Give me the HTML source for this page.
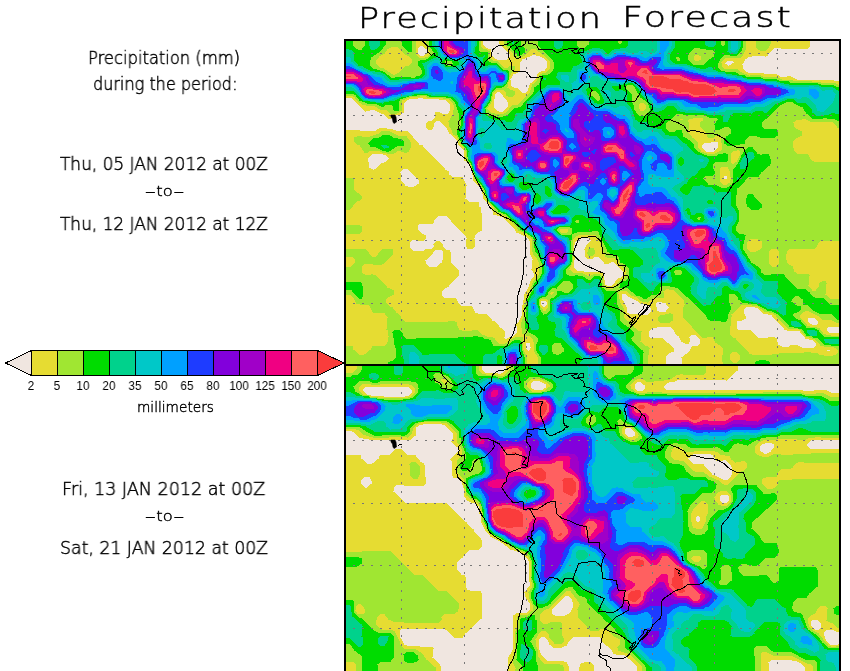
<!DOCTYPE html>
<html lang="en"><head><meta charset="utf-8"><title>Precipitation Forecast</title>
<style>
html,body{margin:0;padding:0;background:#fff}
body{width:850px;height:671px;position:relative;overflow:hidden;font-family:"DejaVu Sans","Liberation Sans",sans-serif;font-weight:200;color:#000}
.t{position:absolute;white-space:pre;line-height:1;transform-origin:0 0;will-change:transform}
.big{-webkit-text-stroke:0.45px #000;letter-spacing:1.6px}
.med{-webkit-text-stroke:0.5px #000}
.sm{-webkit-text-stroke:0.4px #000}
.d{display:inline-block;transform:scaleX(1.9);margin:0 2.2px}
.tick{font-size:12.4px;font-family:"Liberation Sans",sans-serif;font-weight:400;text-align:center;transform-origin:50% 50%;transform:scaleX(.94)}
svg{position:absolute;left:0;top:0}
</style></head><body>
<svg width="850" height="671" viewBox="0 0 850 671">
<defs><clipPath id="ct"><rect x="346" y="41" width="493" height="323"/></clipPath><clipPath id="cb"><rect x="346" y="366" width="493" height="306"/></clipPath></defs>
<g clip-path="url(#ct)" shape-rendering="crispEdges"><rect x="346" y="41" width="493" height="323" fill="#f0e6e0"/>
<path fill="#e6dc32" d="M345.5,40.5L345.5,97.5L349.5,97.5L351.5,98.5L365.5,111.5L373.5,109.5L380.5,113.5L382.5,113.5L387.5,118.5L391.5,118.5L395.5,115.5L400.5,114.5L403.5,112.5L403.5,103.5L408.5,99.5L417.5,98.5L418.5,97.5L421.5,97.5L422.5,98.5L437.5,98.5L438.5,99.5L445.5,100.5L449.5,103.5L450.5,108.5L448.5,112.5L446.5,114.5L441.5,113.5L438.5,111.5L434.5,112.5L434.5,117.5L432.5,120.5L427.5,121.5L425.5,123.5L425.5,127.5L427.5,129.5L431.5,129.5L433.5,127.5L434.5,122.5L436.5,120.5L438.5,120.5L445.5,126.5L449.5,133.5L455.5,138.5L457.5,141.5L458.5,145.5L463.5,150.5L464.5,160.5L469.5,165.5L471.5,169.5L473.5,180.5L480.5,188.5L482.5,193.5L482.5,197.5L491.5,207.5L493.5,214.5L503.5,217.5L506.5,221.5L513.5,227.5L516.5,232.5L525.5,236.5L528.5,239.5L529.5,241.5L529.5,253.5L532.5,259.5L531.5,269.5L533.5,272.5L533.5,276.5L530.5,280.5L528.5,287.5L523.5,295.5L523.5,299.5L522.5,300.5L522.5,304.5L521.5,305.5L521.5,315.5L519.5,320.5L515.5,325.5L516.5,326.5L517.5,331.5L512.5,336.5L510.5,336.5L506.5,338.5L504.5,338.5L503.5,337.5L504.5,336.5L504.5,331.5L500.5,327.5L499.5,327.5L498.5,325.5L493.5,320.5L492.5,320.5L486.5,313.5L477.5,313.5L475.5,312.5L471.5,305.5L460.5,305.5L458.5,303.5L455.5,297.5L444.5,298.5L441.5,295.5L441.5,291.5L444.5,288.5L448.5,286.5L449.5,284.5L453.5,280.5L454.5,280.5L458.5,275.5L458.5,270.5L457.5,268.5L450.5,262.5L450.5,252.5L449.5,250.5L445.5,249.5L442.5,246.5L442.5,244.5L439.5,240.5L435.5,241.5L433.5,244.5L433.5,246.5L431.5,248.5L424.5,249.5L423.5,250.5L413.5,250.5L409.5,247.5L409.5,242.5L412.5,239.5L415.5,239.5L416.5,240.5L423.5,240.5L425.5,238.5L425.5,235.5L421.5,233.5L417.5,229.5L417.5,225.5L420.5,223.5L431.5,224.5L433.5,222.5L433.5,220.5L437.5,216.5L439.5,215.5L444.5,215.5L446.5,216.5L450.5,220.5L450.5,221.5L465.5,235.5L465.5,237.5L466.5,238.5L465.5,240.5L465.5,245.5L467.5,248.5L472.5,248.5L474.5,246.5L474.5,239.5L473.5,238.5L474.5,237.5L474.5,235.5L477.5,232.5L481.5,230.5L481.5,213.5L480.5,212.5L480.5,207.5L479.5,206.5L478.5,201.5L468.5,201.5L465.5,198.5L466.5,185.5L462.5,177.5L460.5,176.5L452.5,177.5L449.5,174.5L448.5,171.5L445.5,169.5L422.5,145.5L419.5,144.5L407.5,130.5L397.5,131.5L394.5,129.5L392.5,129.5L391.5,128.5L386.5,128.5L385.5,127.5L378.5,128.5L374.5,131.5L345.5,129.5L345.5,364.5L665.5,364.5L665.5,356.5L668.5,353.5L673.5,351.5L673.5,347.5L661.5,337.5L650.5,338.5L648.5,336.5L648.5,331.5L651.5,328.5L656.5,327.5L657.5,326.5L668.5,326.5L670.5,327.5L673.5,330.5L675.5,334.5L678.5,336.5L681.5,341.5L684.5,343.5L688.5,343.5L689.5,341.5L689.5,337.5L691.5,334.5L694.5,334.5L699.5,339.5L699.5,343.5L697.5,345.5L691.5,346.5L689.5,351.5L681.5,357.5L681.5,364.5L839.5,364.5L839.5,332.5L828.5,332.5L826.5,330.5L826.5,328.5L829.5,326.5L839.5,326.5L839.5,80.5L833.5,80.5L832.5,79.5L796.5,79.5L789.5,75.5L787.5,75.5L786.5,76.5L780.5,76.5L775.5,73.5L765.5,74.5L761.5,72.5L747.5,72.5L742.5,68.5L742.5,64.5L745.5,59.5L749.5,56.5L751.5,56.5L752.5,55.5L765.5,56.5L767.5,55.5L774.5,47.5L779.5,47.5L780.5,48.5L807.5,48.5L809.5,46.5L809.5,40.5L498.5,40.5L499.5,44.5L506.5,51.5L507.5,51.5L510.5,55.5L507.5,59.5L496.5,59.5L494.5,58.5L491.5,54.5L490.5,49.5L485.5,47.5L482.5,44.5L482.5,40.5ZM826.5,350.5L827.5,349.5L829.5,350.5L828.5,351.5ZM526.5,342.5L528.5,342.5L529.5,343.5L529.5,346.5L530.5,347.5L528.5,351.5L525.5,347.5L525.5,343.5ZM807.5,318.5L808.5,317.5L813.5,317.5L817.5,320.5L817.5,323.5L816.5,324.5L811.5,324.5L808.5,322.5ZM736.5,321.5L737.5,320.5L741.5,320.5L745.5,318.5L745.5,315.5L743.5,312.5L743.5,309.5L746.5,306.5L752.5,306.5L757.5,308.5L763.5,313.5L771.5,315.5L784.5,329.5L786.5,330.5L797.5,330.5L799.5,331.5L805.5,338.5L812.5,340.5L815.5,343.5L815.5,345.5L813.5,347.5L802.5,347.5L795.5,344.5L789.5,345.5L788.5,346.5L781.5,346.5L778.5,344.5L776.5,338.5L773.5,336.5L768.5,336.5L767.5,337.5L760.5,338.5L759.5,337.5L757.5,337.5L750.5,329.5L738.5,330.5L736.5,328.5ZM655.5,303.5L658.5,301.5L665.5,303.5L668.5,307.5L665.5,311.5L660.5,312.5L657.5,310.5ZM541.5,300.5L544.5,300.5L546.5,302.5L546.5,304.5L544.5,307.5L540.5,304.5L540.5,301.5ZM621.5,294.5L622.5,293.5L624.5,293.5L629.5,297.5L636.5,300.5L639.5,303.5L647.5,305.5L650.5,308.5L650.5,311.5L647.5,314.5L640.5,314.5L639.5,313.5L629.5,314.5L627.5,312.5L626.5,307.5L623.5,301.5L621.5,299.5ZM440.5,249.5L442.5,251.5L442.5,259.5L441.5,260.5L441.5,262.5L436.5,266.5L428.5,266.5L425.5,263.5L425.5,260.5L431.5,255.5L435.5,249.5ZM578.5,238.5L587.5,237.5L591.5,240.5L586.5,244.5L584.5,249.5L584.5,256.5L586.5,258.5L592.5,258.5L593.5,257.5L598.5,256.5L604.5,263.5L608.5,263.5L612.5,261.5L622.5,270.5L623.5,274.5L620.5,277.5L617.5,278.5L612.5,285.5L608.5,286.5L605.5,284.5L603.5,274.5L600.5,271.5L584.5,272.5L583.5,271.5L576.5,270.5L573.5,267.5L573.5,260.5L574.5,259.5L574.5,257.5L573.5,256.5L573.5,245.5L574.5,244.5L574.5,242.5ZM723.5,176.5L725.5,175.5L726.5,176.5L726.5,178.5L724.5,179.5L723.5,178.5ZM402.5,169.5L407.5,168.5L410.5,172.5L418.5,179.5L418.5,183.5L414.5,186.5L407.5,186.5L405.5,185.5L400.5,179.5L400.5,172.5ZM367.5,161.5L368.5,157.5L373.5,153.5L380.5,153.5L385.5,155.5L388.5,158.5L386.5,161.5L380.5,163.5L378.5,166.5L374.5,169.5L372.5,169.5L369.5,167.5L368.5,162.5ZM717.5,142.5L718.5,147.5L713.5,151.5L705.5,151.5L701.5,147.5L701.5,145.5L704.5,142.5L710.5,142.5L711.5,141.5L716.5,141.5ZM497.5,91.5L499.5,91.5L507.5,101.5L507.5,106.5L503.5,111.5L498.5,111.5L493.5,107.5L493.5,99.5L494.5,98.5L494.5,94.5ZM725.5,63.5L727.5,60.5L731.5,60.5L733.5,62.5L729.5,65.5L727.5,65.5ZM537.5,55.5L543.5,58.5L546.5,61.5L547.5,66.5L544.5,70.5L540.5,71.5L537.5,73.5L536.5,77.5L531.5,82.5L530.5,82.5L527.5,90.5L525.5,92.5L522.5,93.5L517.5,88.5L513.5,87.5L510.5,85.5L510.5,79.5L513.5,74.5L520.5,71.5L519.5,62.5L522.5,59.5L534.5,54.5L535.5,55.5ZM421.5,45.5L426.5,49.5L426.5,53.5L422.5,56.5L419.5,55.5L417.5,53.5L417.5,49.5L418.5,47.5Z"/>
<path fill="#a0e632" d="M672.5,314.5L669.5,312.5L668.5,313.5L665.5,313.5L664.5,314.5L659.5,315.5L657.5,317.5L657.5,320.5L659.5,322.5L669.5,322.5L672.5,320.5ZM345.5,248.5L345.5,256.5L351.5,256.5L354.5,259.5L354.5,262.5L350.5,266.5L345.5,266.5L345.5,294.5L349.5,294.5L353.5,298.5L356.5,303.5L358.5,303.5L359.5,304.5L367.5,304.5L369.5,306.5L372.5,312.5L382.5,312.5L384.5,313.5L387.5,317.5L386.5,329.5L387.5,330.5L387.5,335.5L388.5,336.5L387.5,342.5L384.5,345.5L372.5,345.5L370.5,349.5L364.5,354.5L359.5,354.5L353.5,349.5L352.5,346.5L350.5,345.5L345.5,345.5L345.5,364.5L526.5,364.5L526.5,356.5L523.5,349.5L522.5,337.5L521.5,336.5L516.5,336.5L510.5,339.5L505.5,343.5L498.5,343.5L494.5,339.5L494.5,338.5L490.5,336.5L486.5,336.5L482.5,334.5L476.5,329.5L472.5,329.5L471.5,330.5L461.5,330.5L459.5,329.5L457.5,326.5L456.5,322.5L453.5,320.5L448.5,320.5L447.5,321.5L404.5,321.5L401.5,318.5L400.5,315.5L396.5,312.5L392.5,307.5L389.5,306.5L385.5,302.5L385.5,299.5L387.5,297.5L393.5,294.5L393.5,290.5L387.5,287.5L375.5,274.5L372.5,274.5L371.5,273.5L370.5,274.5L364.5,274.5L361.5,272.5L361.5,267.5L362.5,265.5L365.5,263.5L371.5,263.5L372.5,264.5L376.5,264.5L377.5,265.5L382.5,264.5L393.5,254.5L392.5,249.5L390.5,248.5L383.5,248.5L380.5,250.5L376.5,256.5L371.5,256.5L366.5,249.5ZM589.5,247.5L587.5,249.5L587.5,251.5L586.5,252.5L588.5,255.5L592.5,255.5L594.5,253.5L594.5,250.5L593.5,248.5ZM345.5,224.5L345.5,233.5L359.5,233.5L361.5,231.5L361.5,226.5L358.5,224.5ZM345.5,177.5L345.5,209.5L349.5,209.5L352.5,207.5L353.5,204.5L356.5,201.5L359.5,200.5L361.5,198.5L361.5,195.5L353.5,189.5L353.5,179.5L351.5,177.5ZM353.5,138.5L354.5,142.5L356.5,144.5L359.5,145.5L364.5,152.5L367.5,152.5L370.5,150.5L377.5,150.5L381.5,152.5L391.5,154.5L392.5,153.5L394.5,153.5L398.5,150.5L403.5,152.5L406.5,152.5L408.5,151.5L410.5,147.5L410.5,141.5L406.5,136.5L404.5,135.5L397.5,135.5L387.5,130.5L380.5,131.5L378.5,133.5L370.5,136.5L361.5,136.5L360.5,135.5L357.5,135.5L356.5,136.5L354.5,136.5ZM755.5,40.5L755.5,46.5L756.5,48.5L759.5,50.5L765.5,50.5L768.5,47.5L770.5,43.5L770.5,40.5ZM345.5,40.5L345.5,95.5L350.5,95.5L354.5,97.5L357.5,101.5L362.5,104.5L364.5,104.5L365.5,105.5L373.5,105.5L379.5,109.5L386.5,110.5L389.5,113.5L397.5,113.5L401.5,110.5L401.5,101.5L402.5,100.5L409.5,97.5L419.5,96.5L420.5,95.5L425.5,96.5L426.5,97.5L441.5,97.5L442.5,98.5L448.5,99.5L452.5,103.5L453.5,105.5L453.5,109.5L452.5,110.5L452.5,114.5L448.5,121.5L449.5,126.5L451.5,129.5L451.5,131.5L453.5,134.5L456.5,136.5L458.5,139.5L459.5,143.5L463.5,147.5L465.5,151.5L465.5,158.5L470.5,164.5L474.5,178.5L481.5,187.5L483.5,191.5L483.5,194.5L486.5,200.5L493.5,207.5L494.5,210.5L496.5,212.5L504.5,215.5L515.5,225.5L518.5,230.5L526.5,234.5L531.5,239.5L531.5,249.5L533.5,254.5L537.5,259.5L537.5,261.5L538.5,262.5L538.5,274.5L532.5,282.5L530.5,289.5L526.5,296.5L526.5,299.5L523.5,307.5L523.5,316.5L520.5,324.5L520.5,327.5L521.5,328.5L522.5,333.5L525.5,335.5L529.5,336.5L532.5,339.5L532.5,341.5L533.5,342.5L533.5,350.5L537.5,356.5L537.5,364.5L647.5,364.5L647.5,356.5L648.5,355.5L649.5,348.5L646.5,345.5L644.5,345.5L640.5,341.5L641.5,331.5L638.5,330.5L634.5,327.5L629.5,321.5L626.5,320.5L623.5,317.5L623.5,307.5L619.5,301.5L619.5,299.5L618.5,298.5L618.5,293.5L620.5,290.5L625.5,290.5L631.5,295.5L636.5,297.5L641.5,301.5L647.5,302.5L654.5,297.5L663.5,297.5L663.5,291.5L667.5,288.5L668.5,289.5L673.5,290.5L683.5,300.5L684.5,304.5L682.5,308.5L682.5,316.5L683.5,318.5L690.5,324.5L692.5,328.5L702.5,337.5L706.5,337.5L707.5,336.5L712.5,337.5L715.5,342.5L722.5,347.5L722.5,354.5L721.5,355.5L721.5,361.5L722.5,362.5L722.5,364.5L839.5,364.5L839.5,335.5L830.5,335.5L829.5,334.5L825.5,334.5L823.5,333.5L819.5,328.5L814.5,326.5L809.5,326.5L807.5,325.5L799.5,316.5L802.5,312.5L806.5,310.5L818.5,316.5L821.5,319.5L829.5,319.5L835.5,322.5L839.5,322.5L839.5,298.5L830.5,299.5L825.5,294.5L826.5,283.5L825.5,281.5L823.5,280.5L819.5,282.5L818.5,286.5L815.5,290.5L812.5,290.5L808.5,285.5L809.5,275.5L807.5,273.5L796.5,273.5L794.5,271.5L792.5,266.5L788.5,264.5L786.5,262.5L786.5,260.5L785.5,259.5L785.5,254.5L786.5,253.5L786.5,251.5L789.5,248.5L814.5,248.5L816.5,247.5L818.5,242.5L821.5,240.5L839.5,240.5L839.5,161.5L813.5,161.5L810.5,159.5L807.5,153.5L797.5,153.5L793.5,150.5L793.5,148.5L792.5,147.5L792.5,142.5L795.5,138.5L801.5,135.5L801.5,131.5L795.5,128.5L793.5,126.5L793.5,122.5L797.5,119.5L801.5,119.5L803.5,118.5L809.5,121.5L830.5,121.5L832.5,122.5L836.5,126.5L836.5,127.5L839.5,128.5L839.5,84.5L837.5,84.5L833.5,82.5L820.5,82.5L819.5,81.5L811.5,81.5L810.5,80.5L798.5,81.5L797.5,80.5L792.5,80.5L791.5,79.5L781.5,79.5L775.5,76.5L768.5,76.5L767.5,77.5L766.5,76.5L762.5,76.5L758.5,74.5L749.5,75.5L741.5,72.5L736.5,68.5L723.5,68.5L721.5,66.5L721.5,62.5L725.5,57.5L739.5,58.5L742.5,55.5L745.5,49.5L745.5,40.5L503.5,40.5L504.5,45.5L512.5,52.5L513.5,55.5L516.5,58.5L518.5,58.5L525.5,55.5L531.5,48.5L535.5,49.5L542.5,54.5L549.5,61.5L549.5,68.5L545.5,72.5L543.5,72.5L539.5,74.5L536.5,81.5L532.5,84.5L529.5,93.5L527.5,94.5L518.5,104.5L511.5,105.5L509.5,107.5L508.5,110.5L504.5,113.5L494.5,113.5L493.5,112.5L490.5,112.5L487.5,108.5L491.5,102.5L493.5,92.5L496.5,89.5L502.5,89.5L505.5,92.5L506.5,95.5L509.5,97.5L512.5,96.5L514.5,94.5L514.5,91.5L511.5,89.5L509.5,89.5L507.5,87.5L509.5,77.5L511.5,72.5L514.5,69.5L514.5,66.5L513.5,65.5L509.5,65.5L507.5,67.5L503.5,67.5L497.5,61.5L492.5,60.5L490.5,58.5L489.5,51.5L486.5,49.5L482.5,48.5L480.5,46.5L480.5,40.5L425.5,40.5L425.5,44.5L429.5,50.5L429.5,54.5L427.5,56.5L422.5,58.5L418.5,57.5L415.5,54.5L415.5,40.5ZM732.5,351.5L735.5,351.5L739.5,355.5L739.5,359.5L736.5,362.5L733.5,362.5L729.5,359.5L729.5,354.5ZM731.5,314.5L735.5,311.5L740.5,305.5L750.5,304.5L751.5,305.5L757.5,306.5L764.5,311.5L772.5,313.5L775.5,315.5L778.5,319.5L788.5,328.5L798.5,329.5L800.5,330.5L805.5,336.5L815.5,339.5L820.5,345.5L822.5,345.5L823.5,346.5L831.5,346.5L835.5,348.5L837.5,350.5L837.5,352.5L835.5,354.5L833.5,354.5L832.5,355.5L823.5,355.5L822.5,354.5L818.5,354.5L817.5,353.5L810.5,352.5L809.5,351.5L804.5,351.5L803.5,352.5L779.5,352.5L778.5,353.5L772.5,353.5L771.5,354.5L751.5,354.5L749.5,353.5L735.5,338.5L732.5,337.5L729.5,334.5L729.5,326.5L730.5,325.5L730.5,317.5L731.5,316.5ZM541.5,298.5L545.5,298.5L547.5,300.5L548.5,306.5L545.5,310.5L543.5,310.5L539.5,305.5L539.5,300.5ZM549.5,293.5L551.5,291.5L553.5,292.5L551.5,295.5ZM772.5,248.5L775.5,248.5L778.5,251.5L778.5,263.5L775.5,266.5L771.5,266.5L768.5,262.5L768.5,252.5L769.5,250.5ZM746.5,243.5L749.5,239.5L751.5,238.5L755.5,238.5L761.5,241.5L762.5,246.5L759.5,249.5L755.5,251.5L749.5,251.5L746.5,248.5ZM575.5,236.5L580.5,234.5L593.5,234.5L595.5,235.5L601.5,244.5L601.5,246.5L605.5,256.5L606.5,257.5L613.5,257.5L618.5,262.5L618.5,263.5L625.5,269.5L626.5,271.5L625.5,276.5L622.5,279.5L619.5,280.5L614.5,287.5L612.5,288.5L606.5,288.5L603.5,285.5L603.5,283.5L602.5,282.5L602.5,277.5L599.5,273.5L594.5,273.5L588.5,276.5L582.5,273.5L573.5,272.5L569.5,269.5L572.5,262.5L572.5,240.5ZM559.5,229.5L560.5,228.5L566.5,228.5L567.5,229.5L567.5,231.5L566.5,232.5L560.5,232.5L559.5,231.5ZM721.5,166.5L725.5,166.5L727.5,167.5L729.5,170.5L729.5,176.5L730.5,177.5L730.5,179.5L729.5,180.5L729.5,182.5L726.5,184.5L722.5,184.5L719.5,180.5L719.5,168.5ZM737.5,149.5L739.5,151.5L739.5,155.5L736.5,161.5L732.5,164.5L730.5,162.5L730.5,153.5L733.5,150.5L736.5,150.5ZM679.5,119.5L680.5,118.5L682.5,119.5L681.5,120.5ZM687.5,120.5L689.5,118.5L692.5,118.5L693.5,117.5L701.5,117.5L702.5,118.5L702.5,120.5L699.5,122.5L699.5,126.5L706.5,132.5L706.5,135.5L707.5,137.5L709.5,138.5L713.5,137.5L716.5,135.5L718.5,135.5L720.5,137.5L722.5,148.5L720.5,150.5L714.5,153.5L706.5,153.5L701.5,151.5L697.5,146.5L697.5,142.5L696.5,140.5L692.5,137.5L687.5,131.5L688.5,129.5L688.5,122.5ZM640.5,102.5L642.5,102.5L645.5,105.5L645.5,108.5L643.5,110.5L640.5,110.5L638.5,107.5L638.5,104.5ZM693.5,56.5L695.5,54.5L697.5,54.5L700.5,56.5L700.5,59.5L696.5,61.5L693.5,59.5ZM392.5,46.5L397.5,47.5L404.5,54.5L408.5,56.5L411.5,59.5L411.5,62.5L408.5,65.5L404.5,66.5L399.5,72.5L394.5,74.5L392.5,74.5L383.5,68.5L379.5,67.5L375.5,63.5L375.5,60.5L379.5,56.5L384.5,53.5L387.5,49.5Z"/>
<path fill="#00dc00" d="M754.5,362.5L754.5,364.5L769.5,364.5L769.5,362.5L767.5,360.5L765.5,360.5L764.5,359.5L759.5,359.5L758.5,360.5L756.5,360.5ZM387.5,362.5L387.5,364.5L524.5,364.5L524.5,357.5L523.5,356.5L523.5,353.5L521.5,348.5L521.5,344.5L520.5,343.5L520.5,341.5L518.5,339.5L515.5,339.5L511.5,341.5L508.5,344.5L506.5,344.5L505.5,345.5L498.5,345.5L497.5,346.5L493.5,345.5L490.5,340.5L486.5,338.5L483.5,338.5L482.5,337.5L477.5,336.5L476.5,335.5L473.5,335.5L472.5,336.5L458.5,336.5L457.5,337.5L416.5,337.5L415.5,338.5L407.5,339.5L402.5,335.5L402.5,333.5L399.5,329.5L394.5,329.5L392.5,332.5L392.5,337.5L393.5,338.5L393.5,342.5L395.5,347.5L395.5,357.5L392.5,360.5ZM345.5,281.5L345.5,289.5L349.5,289.5L351.5,290.5L358.5,298.5L361.5,298.5L362.5,296.5L362.5,286.5L361.5,285.5L361.5,283.5L359.5,281.5ZM748.5,193.5L746.5,195.5L746.5,197.5L745.5,198.5L745.5,201.5L747.5,206.5L751.5,209.5L758.5,209.5L761.5,207.5L761.5,203.5L754.5,197.5L752.5,193.5ZM368.5,143.5L370.5,146.5L373.5,146.5L381.5,150.5L384.5,150.5L385.5,151.5L389.5,151.5L396.5,146.5L403.5,145.5L403.5,141.5L401.5,139.5L393.5,137.5L388.5,134.5L383.5,134.5L379.5,137.5L372.5,138.5ZM506.5,40.5L507.5,45.5L509.5,46.5L517.5,55.5L520.5,55.5L524.5,52.5L524.5,48.5L521.5,45.5L520.5,40.5ZM401.5,40.5L401.5,45.5L407.5,51.5L410.5,52.5L411.5,51.5L411.5,40.5ZM345.5,40.5L345.5,93.5L352.5,93.5L355.5,95.5L359.5,100.5L367.5,103.5L374.5,103.5L381.5,106.5L383.5,106.5L386.5,104.5L390.5,104.5L392.5,106.5L393.5,110.5L395.5,111.5L399.5,110.5L398.5,101.5L400.5,99.5L408.5,96.5L416.5,95.5L417.5,94.5L424.5,94.5L428.5,96.5L444.5,96.5L445.5,97.5L450.5,98.5L454.5,101.5L458.5,112.5L459.5,119.5L460.5,120.5L460.5,125.5L459.5,127.5L456.5,129.5L456.5,133.5L461.5,143.5L466.5,149.5L466.5,156.5L467.5,157.5L467.5,159.5L471.5,164.5L471.5,166.5L476.5,179.5L482.5,186.5L484.5,190.5L486.5,198.5L498.5,211.5L502.5,213.5L504.5,213.5L511.5,220.5L512.5,220.5L520.5,229.5L532.5,237.5L533.5,239.5L533.5,247.5L534.5,248.5L534.5,250.5L538.5,255.5L541.5,263.5L541.5,273.5L539.5,277.5L534.5,282.5L532.5,286.5L532.5,290.5L527.5,299.5L526.5,305.5L525.5,306.5L525.5,317.5L524.5,318.5L524.5,327.5L527.5,331.5L534.5,335.5L537.5,338.5L537.5,341.5L535.5,345.5L535.5,349.5L540.5,357.5L540.5,364.5L642.5,364.5L643.5,352.5L642.5,350.5L640.5,349.5L631.5,340.5L631.5,338.5L633.5,335.5L633.5,332.5L630.5,328.5L622.5,323.5L619.5,319.5L619.5,309.5L616.5,302.5L616.5,292.5L614.5,290.5L606.5,291.5L602.5,287.5L600.5,277.5L598.5,275.5L595.5,275.5L590.5,279.5L587.5,279.5L581.5,275.5L577.5,275.5L576.5,274.5L574.5,275.5L568.5,275.5L565.5,273.5L565.5,269.5L570.5,264.5L570.5,262.5L571.5,261.5L571.5,251.5L570.5,250.5L570.5,240.5L571.5,239.5L571.5,234.5L579.5,231.5L591.5,231.5L592.5,230.5L596.5,230.5L598.5,232.5L607.5,251.5L611.5,254.5L616.5,255.5L618.5,257.5L620.5,262.5L624.5,264.5L628.5,268.5L628.5,277.5L625.5,280.5L620.5,282.5L619.5,287.5L627.5,288.5L636.5,295.5L638.5,295.5L643.5,298.5L646.5,298.5L652.5,294.5L656.5,294.5L658.5,293.5L659.5,291.5L659.5,287.5L661.5,285.5L668.5,285.5L669.5,286.5L672.5,286.5L677.5,288.5L685.5,296.5L686.5,296.5L693.5,303.5L694.5,303.5L697.5,307.5L704.5,313.5L707.5,319.5L709.5,320.5L719.5,320.5L720.5,321.5L725.5,321.5L727.5,319.5L728.5,313.5L730.5,309.5L730.5,305.5L728.5,300.5L728.5,294.5L729.5,293.5L733.5,293.5L737.5,296.5L738.5,299.5L741.5,302.5L746.5,302.5L747.5,303.5L756.5,304.5L767.5,310.5L769.5,310.5L776.5,313.5L783.5,320.5L784.5,320.5L789.5,326.5L802.5,329.5L806.5,335.5L811.5,336.5L812.5,337.5L816.5,337.5L824.5,344.5L829.5,344.5L830.5,345.5L839.5,346.5L839.5,336.5L823.5,336.5L818.5,331.5L818.5,330.5L814.5,328.5L806.5,327.5L800.5,320.5L795.5,318.5L792.5,314.5L794.5,312.5L796.5,312.5L800.5,310.5L801.5,305.5L796.5,305.5L791.5,301.5L792.5,298.5L794.5,296.5L797.5,295.5L802.5,299.5L803.5,304.5L807.5,305.5L812.5,310.5L819.5,313.5L830.5,313.5L837.5,319.5L839.5,319.5L839.5,304.5L829.5,304.5L822.5,297.5L814.5,297.5L812.5,296.5L809.5,292.5L804.5,288.5L800.5,288.5L799.5,289.5L798.5,288.5L796.5,288.5L793.5,284.5L785.5,277.5L783.5,273.5L773.5,273.5L768.5,275.5L763.5,274.5L761.5,272.5L760.5,269.5L756.5,265.5L751.5,262.5L743.5,249.5L742.5,244.5L743.5,243.5L745.5,235.5L742.5,233.5L739.5,233.5L735.5,230.5L735.5,226.5L737.5,224.5L739.5,219.5L738.5,209.5L735.5,204.5L735.5,195.5L736.5,194.5L736.5,190.5L737.5,188.5L744.5,182.5L745.5,179.5L748.5,176.5L758.5,176.5L761.5,172.5L769.5,165.5L770.5,163.5L770.5,158.5L768.5,153.5L762.5,153.5L761.5,154.5L759.5,154.5L757.5,153.5L752.5,147.5L748.5,146.5L745.5,149.5L741.5,155.5L738.5,162.5L732.5,170.5L732.5,182.5L731.5,184.5L727.5,187.5L722.5,188.5L716.5,185.5L708.5,184.5L703.5,178.5L705.5,175.5L713.5,175.5L715.5,172.5L712.5,167.5L712.5,164.5L715.5,161.5L725.5,162.5L727.5,160.5L727.5,154.5L723.5,152.5L722.5,153.5L719.5,153.5L716.5,155.5L706.5,155.5L705.5,154.5L703.5,154.5L697.5,151.5L694.5,147.5L693.5,144.5L689.5,140.5L683.5,136.5L681.5,129.5L677.5,129.5L674.5,131.5L670.5,132.5L665.5,128.5L665.5,123.5L667.5,121.5L670.5,120.5L676.5,113.5L681.5,113.5L682.5,114.5L702.5,114.5L711.5,118.5L715.5,117.5L717.5,119.5L714.5,124.5L714.5,129.5L719.5,129.5L725.5,126.5L727.5,126.5L730.5,129.5L730.5,133.5L726.5,136.5L723.5,140.5L724.5,143.5L726.5,145.5L728.5,145.5L729.5,146.5L744.5,143.5L745.5,139.5L749.5,135.5L754.5,135.5L759.5,137.5L774.5,137.5L777.5,135.5L777.5,130.5L775.5,128.5L764.5,129.5L761.5,126.5L761.5,122.5L764.5,119.5L767.5,118.5L779.5,105.5L787.5,101.5L791.5,101.5L793.5,103.5L802.5,107.5L806.5,113.5L812.5,118.5L822.5,118.5L823.5,117.5L825.5,117.5L826.5,118.5L832.5,118.5L836.5,120.5L839.5,120.5L839.5,87.5L835.5,86.5L832.5,84.5L820.5,84.5L815.5,82.5L789.5,82.5L788.5,81.5L778.5,80.5L774.5,78.5L763.5,78.5L758.5,76.5L752.5,76.5L750.5,77.5L749.5,76.5L745.5,76.5L744.5,75.5L739.5,74.5L734.5,71.5L724.5,71.5L723.5,70.5L721.5,70.5L717.5,67.5L717.5,64.5L720.5,58.5L724.5,54.5L727.5,54.5L732.5,56.5L737.5,55.5L741.5,50.5L741.5,48.5L742.5,47.5L742.5,40.5L724.5,40.5L724.5,44.5L723.5,45.5L721.5,45.5L720.5,44.5L720.5,40.5L621.5,40.5L621.5,42.5L620.5,43.5L618.5,43.5L617.5,42.5L618.5,40.5L588.5,40.5L588.5,44.5L583.5,48.5L580.5,48.5L576.5,45.5L576.5,40.5L537.5,40.5L537.5,45.5L552.5,59.5L552.5,61.5L553.5,62.5L553.5,68.5L552.5,70.5L549.5,73.5L547.5,74.5L543.5,74.5L540.5,76.5L539.5,78.5L539.5,82.5L538.5,84.5L534.5,87.5L533.5,92.5L524.5,101.5L521.5,106.5L513.5,108.5L507.5,115.5L503.5,115.5L502.5,116.5L493.5,116.5L492.5,115.5L487.5,114.5L485.5,111.5L485.5,108.5L490.5,101.5L492.5,91.5L496.5,87.5L502.5,87.5L506.5,84.5L508.5,79.5L508.5,71.5L507.5,70.5L502.5,69.5L496.5,63.5L494.5,62.5L490.5,62.5L487.5,60.5L487.5,56.5L488.5,55.5L487.5,52.5L486.5,51.5L479.5,51.5L478.5,50.5L478.5,40.5L428.5,40.5L428.5,44.5L434.5,53.5L426.5,59.5L422.5,59.5L417.5,61.5L417.5,64.5L421.5,69.5L422.5,72.5L420.5,75.5L415.5,76.5L414.5,77.5L410.5,77.5L409.5,76.5L395.5,76.5L394.5,77.5L391.5,77.5L383.5,71.5L373.5,68.5L369.5,65.5L369.5,61.5L371.5,57.5L381.5,50.5L385.5,44.5L385.5,40.5L364.5,40.5L364.5,45.5L361.5,49.5L357.5,49.5L355.5,48.5L352.5,45.5L352.5,40.5ZM554.5,342.5L558.5,342.5L560.5,343.5L564.5,349.5L563.5,351.5L559.5,354.5L555.5,354.5L553.5,353.5L551.5,350.5L551.5,346.5ZM568.5,280.5L572.5,284.5L572.5,288.5L568.5,292.5L563.5,292.5L560.5,290.5L557.5,290.5L556.5,294.5L553.5,297.5L550.5,298.5L549.5,300.5L549.5,310.5L546.5,313.5L543.5,314.5L539.5,308.5L539.5,306.5L538.5,305.5L538.5,299.5L541.5,297.5L545.5,296.5L547.5,294.5L547.5,292.5L551.5,288.5L553.5,287.5L555.5,287.5L556.5,288.5L562.5,281.5L564.5,280.5ZM673.5,271.5L675.5,269.5L680.5,269.5L682.5,272.5L680.5,274.5L675.5,274.5ZM556.5,229.5L558.5,227.5L567.5,226.5L571.5,228.5L572.5,233.5L571.5,234.5L560.5,234.5L556.5,230.5ZM574.5,221.5L576.5,219.5L578.5,220.5L578.5,222.5L577.5,223.5ZM696.5,218.5L698.5,216.5L700.5,217.5L699.5,219.5L697.5,219.5ZM592.5,90.5L595.5,91.5L598.5,94.5L599.5,96.5L599.5,99.5L598.5,100.5L596.5,100.5L591.5,95.5L590.5,92.5ZM627.5,84.5L631.5,84.5L634.5,87.5L640.5,97.5L647.5,102.5L649.5,107.5L649.5,110.5L645.5,115.5L639.5,116.5L636.5,113.5L634.5,109.5L633.5,104.5L631.5,101.5L631.5,93.5L625.5,88.5L625.5,86.5ZM444.5,61.5L445.5,60.5L449.5,60.5L451.5,61.5L452.5,63.5L450.5,65.5L447.5,65.5L444.5,63.5ZM675.5,57.5L676.5,56.5L678.5,56.5L680.5,59.5L679.5,60.5L677.5,60.5ZM687.5,59.5L687.5,56.5L689.5,52.5L693.5,48.5L698.5,47.5L699.5,48.5L704.5,48.5L705.5,49.5L711.5,49.5L714.5,52.5L713.5,56.5L707.5,60.5L702.5,65.5L693.5,64.5Z"/>
<path fill="#00d28c" d="M540.5,344.5L538.5,346.5L538.5,349.5L542.5,354.5L545.5,354.5L547.5,351.5L547.5,346.5L545.5,344.5ZM401.5,347.5L401.5,353.5L403.5,358.5L403.5,364.5L465.5,364.5L465.5,363.5L461.5,361.5L454.5,353.5L429.5,353.5L428.5,354.5L422.5,354.5L413.5,344.5L404.5,344.5L402.5,345.5ZM518.5,342.5L514.5,342.5L506.5,347.5L501.5,347.5L493.5,353.5L485.5,353.5L482.5,356.5L482.5,364.5L496.5,364.5L496.5,356.5L498.5,354.5L501.5,356.5L501.5,359.5L502.5,360.5L501.5,364.5L522.5,364.5L522.5,356.5L521.5,355.5L520.5,346.5ZM823.5,339.5L825.5,342.5L827.5,342.5L828.5,343.5L839.5,344.5L839.5,338.5L825.5,338.5ZM806.5,330.5L806.5,332.5L810.5,335.5L816.5,335.5L817.5,334.5L816.5,331.5L812.5,329.5L808.5,329.5ZM790.5,321.5L790.5,324.5L793.5,326.5L800.5,326.5L801.5,325.5L798.5,321.5L796.5,321.5L795.5,320.5L791.5,320.5ZM551.5,301.5L551.5,311.5L547.5,316.5L547.5,319.5L550.5,321.5L554.5,322.5L556.5,325.5L554.5,330.5L554.5,335.5L557.5,337.5L561.5,338.5L573.5,350.5L580.5,355.5L582.5,359.5L580.5,361.5L579.5,364.5L638.5,364.5L639.5,362.5L639.5,355.5L637.5,351.5L633.5,346.5L629.5,344.5L625.5,340.5L625.5,335.5L626.5,334.5L625.5,331.5L617.5,325.5L616.5,323.5L616.5,318.5L614.5,313.5L608.5,309.5L603.5,303.5L603.5,293.5L599.5,286.5L599.5,280.5L598.5,278.5L595.5,278.5L589.5,283.5L585.5,282.5L581.5,278.5L576.5,278.5L577.5,286.5L572.5,293.5L567.5,294.5L566.5,295.5L561.5,294.5ZM736.5,176.5L736.5,179.5L737.5,180.5L738.5,178.5ZM751.5,151.5L748.5,151.5L742.5,158.5L739.5,163.5L739.5,169.5L744.5,168.5L746.5,166.5L747.5,163.5L753.5,158.5L754.5,156.5L753.5,155.5L753.5,153.5ZM380.5,144.5L380.5,145.5L384.5,148.5L388.5,147.5L388.5,145.5L386.5,145.5L385.5,144.5ZM545.5,77.5L543.5,77.5L542.5,78.5L544.5,80.5L545.5,79.5ZM728.5,40.5L727.5,51.5L729.5,53.5L731.5,53.5L732.5,54.5L736.5,53.5L738.5,51.5L740.5,46.5L740.5,40.5ZM704.5,40.5L704.5,43.5L705.5,45.5L707.5,46.5L713.5,46.5L715.5,44.5L715.5,40.5ZM553.5,40.5L553.5,46.5L555.5,48.5L559.5,48.5L561.5,47.5L562.5,45.5L562.5,40.5ZM511.5,40.5L511.5,43.5L513.5,44.5L513.5,40.5ZM345.5,49.5L345.5,90.5L351.5,90.5L353.5,91.5L363.5,100.5L382.5,103.5L383.5,102.5L394.5,100.5L400.5,97.5L406.5,96.5L407.5,95.5L411.5,95.5L416.5,93.5L425.5,93.5L430.5,95.5L446.5,95.5L447.5,96.5L452.5,97.5L457.5,102.5L458.5,105.5L462.5,110.5L462.5,114.5L461.5,115.5L461.5,117.5L462.5,118.5L462.5,125.5L459.5,132.5L460.5,138.5L461.5,139.5L461.5,141.5L467.5,148.5L467.5,150.5L468.5,151.5L467.5,152.5L468.5,158.5L471.5,162.5L475.5,175.5L482.5,184.5L485.5,190.5L487.5,198.5L489.5,201.5L491.5,202.5L500.5,211.5L502.5,211.5L506.5,213.5L511.5,218.5L515.5,220.5L524.5,230.5L534.5,237.5L535.5,239.5L535.5,246.5L539.5,252.5L541.5,257.5L541.5,260.5L543.5,265.5L543.5,273.5L539.5,280.5L535.5,284.5L533.5,289.5L533.5,293.5L530.5,297.5L527.5,304.5L527.5,324.5L531.5,329.5L536.5,330.5L538.5,328.5L538.5,324.5L536.5,320.5L536.5,317.5L538.5,314.5L538.5,307.5L536.5,302.5L537.5,298.5L540.5,296.5L544.5,295.5L547.5,289.5L549.5,287.5L554.5,285.5L562.5,277.5L562.5,270.5L569.5,263.5L569.5,261.5L570.5,260.5L569.5,240.5L568.5,239.5L568.5,237.5L558.5,234.5L554.5,230.5L554.5,229.5L558.5,226.5L569.5,225.5L571.5,223.5L572.5,217.5L575.5,214.5L581.5,214.5L586.5,217.5L590.5,217.5L595.5,219.5L598.5,222.5L600.5,226.5L602.5,234.5L605.5,240.5L612.5,249.5L617.5,250.5L618.5,249.5L628.5,248.5L629.5,249.5L631.5,249.5L642.5,259.5L642.5,264.5L639.5,266.5L635.5,266.5L632.5,268.5L632.5,275.5L633.5,277.5L636.5,278.5L649.5,290.5L653.5,290.5L655.5,286.5L658.5,283.5L670.5,282.5L671.5,281.5L671.5,277.5L670.5,276.5L670.5,272.5L669.5,271.5L670.5,269.5L674.5,266.5L680.5,266.5L681.5,267.5L683.5,267.5L693.5,277.5L693.5,281.5L690.5,286.5L690.5,289.5L689.5,290.5L690.5,291.5L690.5,293.5L702.5,305.5L704.5,306.5L705.5,305.5L710.5,304.5L716.5,296.5L720.5,295.5L721.5,294.5L721.5,289.5L724.5,285.5L726.5,285.5L730.5,289.5L737.5,291.5L740.5,294.5L742.5,299.5L744.5,300.5L760.5,304.5L767.5,308.5L775.5,310.5L783.5,315.5L785.5,314.5L785.5,305.5L786.5,304.5L786.5,301.5L782.5,298.5L776.5,291.5L776.5,289.5L777.5,288.5L777.5,280.5L769.5,280.5L768.5,281.5L767.5,280.5L764.5,280.5L757.5,274.5L756.5,270.5L747.5,261.5L746.5,258.5L742.5,253.5L739.5,246.5L739.5,241.5L738.5,240.5L738.5,238.5L736.5,237.5L731.5,231.5L731.5,226.5L734.5,223.5L736.5,219.5L736.5,213.5L734.5,209.5L730.5,205.5L730.5,196.5L731.5,195.5L730.5,192.5L729.5,191.5L717.5,192.5L711.5,187.5L704.5,186.5L700.5,184.5L699.5,185.5L692.5,186.5L690.5,191.5L687.5,194.5L684.5,194.5L679.5,190.5L679.5,188.5L683.5,184.5L686.5,183.5L688.5,179.5L691.5,176.5L695.5,175.5L700.5,168.5L704.5,167.5L707.5,164.5L709.5,159.5L705.5,156.5L703.5,156.5L699.5,154.5L696.5,154.5L693.5,152.5L686.5,144.5L682.5,142.5L675.5,135.5L668.5,135.5L667.5,134.5L665.5,134.5L661.5,129.5L651.5,127.5L646.5,121.5L638.5,122.5L635.5,119.5L631.5,108.5L626.5,102.5L627.5,94.5L624.5,91.5L620.5,89.5L618.5,90.5L614.5,90.5L611.5,86.5L612.5,85.5L619.5,86.5L624.5,83.5L627.5,83.5L628.5,82.5L632.5,83.5L638.5,89.5L641.5,95.5L650.5,103.5L650.5,105.5L653.5,111.5L655.5,112.5L662.5,110.5L668.5,105.5L673.5,105.5L677.5,110.5L679.5,111.5L683.5,111.5L684.5,112.5L701.5,112.5L706.5,114.5L719.5,114.5L722.5,116.5L723.5,121.5L727.5,121.5L730.5,115.5L734.5,112.5L751.5,113.5L756.5,110.5L761.5,110.5L763.5,112.5L766.5,112.5L774.5,104.5L789.5,98.5L793.5,99.5L797.5,102.5L805.5,103.5L811.5,109.5L812.5,112.5L815.5,115.5L823.5,115.5L824.5,114.5L828.5,114.5L833.5,112.5L834.5,113.5L839.5,113.5L839.5,90.5L837.5,90.5L831.5,86.5L820.5,86.5L816.5,84.5L788.5,84.5L787.5,83.5L783.5,83.5L782.5,82.5L779.5,82.5L774.5,80.5L765.5,80.5L760.5,78.5L746.5,78.5L745.5,77.5L742.5,77.5L741.5,76.5L731.5,74.5L730.5,73.5L725.5,73.5L724.5,72.5L717.5,71.5L713.5,69.5L711.5,66.5L709.5,66.5L705.5,68.5L699.5,68.5L698.5,67.5L695.5,67.5L684.5,63.5L674.5,63.5L669.5,59.5L669.5,55.5L674.5,47.5L674.5,40.5L627.5,40.5L627.5,45.5L625.5,47.5L613.5,49.5L608.5,53.5L606.5,53.5L602.5,49.5L597.5,47.5L594.5,47.5L587.5,50.5L580.5,51.5L578.5,53.5L581.5,59.5L581.5,62.5L577.5,65.5L573.5,65.5L570.5,71.5L559.5,71.5L556.5,73.5L556.5,75.5L555.5,76.5L560.5,82.5L559.5,84.5L547.5,84.5L544.5,87.5L540.5,89.5L527.5,101.5L525.5,105.5L525.5,108.5L522.5,112.5L516.5,112.5L515.5,113.5L514.5,118.5L511.5,121.5L506.5,122.5L503.5,119.5L494.5,119.5L493.5,118.5L490.5,118.5L484.5,114.5L484.5,107.5L489.5,100.5L490.5,94.5L492.5,89.5L496.5,85.5L502.5,85.5L505.5,83.5L507.5,79.5L507.5,73.5L505.5,71.5L501.5,70.5L495.5,64.5L488.5,64.5L487.5,65.5L484.5,65.5L482.5,63.5L482.5,58.5L484.5,56.5L484.5,54.5L482.5,56.5L479.5,57.5L477.5,56.5L474.5,52.5L475.5,46.5L476.5,45.5L476.5,40.5L431.5,40.5L431.5,44.5L437.5,51.5L438.5,54.5L435.5,57.5L422.5,63.5L424.5,68.5L424.5,74.5L421.5,77.5L419.5,77.5L418.5,78.5L399.5,78.5L398.5,79.5L389.5,79.5L384.5,74.5L380.5,72.5L369.5,70.5L362.5,66.5L358.5,65.5L353.5,59.5L353.5,52.5L350.5,49.5L348.5,49.5L347.5,48.5ZM742.5,287.5L742.5,285.5L744.5,283.5L746.5,283.5L748.5,285.5L746.5,288.5L743.5,288.5ZM689.5,215.5L690.5,214.5L694.5,214.5L695.5,213.5L700.5,212.5L703.5,215.5L704.5,219.5L702.5,221.5L693.5,221.5L690.5,218.5ZM687.5,207.5L689.5,209.5L689.5,211.5L690.5,212.5L690.5,214.5L689.5,215.5L686.5,213.5L686.5,211.5L685.5,210.5ZM551.5,212.5L551.5,211.5L559.5,204.5L562.5,204.5L566.5,206.5L569.5,209.5L566.5,212.5L561.5,212.5L560.5,213.5L552.5,213.5ZM706.5,201.5L708.5,199.5L711.5,199.5L713.5,202.5L712.5,203.5L707.5,203.5ZM536.5,192.5L540.5,195.5L540.5,200.5L537.5,203.5L535.5,203.5L533.5,201.5L533.5,196.5ZM545.5,185.5L547.5,185.5L550.5,189.5L550.5,191.5L552.5,194.5L550.5,196.5L547.5,196.5L544.5,193.5L544.5,186.5ZM518.5,183.5L520.5,181.5L528.5,182.5L531.5,184.5L531.5,187.5L526.5,189.5L522.5,189.5L518.5,186.5ZM510.5,172.5L513.5,174.5L515.5,178.5L513.5,181.5L508.5,181.5L506.5,179.5L507.5,175.5ZM680.5,156.5L683.5,159.5L683.5,163.5L681.5,166.5L680.5,166.5L677.5,162.5L677.5,159.5ZM588.5,86.5L594.5,86.5L596.5,87.5L599.5,90.5L604.5,101.5L602.5,103.5L596.5,103.5L594.5,102.5L586.5,93.5L586.5,91.5L585.5,90.5ZM441.5,61.5L444.5,58.5L447.5,58.5L448.5,59.5L451.5,59.5L452.5,60.5L457.5,61.5L458.5,62.5L458.5,64.5L454.5,66.5L447.5,67.5L445.5,66.5ZM368.5,40.5L368.5,45.5L369.5,46.5L369.5,48.5L372.5,50.5L377.5,48.5L379.5,45.5L379.5,40.5Z"/>
<path fill="#00c8c8" d="M410.5,351.5L408.5,355.5L408.5,364.5L418.5,364.5L418.5,360.5L419.5,359.5L418.5,358.5L418.5,356.5L413.5,351.5ZM517.5,345.5L514.5,345.5L509.5,348.5L504.5,349.5L502.5,351.5L503.5,352.5L504.5,364.5L520.5,364.5L520.5,354.5L519.5,353.5L519.5,349.5ZM553.5,303.5L553.5,314.5L552.5,315.5L554.5,317.5L559.5,318.5L561.5,320.5L561.5,327.5L565.5,332.5L568.5,340.5L569.5,340.5L587.5,359.5L596.5,358.5L598.5,361.5L597.5,364.5L636.5,364.5L636.5,358.5L632.5,349.5L630.5,347.5L627.5,346.5L622.5,341.5L620.5,336.5L615.5,333.5L608.5,326.5L607.5,323.5L611.5,319.5L611.5,316.5L608.5,313.5L602.5,310.5L601.5,308.5L601.5,295.5L595.5,285.5L589.5,288.5L582.5,288.5L574.5,295.5L572.5,296.5L565.5,296.5L564.5,297.5L561.5,297.5ZM580.5,304.5L584.5,301.5L587.5,301.5L590.5,303.5L591.5,307.5L588.5,309.5L582.5,309.5L580.5,307.5ZM698.5,159.5L699.5,161.5L702.5,161.5L703.5,160.5L702.5,158.5L699.5,158.5ZM604.5,89.5L603.5,90.5L603.5,94.5L606.5,97.5L609.5,97.5L610.5,96.5L610.5,92.5L607.5,89.5ZM560.5,75.5L560.5,78.5L565.5,81.5L568.5,81.5L568.5,76.5L566.5,74.5L561.5,74.5ZM731.5,40.5L730.5,49.5L731.5,51.5L735.5,51.5L737.5,48.5L738.5,40.5ZM345.5,56.5L345.5,86.5L349.5,86.5L353.5,88.5L358.5,93.5L358.5,94.5L364.5,99.5L366.5,99.5L367.5,100.5L373.5,100.5L374.5,101.5L382.5,101.5L383.5,100.5L387.5,100.5L388.5,99.5L391.5,99.5L402.5,95.5L410.5,94.5L411.5,93.5L419.5,92.5L420.5,91.5L423.5,91.5L424.5,92.5L431.5,93.5L432.5,94.5L434.5,94.5L435.5,93.5L446.5,93.5L452.5,96.5L454.5,96.5L458.5,100.5L459.5,103.5L464.5,108.5L464.5,113.5L463.5,114.5L463.5,126.5L462.5,127.5L462.5,131.5L461.5,132.5L461.5,137.5L463.5,142.5L469.5,148.5L469.5,157.5L472.5,162.5L472.5,165.5L473.5,166.5L474.5,171.5L485.5,187.5L488.5,198.5L490.5,201.5L491.5,201.5L499.5,209.5L507.5,212.5L513.5,218.5L517.5,220.5L525.5,229.5L536.5,237.5L538.5,246.5L542.5,254.5L542.5,259.5L545.5,267.5L545.5,272.5L542.5,279.5L536.5,285.5L535.5,287.5L535.5,293.5L534.5,294.5L534.5,296.5L529.5,302.5L528.5,311.5L531.5,315.5L535.5,314.5L537.5,311.5L537.5,307.5L535.5,303.5L535.5,298.5L537.5,296.5L543.5,294.5L545.5,292.5L547.5,287.5L549.5,285.5L552.5,284.5L558.5,278.5L560.5,269.5L563.5,266.5L567.5,264.5L569.5,260.5L568.5,244.5L567.5,243.5L566.5,238.5L561.5,237.5L557.5,235.5L552.5,230.5L552.5,229.5L555.5,226.5L557.5,226.5L558.5,225.5L563.5,225.5L564.5,224.5L569.5,223.5L570.5,221.5L570.5,217.5L569.5,215.5L567.5,214.5L551.5,214.5L549.5,212.5L549.5,211.5L555.5,205.5L555.5,200.5L554.5,199.5L546.5,198.5L539.5,204.5L534.5,205.5L532.5,203.5L532.5,193.5L529.5,190.5L519.5,190.5L514.5,183.5L505.5,182.5L504.5,181.5L504.5,178.5L507.5,172.5L510.5,169.5L514.5,172.5L515.5,175.5L518.5,178.5L523.5,177.5L526.5,173.5L528.5,173.5L531.5,176.5L533.5,176.5L534.5,177.5L544.5,177.5L546.5,178.5L550.5,182.5L551.5,184.5L551.5,188.5L554.5,194.5L557.5,197.5L559.5,197.5L564.5,200.5L568.5,200.5L573.5,198.5L577.5,195.5L579.5,195.5L580.5,196.5L580.5,199.5L579.5,200.5L578.5,207.5L580.5,209.5L584.5,210.5L588.5,214.5L592.5,215.5L595.5,217.5L597.5,217.5L601.5,221.5L605.5,232.5L609.5,235.5L618.5,245.5L620.5,245.5L621.5,246.5L628.5,246.5L629.5,245.5L630.5,246.5L635.5,246.5L638.5,248.5L642.5,248.5L643.5,247.5L653.5,247.5L655.5,248.5L657.5,252.5L657.5,255.5L659.5,258.5L659.5,262.5L655.5,264.5L649.5,272.5L641.5,272.5L640.5,273.5L640.5,276.5L644.5,281.5L646.5,282.5L650.5,282.5L652.5,280.5L654.5,280.5L655.5,281.5L665.5,281.5L667.5,280.5L668.5,278.5L667.5,267.5L669.5,265.5L671.5,265.5L672.5,264.5L678.5,264.5L679.5,265.5L686.5,266.5L697.5,276.5L698.5,278.5L698.5,283.5L696.5,287.5L696.5,293.5L702.5,298.5L705.5,298.5L706.5,296.5L705.5,291.5L706.5,290.5L706.5,288.5L708.5,286.5L712.5,286.5L716.5,288.5L721.5,282.5L725.5,281.5L731.5,287.5L736.5,288.5L738.5,287.5L740.5,282.5L742.5,280.5L747.5,280.5L748.5,281.5L750.5,281.5L753.5,284.5L753.5,287.5L750.5,290.5L745.5,292.5L744.5,296.5L746.5,298.5L757.5,302.5L763.5,303.5L771.5,307.5L778.5,307.5L780.5,304.5L779.5,303.5L779.5,301.5L775.5,297.5L773.5,296.5L769.5,296.5L767.5,297.5L766.5,296.5L764.5,296.5L760.5,292.5L762.5,284.5L756.5,278.5L754.5,272.5L748.5,266.5L743.5,257.5L739.5,252.5L737.5,247.5L733.5,242.5L727.5,230.5L727.5,227.5L729.5,223.5L732.5,220.5L732.5,215.5L729.5,215.5L726.5,217.5L721.5,217.5L719.5,215.5L718.5,210.5L715.5,207.5L708.5,206.5L707.5,207.5L705.5,207.5L703.5,209.5L703.5,212.5L708.5,220.5L706.5,222.5L694.5,223.5L693.5,222.5L691.5,222.5L685.5,217.5L682.5,209.5L682.5,199.5L681.5,197.5L678.5,195.5L672.5,188.5L674.5,185.5L679.5,183.5L683.5,180.5L683.5,176.5L676.5,168.5L676.5,166.5L675.5,165.5L675.5,155.5L678.5,152.5L682.5,150.5L682.5,147.5L673.5,139.5L671.5,138.5L664.5,138.5L656.5,131.5L653.5,131.5L648.5,129.5L643.5,129.5L641.5,131.5L637.5,131.5L633.5,126.5L632.5,119.5L629.5,111.5L624.5,106.5L620.5,105.5L616.5,107.5L612.5,107.5L609.5,105.5L601.5,105.5L600.5,106.5L595.5,105.5L592.5,103.5L581.5,90.5L581.5,87.5L589.5,81.5L590.5,77.5L592.5,75.5L597.5,76.5L602.5,80.5L609.5,81.5L610.5,82.5L615.5,82.5L616.5,83.5L622.5,83.5L623.5,82.5L630.5,81.5L631.5,82.5L633.5,82.5L639.5,88.5L642.5,94.5L644.5,96.5L647.5,97.5L651.5,101.5L653.5,106.5L655.5,107.5L660.5,107.5L667.5,103.5L674.5,102.5L676.5,103.5L680.5,108.5L685.5,110.5L687.5,110.5L688.5,109.5L694.5,109.5L695.5,110.5L705.5,111.5L706.5,112.5L718.5,112.5L719.5,111.5L724.5,111.5L727.5,109.5L743.5,109.5L744.5,110.5L750.5,110.5L756.5,106.5L764.5,106.5L769.5,104.5L773.5,101.5L779.5,100.5L785.5,97.5L795.5,97.5L796.5,98.5L800.5,98.5L802.5,96.5L805.5,96.5L808.5,98.5L815.5,105.5L817.5,110.5L821.5,112.5L822.5,111.5L824.5,111.5L833.5,101.5L835.5,94.5L832.5,90.5L830.5,89.5L825.5,89.5L824.5,90.5L822.5,90.5L818.5,87.5L813.5,86.5L812.5,85.5L809.5,85.5L808.5,86.5L788.5,86.5L787.5,85.5L784.5,85.5L783.5,84.5L780.5,84.5L775.5,82.5L764.5,81.5L763.5,80.5L759.5,80.5L758.5,79.5L744.5,79.5L743.5,78.5L735.5,77.5L734.5,76.5L726.5,75.5L725.5,74.5L717.5,73.5L716.5,72.5L702.5,71.5L701.5,70.5L698.5,70.5L687.5,66.5L669.5,64.5L666.5,61.5L666.5,55.5L668.5,50.5L670.5,48.5L670.5,46.5L671.5,45.5L671.5,40.5L656.5,40.5L656.5,50.5L654.5,52.5L648.5,52.5L645.5,50.5L640.5,50.5L637.5,52.5L631.5,53.5L630.5,52.5L627.5,52.5L624.5,50.5L618.5,50.5L613.5,52.5L609.5,55.5L605.5,55.5L599.5,50.5L593.5,50.5L590.5,52.5L585.5,53.5L583.5,55.5L584.5,66.5L581.5,68.5L578.5,68.5L576.5,70.5L576.5,78.5L575.5,80.5L571.5,83.5L571.5,90.5L572.5,91.5L571.5,94.5L570.5,95.5L568.5,95.5L561.5,87.5L559.5,87.5L558.5,86.5L550.5,86.5L549.5,87.5L547.5,87.5L529.5,103.5L528.5,105.5L527.5,114.5L523.5,118.5L521.5,118.5L518.5,120.5L514.5,131.5L511.5,129.5L501.5,129.5L495.5,122.5L489.5,121.5L488.5,120.5L482.5,120.5L481.5,119.5L481.5,115.5L482.5,114.5L483.5,107.5L489.5,97.5L489.5,94.5L493.5,85.5L494.5,84.5L501.5,84.5L503.5,83.5L506.5,79.5L506.5,74.5L504.5,72.5L499.5,70.5L494.5,65.5L491.5,65.5L484.5,69.5L482.5,69.5L479.5,65.5L479.5,61.5L472.5,53.5L472.5,49.5L474.5,45.5L474.5,40.5L434.5,40.5L434.5,43.5L438.5,49.5L441.5,56.5L451.5,58.5L452.5,59.5L459.5,59.5L462.5,61.5L462.5,64.5L457.5,68.5L447.5,69.5L440.5,63.5L438.5,59.5L436.5,59.5L431.5,61.5L426.5,65.5L426.5,75.5L423.5,78.5L413.5,79.5L412.5,80.5L402.5,80.5L401.5,81.5L390.5,82.5L386.5,80.5L383.5,76.5L379.5,74.5L376.5,74.5L375.5,73.5L372.5,73.5L371.5,72.5L366.5,71.5L356.5,66.5L351.5,61.5L350.5,58.5L348.5,56.5ZM505.5,157.5L506.5,158.5L506.5,162.5L503.5,165.5L500.5,164.5L499.5,163.5L499.5,160.5L502.5,157.5ZM483.5,144.5L486.5,142.5L488.5,142.5L490.5,143.5L492.5,146.5L490.5,148.5L487.5,149.5L483.5,147.5ZM480.5,127.5L482.5,127.5L484.5,129.5L484.5,134.5L481.5,137.5L480.5,137.5L477.5,133.5L478.5,129.5Z"/>
<path fill="#00a0ff" d="M516.5,348.5L513.5,348.5L510.5,350.5L506.5,351.5L505.5,353.5L505.5,364.5L518.5,364.5L518.5,352.5ZM532.5,301.5L530.5,304.5L530.5,310.5L533.5,312.5L535.5,311.5L535.5,305.5L534.5,304.5L534.5,302.5ZM556.5,303.5L555.5,305.5L555.5,312.5L556.5,314.5L558.5,315.5L562.5,315.5L566.5,318.5L565.5,327.5L569.5,337.5L585.5,355.5L589.5,357.5L591.5,357.5L592.5,356.5L597.5,356.5L600.5,359.5L601.5,364.5L633.5,364.5L633.5,360.5L631.5,357.5L631.5,355.5L629.5,351.5L622.5,345.5L620.5,341.5L615.5,336.5L614.5,336.5L602.5,325.5L602.5,322.5L600.5,318.5L594.5,311.5L580.5,311.5L576.5,307.5L576.5,300.5L573.5,298.5L564.5,298.5ZM751.5,295.5L752.5,297.5L756.5,299.5L760.5,299.5L754.5,294.5L752.5,294.5ZM593.5,294.5L592.5,295.5L592.5,301.5L594.5,304.5L597.5,305.5L599.5,303.5L599.5,297.5L597.5,294.5ZM658.5,267.5L656.5,268.5L655.5,270.5L655.5,276.5L657.5,279.5L659.5,280.5L663.5,280.5L666.5,278.5L666.5,272.5L663.5,267.5ZM706.5,209.5L705.5,212.5L708.5,217.5L713.5,218.5L716.5,215.5L716.5,212.5L714.5,209.5L712.5,208.5L708.5,208.5ZM809.5,88.5L808.5,89.5L809.5,94.5L813.5,98.5L816.5,98.5L818.5,96.5L818.5,91.5L814.5,88.5ZM506.5,138.5L506.5,141.5L505.5,142.5L505.5,149.5L509.5,155.5L509.5,162.5L508.5,163.5L508.5,166.5L512.5,167.5L518.5,175.5L520.5,175.5L525.5,170.5L529.5,170.5L535.5,174.5L547.5,175.5L553.5,182.5L553.5,189.5L555.5,193.5L563.5,197.5L568.5,197.5L572.5,195.5L579.5,189.5L582.5,189.5L584.5,191.5L584.5,200.5L587.5,202.5L589.5,202.5L593.5,200.5L596.5,200.5L597.5,201.5L597.5,205.5L592.5,212.5L595.5,214.5L600.5,215.5L603.5,218.5L605.5,224.5L613.5,231.5L617.5,239.5L620.5,242.5L622.5,243.5L628.5,243.5L629.5,242.5L645.5,241.5L658.5,236.5L659.5,237.5L661.5,237.5L665.5,242.5L664.5,246.5L660.5,251.5L661.5,256.5L665.5,260.5L669.5,262.5L673.5,262.5L674.5,263.5L683.5,263.5L684.5,264.5L687.5,264.5L690.5,266.5L692.5,269.5L696.5,271.5L700.5,275.5L702.5,279.5L705.5,281.5L707.5,281.5L708.5,282.5L717.5,282.5L722.5,279.5L726.5,279.5L733.5,286.5L735.5,286.5L742.5,277.5L745.5,277.5L749.5,279.5L751.5,279.5L752.5,278.5L752.5,273.5L746.5,267.5L737.5,251.5L729.5,243.5L729.5,241.5L726.5,234.5L722.5,230.5L720.5,226.5L716.5,226.5L715.5,225.5L712.5,225.5L707.5,223.5L693.5,224.5L688.5,222.5L683.5,218.5L681.5,213.5L680.5,207.5L676.5,199.5L674.5,197.5L671.5,196.5L664.5,187.5L662.5,187.5L661.5,186.5L650.5,186.5L647.5,182.5L647.5,175.5L649.5,173.5L654.5,174.5L655.5,175.5L659.5,175.5L660.5,176.5L674.5,176.5L673.5,156.5L671.5,152.5L667.5,150.5L665.5,150.5L661.5,147.5L656.5,138.5L653.5,135.5L650.5,135.5L646.5,138.5L642.5,138.5L635.5,135.5L631.5,130.5L629.5,120.5L626.5,116.5L616.5,113.5L608.5,108.5L605.5,108.5L604.5,107.5L602.5,108.5L597.5,108.5L596.5,107.5L594.5,107.5L591.5,105.5L582.5,95.5L580.5,94.5L576.5,95.5L571.5,101.5L568.5,102.5L566.5,100.5L565.5,95.5L561.5,89.5L556.5,87.5L552.5,87.5L547.5,89.5L540.5,96.5L540.5,97.5L531.5,105.5L529.5,115.5L520.5,123.5L520.5,132.5L521.5,133.5L521.5,137.5L518.5,140.5L514.5,140.5L509.5,137.5L507.5,137.5ZM614.5,188.5L616.5,191.5L616.5,193.5L612.5,198.5L608.5,193.5L610.5,189.5ZM650.5,154.5L652.5,157.5L649.5,160.5L647.5,160.5L646.5,159.5L646.5,157.5ZM606.5,131.5L608.5,130.5L610.5,133.5L609.5,134.5L607.5,134.5L606.5,133.5ZM564.5,128.5L565.5,127.5L568.5,131.5L566.5,132.5L564.5,130.5ZM585.5,71.5L581.5,70.5L578.5,72.5L578.5,82.5L579.5,83.5L586.5,81.5L587.5,79.5L587.5,73.5ZM585.5,58.5L585.5,61.5L587.5,66.5L593.5,73.5L597.5,74.5L603.5,78.5L608.5,79.5L609.5,80.5L614.5,80.5L615.5,81.5L625.5,81.5L626.5,80.5L630.5,80.5L631.5,81.5L633.5,81.5L639.5,86.5L644.5,94.5L650.5,97.5L652.5,99.5L653.5,102.5L655.5,104.5L657.5,104.5L658.5,105.5L659.5,104.5L664.5,103.5L667.5,101.5L676.5,100.5L681.5,102.5L684.5,106.5L686.5,106.5L687.5,107.5L689.5,106.5L693.5,106.5L699.5,109.5L703.5,109.5L704.5,110.5L717.5,110.5L722.5,108.5L724.5,106.5L748.5,107.5L756.5,103.5L762.5,103.5L771.5,99.5L779.5,98.5L780.5,97.5L782.5,97.5L786.5,95.5L789.5,95.5L790.5,94.5L793.5,94.5L794.5,93.5L794.5,90.5L793.5,89.5L787.5,88.5L786.5,87.5L784.5,87.5L780.5,85.5L777.5,85.5L776.5,84.5L773.5,84.5L772.5,83.5L767.5,83.5L766.5,82.5L762.5,82.5L761.5,81.5L748.5,81.5L747.5,80.5L743.5,80.5L742.5,79.5L737.5,79.5L736.5,78.5L727.5,77.5L726.5,76.5L723.5,76.5L718.5,74.5L706.5,74.5L705.5,73.5L698.5,72.5L691.5,69.5L687.5,69.5L682.5,67.5L664.5,66.5L662.5,64.5L662.5,60.5L663.5,59.5L664.5,52.5L668.5,45.5L668.5,40.5L659.5,40.5L659.5,50.5L658.5,52.5L653.5,55.5L650.5,55.5L646.5,57.5L643.5,57.5L639.5,55.5L627.5,54.5L623.5,52.5L618.5,52.5L613.5,54.5L611.5,56.5L605.5,57.5L599.5,52.5L594.5,52.5L587.5,55.5ZM345.5,62.5L345.5,84.5L352.5,85.5L359.5,92.5L360.5,95.5L364.5,98.5L379.5,100.5L380.5,99.5L385.5,99.5L393.5,96.5L396.5,96.5L397.5,95.5L400.5,95.5L401.5,94.5L404.5,94.5L409.5,92.5L418.5,91.5L419.5,90.5L426.5,90.5L430.5,92.5L447.5,91.5L450.5,93.5L452.5,93.5L456.5,95.5L460.5,99.5L461.5,102.5L467.5,107.5L467.5,110.5L464.5,115.5L464.5,127.5L463.5,128.5L463.5,133.5L462.5,135.5L463.5,136.5L464.5,141.5L471.5,148.5L471.5,154.5L470.5,156.5L473.5,163.5L474.5,169.5L476.5,173.5L485.5,185.5L487.5,189.5L488.5,197.5L490.5,200.5L495.5,203.5L501.5,209.5L503.5,209.5L509.5,212.5L529.5,231.5L535.5,234.5L537.5,236.5L539.5,240.5L539.5,242.5L542.5,246.5L542.5,248.5L543.5,249.5L543.5,258.5L544.5,259.5L544.5,262.5L545.5,263.5L547.5,271.5L543.5,281.5L538.5,285.5L536.5,292.5L537.5,294.5L541.5,294.5L543.5,293.5L545.5,289.5L545.5,287.5L549.5,283.5L552.5,282.5L555.5,279.5L557.5,274.5L557.5,270.5L562.5,265.5L565.5,264.5L568.5,260.5L567.5,247.5L566.5,246.5L566.5,242.5L565.5,240.5L558.5,237.5L550.5,230.5L550.5,228.5L555.5,225.5L564.5,224.5L568.5,222.5L568.5,217.5L564.5,215.5L550.5,215.5L548.5,213.5L548.5,210.5L553.5,205.5L553.5,202.5L551.5,200.5L546.5,200.5L542.5,204.5L535.5,207.5L532.5,207.5L530.5,205.5L531.5,195.5L529.5,192.5L527.5,191.5L522.5,191.5L521.5,192.5L519.5,192.5L515.5,188.5L514.5,185.5L509.5,183.5L506.5,183.5L505.5,184.5L504.5,183.5L502.5,183.5L501.5,182.5L501.5,180.5L505.5,175.5L506.5,168.5L505.5,167.5L500.5,166.5L497.5,163.5L496.5,161.5L497.5,160.5L497.5,154.5L493.5,151.5L488.5,151.5L487.5,150.5L482.5,150.5L479.5,148.5L479.5,141.5L476.5,136.5L476.5,129.5L478.5,125.5L477.5,118.5L481.5,112.5L483.5,104.5L487.5,99.5L492.5,83.5L494.5,81.5L496.5,81.5L497.5,82.5L503.5,82.5L505.5,79.5L505.5,74.5L502.5,72.5L498.5,71.5L494.5,67.5L490.5,67.5L485.5,71.5L480.5,71.5L477.5,67.5L477.5,63.5L476.5,61.5L472.5,57.5L470.5,53.5L471.5,40.5L437.5,40.5L437.5,45.5L441.5,53.5L444.5,56.5L450.5,57.5L451.5,58.5L462.5,58.5L464.5,60.5L464.5,64.5L459.5,70.5L457.5,71.5L451.5,71.5L450.5,72.5L448.5,72.5L444.5,70.5L437.5,62.5L434.5,62.5L432.5,63.5L428.5,68.5L428.5,77.5L426.5,79.5L422.5,79.5L421.5,80.5L407.5,81.5L406.5,82.5L402.5,82.5L397.5,84.5L388.5,84.5L384.5,82.5L381.5,78.5L377.5,76.5L374.5,76.5L371.5,74.5L369.5,74.5L364.5,71.5L362.5,71.5L356.5,68.5L350.5,63.5ZM534.5,221.5L535.5,220.5L537.5,220.5L538.5,222.5L537.5,223.5ZM451.5,80.5L452.5,81.5L452.5,83.5L451.5,84.5L449.5,82.5Z"/>
<path fill="#1e3cff" d="M515.5,351.5L511.5,351.5L507.5,353.5L507.5,355.5L506.5,356.5L506.5,364.5L516.5,364.5L516.5,362.5L517.5,361.5L517.5,356.5ZM533.5,305.5L532.5,306.5L532.5,308.5L533.5,309.5ZM557.5,305.5L557.5,307.5L556.5,308.5L557.5,311.5L559.5,313.5L566.5,314.5L569.5,317.5L567.5,327.5L568.5,328.5L568.5,331.5L570.5,336.5L577.5,342.5L578.5,345.5L586.5,354.5L588.5,355.5L599.5,355.5L602.5,358.5L603.5,364.5L631.5,364.5L631.5,362.5L629.5,360.5L626.5,353.5L621.5,347.5L619.5,343.5L611.5,335.5L605.5,331.5L602.5,331.5L599.5,328.5L598.5,321.5L595.5,315.5L591.5,312.5L584.5,312.5L583.5,313.5L577.5,312.5L574.5,308.5L572.5,301.5L570.5,300.5L563.5,300.5ZM543.5,285.5L539.5,287.5L538.5,289.5L538.5,291.5L539.5,292.5L542.5,292.5L543.5,290.5ZM659.5,270.5L657.5,273.5L657.5,275.5L659.5,278.5L663.5,278.5L665.5,275.5L664.5,274.5L664.5,272.5L662.5,270.5ZM707.5,211.5L707.5,213.5L711.5,216.5L713.5,215.5L714.5,213.5L712.5,210.5L708.5,210.5ZM474.5,154.5L473.5,155.5L473.5,163.5L474.5,164.5L475.5,170.5L482.5,178.5L485.5,184.5L488.5,188.5L489.5,197.5L491.5,200.5L497.5,203.5L502.5,208.5L508.5,210.5L514.5,216.5L518.5,218.5L531.5,231.5L536.5,233.5L539.5,236.5L539.5,238.5L541.5,242.5L545.5,246.5L544.5,258.5L545.5,259.5L546.5,265.5L548.5,267.5L548.5,269.5L549.5,270.5L546.5,278.5L546.5,281.5L550.5,281.5L554.5,276.5L554.5,271.5L555.5,269.5L559.5,265.5L564.5,263.5L567.5,259.5L565.5,245.5L561.5,240.5L560.5,240.5L551.5,232.5L544.5,229.5L538.5,225.5L534.5,224.5L531.5,221.5L531.5,218.5L532.5,217.5L536.5,217.5L540.5,219.5L542.5,221.5L544.5,226.5L546.5,226.5L547.5,227.5L548.5,226.5L551.5,226.5L552.5,225.5L555.5,225.5L560.5,223.5L564.5,223.5L567.5,221.5L567.5,219.5L563.5,216.5L550.5,216.5L547.5,214.5L546.5,211.5L551.5,205.5L551.5,202.5L546.5,202.5L542.5,206.5L540.5,206.5L533.5,209.5L529.5,209.5L528.5,208.5L528.5,204.5L530.5,200.5L530.5,195.5L527.5,192.5L517.5,193.5L515.5,191.5L514.5,187.5L512.5,185.5L501.5,185.5L500.5,184.5L499.5,181.5L504.5,174.5L504.5,169.5L499.5,167.5L495.5,163.5L494.5,155.5L490.5,152.5L479.5,152.5ZM533.5,106.5L530.5,117.5L522.5,124.5L523.5,139.5L518.5,143.5L510.5,143.5L508.5,145.5L508.5,149.5L511.5,154.5L511.5,162.5L513.5,164.5L516.5,165.5L518.5,167.5L518.5,169.5L519.5,170.5L524.5,168.5L530.5,168.5L534.5,171.5L539.5,173.5L549.5,173.5L555.5,180.5L555.5,182.5L554.5,183.5L554.5,189.5L555.5,191.5L561.5,195.5L568.5,195.5L573.5,192.5L578.5,187.5L583.5,185.5L587.5,188.5L587.5,198.5L589.5,199.5L592.5,198.5L597.5,192.5L599.5,192.5L602.5,195.5L602.5,197.5L599.5,204.5L599.5,209.5L606.5,214.5L607.5,218.5L609.5,220.5L613.5,221.5L616.5,224.5L616.5,230.5L618.5,235.5L621.5,239.5L625.5,240.5L626.5,239.5L630.5,239.5L631.5,238.5L643.5,238.5L644.5,237.5L650.5,236.5L658.5,232.5L662.5,233.5L666.5,236.5L668.5,241.5L668.5,245.5L664.5,253.5L669.5,258.5L674.5,261.5L679.5,261.5L680.5,262.5L691.5,262.5L694.5,266.5L700.5,271.5L703.5,276.5L708.5,279.5L715.5,280.5L721.5,277.5L727.5,277.5L732.5,283.5L735.5,283.5L741.5,274.5L743.5,274.5L744.5,273.5L745.5,274.5L748.5,274.5L745.5,271.5L736.5,253.5L733.5,250.5L730.5,249.5L726.5,245.5L726.5,242.5L724.5,238.5L718.5,236.5L716.5,234.5L715.5,230.5L712.5,227.5L705.5,224.5L697.5,224.5L696.5,225.5L692.5,225.5L684.5,222.5L681.5,219.5L680.5,212.5L677.5,206.5L673.5,202.5L673.5,201.5L667.5,198.5L661.5,191.5L657.5,191.5L652.5,193.5L646.5,193.5L642.5,196.5L639.5,196.5L638.5,195.5L638.5,193.5L637.5,192.5L638.5,187.5L643.5,180.5L643.5,172.5L641.5,167.5L641.5,160.5L645.5,152.5L647.5,150.5L650.5,150.5L651.5,151.5L653.5,151.5L656.5,155.5L656.5,159.5L650.5,164.5L650.5,168.5L653.5,170.5L655.5,170.5L656.5,169.5L657.5,163.5L658.5,162.5L662.5,162.5L666.5,165.5L667.5,169.5L669.5,170.5L671.5,168.5L671.5,157.5L668.5,153.5L660.5,150.5L656.5,146.5L656.5,145.5L653.5,143.5L651.5,143.5L650.5,144.5L645.5,144.5L641.5,141.5L636.5,139.5L630.5,133.5L628.5,124.5L624.5,119.5L618.5,118.5L606.5,110.5L600.5,110.5L599.5,111.5L592.5,109.5L588.5,105.5L588.5,104.5L581.5,98.5L579.5,98.5L575.5,102.5L569.5,113.5L569.5,116.5L568.5,117.5L568.5,126.5L573.5,132.5L573.5,137.5L572.5,138.5L567.5,137.5L561.5,132.5L559.5,128.5L559.5,124.5L557.5,121.5L552.5,118.5L552.5,116.5L563.5,103.5L563.5,94.5L559.5,89.5L550.5,89.5L546.5,92.5L540.5,101.5ZM611.5,186.5L614.5,186.5L617.5,188.5L617.5,194.5L616.5,195.5L616.5,197.5L613.5,200.5L611.5,200.5L606.5,195.5L606.5,191.5L607.5,189.5ZM602.5,177.5L605.5,180.5L605.5,182.5L603.5,184.5L601.5,184.5L599.5,182.5L599.5,180.5ZM623.5,170.5L625.5,170.5L629.5,173.5L629.5,175.5L624.5,180.5L622.5,180.5L621.5,179.5L621.5,174.5ZM554.5,158.5L558.5,161.5L558.5,164.5L556.5,167.5L554.5,167.5L552.5,165.5L552.5,160.5ZM568.5,146.5L571.5,142.5L575.5,145.5L575.5,147.5L572.5,149.5ZM604.5,126.5L609.5,126.5L613.5,130.5L613.5,134.5L610.5,137.5L605.5,138.5L602.5,134.5L602.5,129.5ZM581.5,73.5L579.5,77.5L581.5,80.5L583.5,80.5L585.5,78.5L585.5,75.5L583.5,73.5ZM434.5,65.5L432.5,66.5L430.5,70.5L431.5,75.5L433.5,78.5L437.5,80.5L440.5,80.5L442.5,78.5L442.5,71.5L437.5,65.5ZM345.5,65.5L345.5,83.5L351.5,83.5L355.5,85.5L358.5,88.5L361.5,94.5L364.5,97.5L366.5,97.5L367.5,98.5L384.5,98.5L391.5,95.5L398.5,94.5L406.5,91.5L412.5,91.5L413.5,90.5L427.5,88.5L427.5,83.5L425.5,81.5L415.5,81.5L414.5,82.5L409.5,82.5L408.5,83.5L402.5,84.5L399.5,86.5L387.5,86.5L375.5,81.5L369.5,75.5L365.5,73.5L363.5,73.5L350.5,66.5ZM587.5,58.5L587.5,62.5L592.5,70.5L596.5,73.5L600.5,74.5L605.5,77.5L612.5,78.5L617.5,80.5L631.5,79.5L637.5,82.5L640.5,85.5L643.5,91.5L645.5,93.5L651.5,95.5L657.5,102.5L661.5,102.5L668.5,99.5L681.5,99.5L689.5,103.5L696.5,104.5L701.5,107.5L707.5,107.5L708.5,106.5L717.5,107.5L724.5,103.5L745.5,104.5L751.5,101.5L761.5,101.5L768.5,97.5L776.5,97.5L788.5,92.5L787.5,90.5L783.5,88.5L781.5,88.5L777.5,86.5L773.5,86.5L772.5,85.5L765.5,84.5L764.5,83.5L760.5,83.5L759.5,82.5L746.5,82.5L745.5,81.5L741.5,81.5L740.5,80.5L729.5,79.5L728.5,78.5L725.5,78.5L720.5,76.5L706.5,76.5L695.5,72.5L692.5,72.5L691.5,71.5L688.5,71.5L687.5,70.5L684.5,70.5L679.5,68.5L664.5,68.5L663.5,69.5L661.5,69.5L657.5,67.5L660.5,60.5L660.5,57.5L659.5,56.5L654.5,56.5L649.5,58.5L647.5,60.5L641.5,60.5L635.5,56.5L630.5,56.5L629.5,55.5L625.5,55.5L624.5,54.5L618.5,54.5L610.5,58.5L606.5,59.5L602.5,57.5L599.5,54.5L593.5,54.5ZM438.5,40.5L439.5,46.5L443.5,54.5L450.5,57.5L459.5,57.5L460.5,56.5L466.5,56.5L467.5,57.5L467.5,61.5L464.5,68.5L457.5,76.5L455.5,91.5L460.5,93.5L462.5,96.5L463.5,100.5L469.5,105.5L469.5,110.5L465.5,116.5L464.5,138.5L469.5,144.5L474.5,145.5L476.5,143.5L476.5,140.5L475.5,139.5L476.5,116.5L479.5,113.5L481.5,109.5L482.5,104.5L488.5,94.5L488.5,91.5L490.5,87.5L490.5,77.5L489.5,75.5L491.5,72.5L493.5,72.5L495.5,74.5L495.5,76.5L498.5,81.5L502.5,81.5L504.5,79.5L504.5,75.5L502.5,73.5L496.5,72.5L494.5,70.5L491.5,70.5L488.5,73.5L479.5,74.5L476.5,71.5L475.5,63.5L473.5,60.5L472.5,60.5L468.5,56.5L467.5,40.5Z"/>
<path fill="#8200dc" d="M511.5,353.5L508.5,355.5L508.5,364.5L515.5,364.5L515.5,356.5L514.5,354.5ZM560.5,304.5L558.5,309.5L561.5,312.5L570.5,313.5L572.5,315.5L572.5,318.5L569.5,326.5L570.5,333.5L572.5,336.5L577.5,339.5L582.5,348.5L587.5,353.5L589.5,354.5L595.5,354.5L596.5,353.5L600.5,354.5L606.5,362.5L610.5,362.5L614.5,360.5L624.5,360.5L624.5,356.5L618.5,344.5L613.5,339.5L606.5,334.5L603.5,334.5L599.5,337.5L596.5,337.5L593.5,335.5L592.5,331.5L595.5,327.5L595.5,319.5L591.5,314.5L575.5,314.5L572.5,311.5L571.5,304.5L567.5,301.5L565.5,301.5ZM660.5,273.5L660.5,276.5L662.5,276.5L662.5,274.5ZM682.5,225.5L681.5,227.5L681.5,237.5L684.5,242.5L684.5,247.5L681.5,249.5L675.5,249.5L673.5,250.5L673.5,256.5L674.5,258.5L679.5,260.5L682.5,260.5L687.5,258.5L691.5,254.5L694.5,254.5L697.5,258.5L697.5,263.5L702.5,270.5L703.5,273.5L706.5,276.5L714.5,278.5L722.5,275.5L727.5,275.5L729.5,276.5L732.5,280.5L734.5,280.5L736.5,278.5L737.5,271.5L738.5,270.5L738.5,263.5L736.5,260.5L736.5,258.5L733.5,254.5L728.5,253.5L725.5,250.5L723.5,242.5L721.5,240.5L717.5,239.5L713.5,235.5L711.5,229.5L705.5,225.5L696.5,225.5L695.5,226.5L691.5,226.5L690.5,225.5L686.5,225.5L685.5,224.5ZM532.5,212.5L532.5,214.5L541.5,218.5L547.5,225.5L552.5,225.5L556.5,223.5L559.5,223.5L560.5,222.5L565.5,221.5L565.5,219.5L562.5,217.5L550.5,217.5L548.5,216.5L545.5,212.5L545.5,208.5L547.5,205.5L544.5,207.5L537.5,208.5ZM660.5,153.5L659.5,154.5L659.5,158.5L668.5,163.5L669.5,162.5L669.5,157.5L666.5,154.5ZM475.5,157.5L474.5,159.5L474.5,165.5L475.5,166.5L475.5,168.5L484.5,178.5L486.5,183.5L489.5,187.5L489.5,194.5L491.5,199.5L494.5,201.5L498.5,202.5L500.5,205.5L504.5,208.5L506.5,208.5L510.5,210.5L516.5,216.5L519.5,217.5L525.5,223.5L526.5,223.5L532.5,230.5L536.5,232.5L538.5,232.5L540.5,234.5L540.5,236.5L542.5,240.5L549.5,246.5L546.5,252.5L546.5,262.5L549.5,267.5L552.5,268.5L559.5,263.5L563.5,262.5L566.5,259.5L566.5,256.5L565.5,255.5L565.5,252.5L564.5,251.5L563.5,246.5L551.5,233.5L541.5,231.5L537.5,227.5L533.5,225.5L531.5,225.5L529.5,223.5L529.5,221.5L528.5,220.5L529.5,215.5L525.5,210.5L525.5,206.5L529.5,200.5L529.5,195.5L527.5,193.5L522.5,193.5L517.5,196.5L515.5,196.5L513.5,194.5L513.5,188.5L511.5,186.5L504.5,186.5L503.5,187.5L500.5,187.5L498.5,185.5L498.5,180.5L502.5,176.5L503.5,174.5L503.5,170.5L497.5,167.5L493.5,163.5L493.5,158.5L490.5,154.5L488.5,153.5L482.5,153.5ZM500.5,194.5L502.5,192.5L504.5,192.5L508.5,196.5L508.5,197.5L504.5,200.5L501.5,200.5L500.5,199.5ZM551.5,90.5L547.5,94.5L543.5,102.5L535.5,109.5L532.5,117.5L525.5,123.5L524.5,125.5L524.5,130.5L525.5,131.5L525.5,141.5L523.5,143.5L519.5,145.5L513.5,146.5L511.5,148.5L513.5,160.5L515.5,162.5L519.5,163.5L523.5,166.5L529.5,166.5L530.5,165.5L537.5,171.5L547.5,171.5L550.5,169.5L549.5,158.5L551.5,156.5L557.5,156.5L559.5,158.5L559.5,168.5L553.5,172.5L557.5,178.5L555.5,188.5L559.5,193.5L561.5,193.5L562.5,194.5L569.5,193.5L579.5,184.5L584.5,181.5L590.5,184.5L593.5,183.5L596.5,177.5L601.5,172.5L603.5,172.5L605.5,174.5L607.5,178.5L607.5,181.5L609.5,184.5L611.5,185.5L616.5,185.5L619.5,183.5L619.5,169.5L618.5,168.5L618.5,166.5L619.5,165.5L622.5,165.5L625.5,168.5L630.5,170.5L633.5,174.5L620.5,186.5L617.5,198.5L613.5,202.5L611.5,202.5L607.5,199.5L604.5,199.5L602.5,201.5L602.5,203.5L601.5,204.5L602.5,208.5L608.5,213.5L610.5,217.5L614.5,219.5L616.5,219.5L620.5,222.5L619.5,230.5L622.5,235.5L627.5,235.5L629.5,234.5L632.5,231.5L634.5,227.5L636.5,228.5L636.5,230.5L638.5,234.5L640.5,235.5L647.5,235.5L658.5,229.5L669.5,230.5L675.5,226.5L679.5,220.5L679.5,214.5L676.5,208.5L672.5,204.5L667.5,202.5L665.5,202.5L664.5,203.5L655.5,203.5L654.5,202.5L650.5,202.5L645.5,204.5L636.5,204.5L634.5,202.5L634.5,197.5L635.5,196.5L636.5,186.5L640.5,179.5L640.5,172.5L639.5,171.5L639.5,167.5L638.5,166.5L638.5,160.5L643.5,151.5L643.5,147.5L641.5,144.5L634.5,141.5L629.5,136.5L626.5,124.5L622.5,121.5L616.5,120.5L612.5,118.5L611.5,116.5L607.5,113.5L603.5,113.5L602.5,114.5L602.5,119.5L605.5,122.5L607.5,122.5L611.5,124.5L614.5,127.5L615.5,129.5L615.5,136.5L613.5,138.5L608.5,140.5L601.5,140.5L600.5,139.5L600.5,133.5L598.5,129.5L595.5,129.5L592.5,131.5L589.5,131.5L586.5,129.5L583.5,125.5L583.5,122.5L585.5,120.5L590.5,120.5L593.5,117.5L593.5,115.5L592.5,113.5L587.5,109.5L585.5,105.5L581.5,102.5L579.5,103.5L577.5,106.5L577.5,108.5L575.5,112.5L572.5,115.5L570.5,119.5L570.5,126.5L576.5,133.5L576.5,139.5L579.5,146.5L579.5,149.5L577.5,151.5L570.5,151.5L569.5,150.5L567.5,150.5L565.5,147.5L565.5,145.5L566.5,144.5L566.5,139.5L558.5,132.5L556.5,129.5L555.5,124.5L552.5,122.5L546.5,121.5L544.5,119.5L544.5,117.5L547.5,114.5L552.5,112.5L557.5,107.5L557.5,106.5L561.5,102.5L561.5,100.5L562.5,99.5L561.5,93.5L558.5,90.5ZM613.5,156.5L615.5,159.5L615.5,162.5L602.5,171.5L599.5,167.5L599.5,161.5L604.5,157.5L606.5,157.5L607.5,156.5ZM629.5,152.5L631.5,151.5L634.5,155.5L631.5,157.5L629.5,155.5ZM581.5,154.5L581.5,152.5L582.5,151.5L586.5,151.5L590.5,153.5L587.5,156.5L583.5,156.5ZM534.5,149.5L540.5,155.5L540.5,156.5L534.5,161.5L531.5,162.5L527.5,159.5L526.5,156.5L530.5,150.5ZM595.5,148.5L596.5,149.5L595.5,152.5L594.5,153.5L592.5,153.5L591.5,151.5ZM542.5,131.5L544.5,128.5L548.5,130.5L546.5,133.5L544.5,133.5ZM498.5,74.5L497.5,76.5L498.5,77.5L498.5,79.5L502.5,80.5L503.5,79.5L503.5,75.5ZM435.5,69.5L434.5,70.5L434.5,72.5L437.5,74.5L438.5,72.5L437.5,70.5ZM345.5,68.5L345.5,82.5L352.5,82.5L356.5,84.5L360.5,88.5L362.5,94.5L367.5,97.5L374.5,97.5L375.5,98.5L376.5,97.5L383.5,97.5L403.5,89.5L415.5,89.5L416.5,88.5L421.5,88.5L424.5,86.5L424.5,83.5L422.5,82.5L416.5,82.5L415.5,83.5L408.5,84.5L400.5,89.5L391.5,89.5L387.5,87.5L384.5,87.5L383.5,86.5L373.5,84.5L369.5,80.5L367.5,76.5L351.5,68.5ZM469.5,62.5L466.5,66.5L462.5,75.5L459.5,78.5L459.5,80.5L458.5,81.5L458.5,87.5L466.5,94.5L466.5,97.5L471.5,105.5L471.5,109.5L466.5,117.5L465.5,138.5L469.5,142.5L472.5,142.5L474.5,140.5L474.5,128.5L475.5,127.5L474.5,117.5L480.5,109.5L481.5,104.5L487.5,94.5L487.5,91.5L489.5,87.5L489.5,80.5L487.5,76.5L485.5,75.5L483.5,76.5L477.5,76.5L475.5,73.5L473.5,64.5L471.5,62.5ZM589.5,58.5L589.5,63.5L595.5,71.5L599.5,73.5L601.5,73.5L604.5,75.5L614.5,77.5L615.5,78.5L618.5,78.5L619.5,79.5L625.5,79.5L626.5,78.5L631.5,78.5L632.5,79.5L634.5,79.5L642.5,86.5L646.5,92.5L654.5,93.5L656.5,95.5L657.5,98.5L659.5,99.5L664.5,99.5L668.5,97.5L678.5,97.5L679.5,98.5L685.5,98.5L691.5,101.5L715.5,101.5L716.5,102.5L718.5,102.5L719.5,101.5L736.5,101.5L737.5,102.5L741.5,102.5L749.5,98.5L752.5,98.5L753.5,99.5L760.5,99.5L767.5,94.5L776.5,95.5L780.5,93.5L780.5,90.5L776.5,88.5L768.5,87.5L762.5,84.5L748.5,84.5L743.5,82.5L726.5,80.5L721.5,78.5L707.5,78.5L699.5,75.5L688.5,73.5L681.5,70.5L655.5,70.5L653.5,68.5L653.5,66.5L657.5,61.5L655.5,58.5L651.5,59.5L647.5,62.5L640.5,62.5L637.5,59.5L633.5,57.5L628.5,57.5L627.5,56.5L617.5,56.5L609.5,60.5L604.5,60.5L601.5,57.5L597.5,55.5L594.5,55.5ZM440.5,40.5L440.5,45.5L441.5,46.5L441.5,48.5L445.5,54.5L449.5,56.5L458.5,56.5L463.5,53.5L464.5,50.5L461.5,47.5L455.5,45.5L452.5,42.5L452.5,40.5Z"/>
<path fill="#a000c8" d="M512.5,356.5L509.5,358.5L510.5,364.5L512.5,364.5L512.5,362.5L513.5,361.5ZM580.5,338.5L581.5,344.5L585.5,350.5L590.5,353.5L594.5,353.5L595.5,352.5L601.5,353.5L607.5,359.5L610.5,359.5L614.5,357.5L618.5,357.5L620.5,355.5L619.5,353.5L619.5,349.5L617.5,345.5L608.5,337.5L606.5,337.5L605.5,336.5L599.5,340.5L595.5,340.5L589.5,336.5L581.5,337.5ZM590.5,315.5L577.5,316.5L574.5,319.5L573.5,323.5L571.5,326.5L571.5,331.5L574.5,335.5L578.5,335.5L578.5,333.5L581.5,329.5L583.5,328.5L587.5,328.5L591.5,326.5L593.5,322.5L593.5,320.5L592.5,319.5L592.5,317.5ZM567.5,303.5L565.5,303.5L561.5,306.5L561.5,309.5L562.5,310.5L564.5,310.5L565.5,311.5L569.5,310.5L569.5,305.5ZM559.5,248.5L554.5,248.5L548.5,252.5L547.5,254.5L547.5,262.5L550.5,265.5L554.5,265.5L559.5,261.5L561.5,261.5L564.5,259.5L564.5,255.5ZM542.5,235.5L543.5,239.5L546.5,242.5L548.5,242.5L549.5,243.5L553.5,243.5L554.5,242.5L554.5,238.5L552.5,235.5L548.5,233.5L544.5,233.5ZM685.5,227.5L683.5,230.5L683.5,233.5L687.5,241.5L687.5,243.5L691.5,249.5L693.5,250.5L697.5,250.5L700.5,252.5L701.5,254.5L700.5,261.5L705.5,273.5L711.5,276.5L716.5,276.5L723.5,273.5L730.5,273.5L731.5,272.5L731.5,266.5L729.5,262.5L726.5,260.5L724.5,256.5L722.5,245.5L720.5,242.5L716.5,240.5L714.5,240.5L711.5,238.5L709.5,229.5L705.5,226.5ZM535.5,211.5L535.5,213.5L538.5,216.5L542.5,217.5L548.5,224.5L556.5,223.5L563.5,220.5L560.5,218.5L549.5,218.5L545.5,215.5L544.5,210.5L542.5,208.5L538.5,209.5ZM632.5,211.5L633.5,217.5L634.5,219.5L639.5,223.5L639.5,228.5L640.5,229.5L640.5,231.5L642.5,233.5L648.5,233.5L655.5,228.5L660.5,226.5L662.5,227.5L670.5,227.5L674.5,224.5L677.5,218.5L677.5,214.5L676.5,212.5L669.5,206.5L655.5,207.5L654.5,208.5L652.5,208.5L651.5,207.5L645.5,207.5L644.5,206.5L637.5,206.5L636.5,207.5L634.5,207.5ZM502.5,203.5L505.5,207.5L509.5,208.5L516.5,215.5L520.5,216.5L525.5,219.5L525.5,215.5L523.5,211.5L523.5,205.5L528.5,200.5L528.5,196.5L526.5,194.5L522.5,194.5L517.5,199.5L510.5,199.5ZM504.5,189.5L505.5,191.5L508.5,193.5L511.5,193.5L512.5,191.5L512.5,189.5L510.5,187.5L506.5,187.5ZM635.5,178.5L630.5,179.5L621.5,188.5L617.5,201.5L614.5,204.5L611.5,204.5L606.5,201.5L604.5,202.5L603.5,204.5L604.5,207.5L609.5,211.5L612.5,216.5L617.5,217.5L618.5,218.5L623.5,217.5L626.5,210.5L630.5,206.5L632.5,196.5L634.5,192.5L635.5,183.5L636.5,182.5L636.5,179.5ZM612.5,167.5L608.5,170.5L607.5,174.5L608.5,175.5L609.5,181.5L611.5,183.5L616.5,183.5L618.5,179.5L618.5,173.5L617.5,172.5L617.5,170.5L614.5,167.5ZM535.5,163.5L536.5,168.5L539.5,170.5L545.5,170.5L547.5,169.5L548.5,167.5L548.5,162.5L546.5,159.5L540.5,159.5ZM483.5,154.5L475.5,160.5L475.5,166.5L478.5,171.5L483.5,173.5L485.5,175.5L485.5,178.5L491.5,187.5L490.5,195.5L494.5,200.5L497.5,200.5L498.5,199.5L498.5,193.5L499.5,191.5L496.5,187.5L496.5,181.5L502.5,174.5L502.5,171.5L500.5,169.5L498.5,169.5L494.5,167.5L491.5,164.5L491.5,158.5L489.5,155.5L487.5,154.5ZM635.5,144.5L633.5,145.5L633.5,148.5L636.5,153.5L638.5,154.5L640.5,152.5L641.5,149.5L638.5,145.5L636.5,145.5ZM601.5,144.5L600.5,146.5L600.5,153.5L602.5,155.5L613.5,154.5L616.5,157.5L618.5,161.5L623.5,163.5L628.5,168.5L630.5,168.5L631.5,169.5L635.5,169.5L636.5,168.5L636.5,162.5L634.5,160.5L630.5,159.5L627.5,156.5L627.5,153.5L626.5,152.5L625.5,147.5L621.5,145.5L617.5,141.5L617.5,140.5L611.5,140.5ZM616.5,123.5L616.5,129.5L617.5,130.5L617.5,134.5L619.5,137.5L625.5,137.5L626.5,136.5L626.5,128.5L625.5,126.5L622.5,123.5ZM574.5,118.5L572.5,120.5L572.5,126.5L578.5,131.5L579.5,133.5L579.5,140.5L581.5,144.5L583.5,146.5L586.5,147.5L592.5,143.5L594.5,139.5L594.5,136.5L591.5,136.5L587.5,134.5L580.5,127.5L578.5,119.5L577.5,118.5ZM526.5,125.5L526.5,130.5L527.5,131.5L527.5,136.5L528.5,137.5L527.5,142.5L524.5,145.5L520.5,147.5L517.5,147.5L514.5,149.5L513.5,151.5L514.5,158.5L518.5,161.5L522.5,161.5L523.5,162.5L524.5,161.5L524.5,154.5L527.5,149.5L531.5,146.5L536.5,147.5L539.5,151.5L545.5,154.5L558.5,154.5L560.5,156.5L561.5,167.5L563.5,169.5L566.5,169.5L568.5,171.5L568.5,174.5L566.5,176.5L562.5,177.5L559.5,180.5L557.5,184.5L557.5,190.5L558.5,191.5L564.5,193.5L565.5,192.5L568.5,192.5L571.5,190.5L579.5,182.5L579.5,174.5L578.5,173.5L578.5,171.5L579.5,170.5L584.5,170.5L590.5,177.5L594.5,174.5L596.5,169.5L595.5,167.5L595.5,162.5L592.5,159.5L580.5,159.5L576.5,153.5L574.5,153.5L573.5,152.5L567.5,152.5L563.5,149.5L564.5,140.5L559.5,135.5L557.5,134.5L551.5,134.5L545.5,138.5L541.5,139.5L539.5,137.5L539.5,120.5L537.5,117.5L535.5,117.5ZM574.5,161.5L577.5,161.5L578.5,162.5L578.5,168.5L577.5,169.5L572.5,169.5L571.5,168.5L571.5,164.5ZM559.5,92.5L557.5,91.5L553.5,91.5L549.5,94.5L548.5,99.5L544.5,106.5L544.5,109.5L546.5,111.5L551.5,110.5L559.5,101.5L560.5,99.5L560.5,94.5ZM412.5,86.5L413.5,87.5L417.5,87.5L418.5,86.5L420.5,86.5L421.5,84.5L415.5,84.5ZM499.5,77.5L500.5,78.5L502.5,78.5L502.5,76.5L500.5,76.5ZM345.5,69.5L345.5,81.5L353.5,81.5L358.5,83.5L361.5,86.5L362.5,91.5L365.5,95.5L367.5,96.5L376.5,97.5L377.5,96.5L382.5,96.5L383.5,95.5L385.5,95.5L389.5,92.5L388.5,90.5L384.5,88.5L377.5,87.5L376.5,86.5L373.5,86.5L368.5,84.5L366.5,81.5L365.5,77.5L359.5,73.5L352.5,70.5ZM469.5,66.5L467.5,68.5L463.5,77.5L460.5,81.5L460.5,85.5L461.5,87.5L464.5,88.5L469.5,93.5L469.5,95.5L472.5,102.5L473.5,110.5L467.5,118.5L467.5,125.5L466.5,126.5L466.5,137.5L469.5,140.5L471.5,140.5L472.5,139.5L473.5,127.5L474.5,126.5L474.5,123.5L473.5,122.5L473.5,114.5L478.5,110.5L480.5,106.5L481.5,101.5L485.5,96.5L485.5,94.5L488.5,87.5L488.5,82.5L486.5,78.5L484.5,77.5L483.5,78.5L476.5,78.5L473.5,74.5L472.5,67.5L471.5,66.5ZM590.5,60.5L591.5,64.5L597.5,71.5L599.5,71.5L606.5,74.5L609.5,74.5L610.5,75.5L614.5,75.5L617.5,77.5L621.5,77.5L622.5,78.5L623.5,77.5L632.5,77.5L633.5,78.5L635.5,78.5L641.5,82.5L646.5,90.5L648.5,90.5L649.5,91.5L655.5,91.5L659.5,95.5L659.5,96.5L661.5,97.5L664.5,97.5L668.5,95.5L672.5,95.5L673.5,96.5L683.5,96.5L691.5,99.5L742.5,99.5L747.5,95.5L751.5,95.5L754.5,97.5L760.5,97.5L764.5,92.5L764.5,88.5L762.5,86.5L759.5,86.5L758.5,85.5L748.5,86.5L747.5,85.5L745.5,85.5L741.5,83.5L737.5,83.5L736.5,82.5L727.5,82.5L726.5,81.5L721.5,81.5L720.5,80.5L708.5,80.5L707.5,79.5L704.5,79.5L700.5,77.5L689.5,75.5L678.5,71.5L673.5,71.5L672.5,72.5L655.5,72.5L652.5,70.5L651.5,65.5L650.5,64.5L640.5,64.5L632.5,58.5L620.5,58.5L619.5,59.5L614.5,59.5L608.5,62.5L605.5,62.5L598.5,57.5L593.5,57.5ZM441.5,40.5L443.5,50.5L446.5,54.5L454.5,56.5L455.5,55.5L458.5,55.5L461.5,52.5L459.5,48.5L455.5,47.5L451.5,44.5L450.5,40.5Z"/>
<path fill="#f00082" d="M583.5,340.5L583.5,344.5L585.5,348.5L590.5,352.5L600.5,351.5L607.5,356.5L612.5,356.5L613.5,355.5L615.5,355.5L617.5,353.5L617.5,348.5L616.5,346.5L612.5,342.5L607.5,339.5L604.5,339.5L600.5,342.5L595.5,342.5L590.5,339.5L584.5,339.5ZM590.5,318.5L589.5,317.5L582.5,317.5L581.5,318.5L579.5,318.5L576.5,321.5L576.5,323.5L573.5,328.5L574.5,332.5L575.5,332.5L580.5,327.5L587.5,325.5L590.5,322.5ZM566.5,306.5L565.5,306.5L564.5,308.5L566.5,308.5ZM557.5,254.5L553.5,252.5L552.5,253.5L550.5,253.5L548.5,256.5L548.5,261.5L550.5,263.5L554.5,263.5L559.5,257.5ZM544.5,236.5L546.5,240.5L548.5,241.5L551.5,241.5L552.5,240.5L552.5,237.5L550.5,235.5L545.5,235.5ZM686.5,230.5L686.5,234.5L691.5,245.5L694.5,247.5L701.5,247.5L704.5,250.5L704.5,268.5L705.5,270.5L709.5,274.5L717.5,274.5L727.5,270.5L727.5,266.5L722.5,258.5L720.5,245.5L718.5,243.5L716.5,243.5L715.5,242.5L709.5,242.5L707.5,240.5L707.5,237.5L708.5,236.5L708.5,231.5L707.5,229.5L704.5,227.5L696.5,227.5L695.5,228.5L689.5,228.5ZM547.5,219.5L547.5,221.5L549.5,223.5L552.5,223.5L558.5,220.5L557.5,219.5ZM537.5,211.5L537.5,213.5L539.5,215.5L543.5,215.5L543.5,211.5L542.5,210.5ZM634.5,212.5L635.5,216.5L641.5,222.5L641.5,229.5L642.5,231.5L644.5,232.5L649.5,231.5L654.5,226.5L658.5,224.5L669.5,225.5L674.5,221.5L674.5,219.5L675.5,218.5L674.5,213.5L667.5,209.5L659.5,209.5L655.5,211.5L651.5,211.5L648.5,209.5L645.5,209.5L644.5,208.5L637.5,208.5ZM527.5,196.5L526.5,195.5L521.5,196.5L518.5,202.5L513.5,202.5L512.5,201.5L510.5,201.5L509.5,202.5L507.5,202.5L505.5,204.5L507.5,206.5L510.5,207.5L517.5,214.5L521.5,214.5L522.5,213.5L522.5,211.5L521.5,210.5L521.5,204.5L526.5,201.5ZM493.5,190.5L491.5,193.5L491.5,195.5L492.5,197.5L495.5,199.5L497.5,197.5L497.5,192.5L495.5,190.5ZM632.5,181.5L629.5,182.5L622.5,189.5L619.5,196.5L618.5,202.5L614.5,206.5L610.5,207.5L610.5,209.5L614.5,215.5L616.5,215.5L617.5,216.5L621.5,215.5L629.5,202.5L630.5,196.5L633.5,190.5L633.5,182.5ZM575.5,172.5L571.5,172.5L566.5,178.5L563.5,179.5L559.5,183.5L558.5,185.5L558.5,189.5L560.5,191.5L567.5,191.5L576.5,183.5L577.5,181.5L577.5,174.5ZM612.5,170.5L610.5,172.5L609.5,176.5L610.5,177.5L610.5,180.5L612.5,182.5L614.5,182.5L616.5,180.5L616.5,172.5L614.5,170.5ZM499.5,170.5L492.5,168.5L488.5,171.5L487.5,178.5L490.5,183.5L493.5,183.5L501.5,174.5L501.5,172.5ZM580.5,163.5L581.5,167.5L588.5,170.5L591.5,170.5L592.5,169.5L592.5,164.5L588.5,161.5L582.5,161.5ZM543.5,160.5L539.5,161.5L537.5,163.5L537.5,166.5L538.5,168.5L540.5,169.5L545.5,168.5L547.5,165.5L546.5,162.5ZM486.5,155.5L480.5,157.5L476.5,161.5L476.5,167.5L481.5,171.5L485.5,169.5L489.5,161.5L489.5,157.5ZM523.5,149.5L518.5,149.5L516.5,150.5L515.5,152.5L515.5,156.5L516.5,158.5L520.5,159.5L522.5,157.5ZM602.5,146.5L602.5,151.5L604.5,153.5L613.5,152.5L616.5,154.5L620.5,160.5L623.5,161.5L628.5,166.5L632.5,167.5L634.5,165.5L631.5,161.5L629.5,161.5L626.5,158.5L624.5,150.5L615.5,142.5L609.5,142.5L604.5,144.5ZM583.5,136.5L583.5,139.5L585.5,141.5L586.5,139.5ZM619.5,125.5L618.5,126.5L618.5,131.5L621.5,135.5L623.5,135.5L625.5,132.5L623.5,126.5ZM530.5,123.5L528.5,126.5L528.5,129.5L530.5,134.5L530.5,142.5L531.5,143.5L537.5,143.5L539.5,145.5L540.5,149.5L543.5,151.5L546.5,151.5L547.5,152.5L561.5,152.5L562.5,153.5L562.5,165.5L563.5,167.5L568.5,167.5L570.5,163.5L575.5,158.5L575.5,156.5L573.5,154.5L570.5,154.5L569.5,153.5L562.5,153.5L561.5,152.5L561.5,148.5L562.5,147.5L562.5,141.5L561.5,139.5L557.5,136.5L552.5,136.5L551.5,137.5L549.5,137.5L545.5,141.5L539.5,144.5L537.5,142.5L537.5,137.5L536.5,136.5L536.5,123.5L534.5,121.5ZM471.5,117.5L469.5,117.5L468.5,119.5L468.5,126.5L467.5,127.5L467.5,135.5L468.5,137.5L470.5,137.5L471.5,136.5L471.5,133.5L472.5,132.5L472.5,119.5ZM558.5,93.5L554.5,92.5L551.5,95.5L551.5,101.5L552.5,102.5L549.5,106.5L550.5,106.5L552.5,102.5L554.5,102.5L558.5,99.5L559.5,97.5ZM751.5,90.5L751.5,91.5L755.5,95.5L759.5,95.5L761.5,93.5L761.5,89.5L758.5,87.5L755.5,87.5ZM363.5,89.5L365.5,94.5L367.5,95.5L371.5,95.5L372.5,96.5L374.5,96.5L375.5,95.5L381.5,95.5L385.5,92.5L385.5,91.5L382.5,89.5L374.5,88.5L369.5,86.5L365.5,86.5ZM345.5,71.5L345.5,80.5L355.5,80.5L356.5,81.5L361.5,81.5L362.5,80.5L362.5,78.5L359.5,75.5L351.5,71.5ZM469.5,70.5L467.5,72.5L467.5,74.5L463.5,81.5L463.5,85.5L467.5,86.5L470.5,89.5L474.5,100.5L474.5,107.5L475.5,109.5L476.5,109.5L479.5,105.5L480.5,100.5L485.5,93.5L486.5,86.5L487.5,85.5L485.5,80.5L475.5,80.5L472.5,77.5L471.5,71.5ZM592.5,60.5L593.5,65.5L595.5,68.5L598.5,70.5L600.5,70.5L601.5,71.5L606.5,71.5L607.5,72.5L612.5,72.5L613.5,73.5L617.5,73.5L622.5,76.5L626.5,76.5L627.5,75.5L634.5,76.5L640.5,79.5L644.5,83.5L645.5,86.5L648.5,89.5L655.5,89.5L661.5,94.5L671.5,93.5L676.5,95.5L686.5,95.5L690.5,97.5L717.5,97.5L718.5,96.5L720.5,97.5L739.5,97.5L741.5,96.5L746.5,90.5L743.5,86.5L738.5,84.5L709.5,82.5L701.5,79.5L692.5,78.5L679.5,73.5L654.5,73.5L650.5,70.5L648.5,66.5L646.5,65.5L637.5,66.5L635.5,64.5L634.5,61.5L630.5,59.5L627.5,59.5L624.5,61.5L624.5,64.5L626.5,67.5L626.5,69.5L623.5,72.5L619.5,72.5L617.5,70.5L617.5,62.5L612.5,62.5L609.5,64.5L605.5,64.5L598.5,59.5L593.5,59.5ZM443.5,40.5L444.5,50.5L448.5,54.5L455.5,55.5L458.5,53.5L458.5,50.5L452.5,47.5L449.5,44.5L448.5,40.5Z"/>
<path fill="#ff6060" d="M586.5,342.5L586.5,346.5L589.5,350.5L591.5,350.5L592.5,351.5L593.5,350.5L603.5,350.5L609.5,354.5L615.5,352.5L615.5,347.5L612.5,344.5L608.5,342.5L604.5,342.5L601.5,344.5L596.5,344.5L588.5,341.5ZM586.5,320.5L581.5,321.5L581.5,323.5L585.5,322.5ZM550.5,256.5L549.5,258.5L550.5,261.5L553.5,261.5L554.5,260.5L554.5,257.5L553.5,256.5ZM716.5,245.5L713.5,245.5L708.5,249.5L708.5,260.5L706.5,263.5L706.5,269.5L707.5,271.5L710.5,273.5L715.5,273.5L716.5,272.5L721.5,271.5L724.5,269.5L724.5,265.5L720.5,258.5L718.5,246.5ZM547.5,236.5L547.5,238.5L549.5,239.5L550.5,237.5L549.5,236.5ZM704.5,228.5L696.5,228.5L691.5,230.5L689.5,232.5L689.5,234.5L694.5,243.5L698.5,243.5L700.5,242.5L700.5,241.5L705.5,236.5L706.5,231.5ZM550.5,220.5L550.5,221.5L553.5,221.5L553.5,220.5ZM636.5,212.5L637.5,216.5L643.5,220.5L643.5,229.5L644.5,230.5L648.5,230.5L652.5,226.5L652.5,225.5L656.5,222.5L669.5,223.5L671.5,222.5L672.5,220.5L672.5,216.5L665.5,211.5L660.5,211.5L654.5,215.5L651.5,215.5L648.5,212.5L644.5,210.5L637.5,210.5ZM511.5,204.5L514.5,209.5L517.5,212.5L519.5,212.5L519.5,208.5L518.5,206.5ZM526.5,197.5L524.5,196.5L522.5,198.5L522.5,200.5L525.5,200.5ZM493.5,193.5L493.5,196.5L495.5,197.5L495.5,193.5ZM631.5,184.5L629.5,184.5L622.5,192.5L620.5,197.5L619.5,204.5L618.5,206.5L614.5,209.5L614.5,212.5L615.5,213.5L619.5,213.5L625.5,205.5L627.5,201.5L627.5,199.5L629.5,196.5L629.5,194.5L631.5,191.5ZM575.5,175.5L574.5,174.5L572.5,174.5L567.5,179.5L564.5,180.5L560.5,184.5L560.5,186.5L559.5,187.5L560.5,189.5L562.5,190.5L566.5,190.5L568.5,189.5L575.5,181.5L576.5,179.5ZM613.5,173.5L611.5,175.5L611.5,178.5L614.5,180.5L615.5,175.5ZM498.5,171.5L493.5,170.5L490.5,173.5L490.5,179.5L491.5,180.5L493.5,180.5L499.5,174.5L499.5,172.5ZM583.5,164.5L584.5,166.5L588.5,166.5L588.5,164.5L586.5,163.5L584.5,163.5ZM540.5,162.5L539.5,163.5L539.5,166.5L540.5,167.5L544.5,167.5L545.5,166.5L545.5,164.5L543.5,162.5ZM486.5,157.5L484.5,157.5L477.5,161.5L477.5,163.5L476.5,164.5L477.5,165.5L477.5,167.5L479.5,169.5L481.5,169.5L484.5,166.5L487.5,160.5L487.5,158.5ZM571.5,155.5L565.5,155.5L563.5,157.5L563.5,164.5L565.5,166.5L566.5,166.5L572.5,158.5L572.5,156.5ZM518.5,152.5L517.5,153.5L517.5,155.5L519.5,156.5L520.5,155.5L520.5,153.5ZM604.5,147.5L604.5,150.5L605.5,151.5L615.5,151.5L618.5,154.5L620.5,158.5L622.5,159.5L624.5,158.5L623.5,151.5L621.5,149.5L618.5,148.5L614.5,144.5L608.5,144.5ZM543.5,146.5L543.5,148.5L544.5,149.5L547.5,149.5L548.5,150.5L558.5,150.5L560.5,147.5L560.5,141.5L556.5,138.5L551.5,138.5L548.5,140.5ZM470.5,122.5L469.5,124.5L469.5,130.5L468.5,131.5L469.5,133.5L470.5,133.5L470.5,129.5L471.5,128.5L471.5,124.5ZM365.5,90.5L365.5,92.5L368.5,94.5L379.5,94.5L381.5,93.5L381.5,91.5L376.5,89.5L372.5,89.5L371.5,88.5L367.5,88.5ZM484.5,82.5L479.5,82.5L478.5,83.5L474.5,83.5L473.5,84.5L473.5,89.5L477.5,99.5L480.5,97.5L484.5,92.5L484.5,90.5L485.5,89.5L485.5,84.5ZM345.5,73.5L345.5,78.5L357.5,78.5L357.5,77.5L352.5,73.5ZM636.5,73.5L637.5,75.5L642.5,77.5L645.5,80.5L646.5,84.5L649.5,87.5L654.5,87.5L659.5,89.5L661.5,91.5L671.5,91.5L675.5,93.5L686.5,93.5L693.5,96.5L698.5,96.5L699.5,95.5L711.5,96.5L712.5,95.5L716.5,95.5L717.5,94.5L734.5,95.5L735.5,94.5L738.5,94.5L741.5,90.5L739.5,87.5L734.5,85.5L728.5,85.5L727.5,86.5L722.5,86.5L721.5,87.5L719.5,87.5L706.5,82.5L697.5,81.5L696.5,80.5L691.5,80.5L679.5,75.5L652.5,74.5L646.5,67.5L642.5,67.5L639.5,69.5ZM628.5,61.5L627.5,63.5L630.5,66.5L632.5,63.5L630.5,61.5ZM595.5,61.5L595.5,65.5L597.5,68.5L599.5,69.5L604.5,68.5L603.5,65.5L598.5,61.5ZM446.5,45.5L446.5,51.5L448.5,53.5L454.5,54.5L457.5,52.5L455.5,49.5L453.5,49.5Z"/>
<path fill="#fa3c3c" d="M607.5,347.5L608.5,350.5L610.5,351.5L613.5,350.5L613.5,348.5L611.5,346.5L608.5,346.5ZM588.5,346.5L590.5,349.5L595.5,349.5L597.5,348.5L596.5,346.5L591.5,344.5ZM715.5,250.5L713.5,250.5L712.5,251.5L712.5,260.5L708.5,265.5L708.5,269.5L710.5,271.5L716.5,271.5L717.5,270.5L719.5,270.5L721.5,268.5L721.5,264.5L716.5,254.5ZM704.5,231.5L702.5,229.5L698.5,229.5L694.5,232.5L694.5,235.5L695.5,236.5L700.5,236.5L704.5,233.5ZM649.5,222.5L647.5,222.5L645.5,225.5L645.5,227.5L646.5,228.5L649.5,226.5ZM659.5,216.5L659.5,218.5L663.5,220.5L665.5,220.5L666.5,221.5L669.5,220.5L669.5,218.5L664.5,214.5L661.5,214.5ZM638.5,213.5L639.5,215.5L641.5,216.5L644.5,216.5L645.5,215.5L645.5,214.5L641.5,211.5ZM629.5,188.5L628.5,188.5L622.5,196.5L622.5,202.5L625.5,200.5L625.5,198.5L627.5,195.5ZM573.5,177.5L564.5,182.5L562.5,184.5L562.5,186.5L561.5,187.5L562.5,188.5L566.5,188.5L568.5,187.5L568.5,186.5L572.5,182.5ZM497.5,173.5L496.5,172.5L493.5,173.5L493.5,176.5L496.5,175.5ZM483.5,160.5L478.5,162.5L478.5,166.5L479.5,167.5L481.5,167.5L483.5,164.5ZM569.5,157.5L566.5,157.5L564.5,159.5L564.5,163.5L565.5,164.5L568.5,162.5ZM620.5,153.5L620.5,154.5L622.5,155.5L622.5,154.5ZM606.5,149.5L611.5,149.5L612.5,147.5L611.5,146.5L608.5,146.5ZM549.5,142.5L548.5,147.5L550.5,148.5L557.5,148.5L558.5,147.5L558.5,142.5L556.5,140.5L552.5,140.5ZM368.5,91.5L368.5,92.5L370.5,93.5L374.5,93.5L375.5,92.5L371.5,90.5L369.5,90.5ZM727.5,91.5L731.5,92.5L735.5,90.5L733.5,88.5L730.5,88.5L728.5,89.5ZM482.5,85.5L477.5,86.5L477.5,90.5L479.5,92.5L480.5,92.5L483.5,88.5L483.5,86.5ZM648.5,76.5L648.5,82.5L650.5,85.5L652.5,85.5L653.5,86.5L659.5,86.5L660.5,87.5L664.5,87.5L665.5,88.5L671.5,88.5L675.5,91.5L677.5,91.5L678.5,92.5L680.5,92.5L681.5,91.5L686.5,91.5L692.5,94.5L712.5,94.5L716.5,91.5L713.5,87.5L703.5,83.5L692.5,83.5L691.5,82.5L688.5,82.5L687.5,81.5L682.5,80.5L679.5,78.5L669.5,78.5L661.5,75.5ZM345.5,75.5L345.5,76.5L350.5,76.5L350.5,75.5ZM644.5,69.5L642.5,72.5L646.5,74.5L647.5,73.5L646.5,72.5L646.5,70.5ZM448.5,49.5L448.5,51.5L451.5,53.5L453.5,53.5L454.5,52.5L453.5,50.5Z"/>
</g>
<g clip-path="url(#cb)" shape-rendering="crispEdges"><rect x="346" y="366" width="493" height="306" fill="#f0e6e0"/>
<path fill="#e6dc32" d="M579.5,664.5L579.5,666.5L578.5,667.5L578.5,672.5L593.5,672.5L593.5,665.5L590.5,662.5L584.5,661.5L583.5,662.5L581.5,662.5ZM400.5,448.5L395.5,448.5L389.5,454.5L380.5,454.5L378.5,456.5L378.5,458.5L372.5,463.5L366.5,463.5L361.5,458.5L360.5,455.5L358.5,454.5L345.5,454.5L345.5,672.5L440.5,672.5L441.5,668.5L439.5,663.5L432.5,657.5L433.5,648.5L431.5,646.5L421.5,647.5L418.5,645.5L406.5,645.5L404.5,644.5L400.5,637.5L399.5,630.5L402.5,628.5L443.5,628.5L444.5,629.5L446.5,629.5L453.5,637.5L460.5,638.5L462.5,637.5L465.5,633.5L481.5,618.5L481.5,593.5L480.5,591.5L478.5,590.5L469.5,590.5L467.5,589.5L465.5,586.5L465.5,577.5L464.5,575.5L461.5,574.5L456.5,568.5L456.5,563.5L457.5,561.5L461.5,557.5L462.5,557.5L469.5,549.5L478.5,549.5L481.5,546.5L481.5,539.5L473.5,530.5L473.5,529.5L470.5,527.5L466.5,523.5L466.5,522.5L449.5,506.5L446.5,502.5L405.5,502.5L393.5,491.5L394.5,486.5L397.5,484.5L402.5,484.5L403.5,485.5L423.5,485.5L425.5,483.5L425.5,477.5L424.5,476.5L424.5,465.5L423.5,463.5L420.5,461.5L415.5,455.5L413.5,454.5L406.5,454.5ZM364.5,476.5L369.5,477.5L371.5,480.5L371.5,483.5L366.5,487.5L364.5,487.5L360.5,483.5L360.5,480.5ZM345.5,365.5L345.5,430.5L352.5,431.5L359.5,437.5L361.5,437.5L362.5,438.5L367.5,438.5L368.5,439.5L410.5,439.5L415.5,435.5L415.5,429.5L416.5,427.5L420.5,424.5L422.5,424.5L423.5,423.5L439.5,423.5L444.5,425.5L452.5,433.5L453.5,436.5L451.5,441.5L452.5,443.5L457.5,447.5L457.5,449.5L458.5,450.5L450.5,459.5L451.5,461.5L451.5,474.5L453.5,477.5L457.5,478.5L461.5,482.5L463.5,487.5L464.5,496.5L466.5,500.5L470.5,502.5L473.5,502.5L478.5,506.5L479.5,513.5L480.5,514.5L480.5,521.5L485.5,530.5L490.5,536.5L501.5,542.5L510.5,549.5L520.5,552.5L526.5,557.5L528.5,561.5L528.5,581.5L529.5,582.5L529.5,585.5L524.5,592.5L524.5,595.5L529.5,603.5L529.5,609.5L526.5,612.5L517.5,612.5L513.5,615.5L512.5,650.5L507.5,658.5L507.5,672.5L568.5,672.5L568.5,665.5L566.5,662.5L561.5,660.5L547.5,660.5L541.5,655.5L538.5,647.5L538.5,640.5L541.5,636.5L544.5,636.5L548.5,641.5L549.5,644.5L553.5,647.5L561.5,647.5L566.5,645.5L568.5,641.5L572.5,637.5L598.5,636.5L601.5,638.5L602.5,642.5L610.5,648.5L613.5,653.5L615.5,654.5L624.5,655.5L632.5,661.5L637.5,667.5L636.5,672.5L768.5,672.5L768.5,662.5L772.5,659.5L790.5,659.5L791.5,660.5L796.5,661.5L800.5,663.5L804.5,667.5L804.5,672.5L839.5,672.5L839.5,643.5L837.5,644.5L830.5,644.5L826.5,641.5L823.5,633.5L826.5,629.5L831.5,629.5L835.5,631.5L839.5,631.5L839.5,448.5L810.5,448.5L806.5,445.5L807.5,443.5L812.5,439.5L839.5,439.5L839.5,392.5L830.5,392.5L824.5,389.5L814.5,389.5L813.5,390.5L809.5,390.5L808.5,391.5L802.5,390.5L801.5,389.5L666.5,390.5L663.5,387.5L666.5,383.5L671.5,381.5L674.5,381.5L678.5,379.5L726.5,380.5L737.5,370.5L737.5,365.5L506.5,365.5L505.5,370.5L501.5,373.5L497.5,373.5L496.5,372.5L485.5,372.5L481.5,369.5L481.5,365.5ZM810.5,621.5L812.5,619.5L817.5,619.5L820.5,623.5L820.5,627.5L818.5,629.5L814.5,629.5L810.5,625.5ZM567.5,595.5L571.5,599.5L571.5,601.5L572.5,602.5L572.5,607.5L570.5,612.5L564.5,615.5L554.5,615.5L551.5,613.5L552.5,609.5L565.5,595.5ZM697.5,515.5L699.5,517.5L699.5,520.5L697.5,522.5L695.5,520.5L695.5,517.5ZM719.5,496.5L721.5,494.5L726.5,494.5L728.5,496.5L728.5,500.5L726.5,502.5L723.5,503.5L719.5,500.5ZM688.5,458.5L694.5,453.5L710.5,454.5L712.5,455.5L716.5,460.5L722.5,460.5L723.5,459.5L725.5,459.5L731.5,466.5L732.5,472.5L730.5,476.5L727.5,479.5L722.5,479.5L712.5,474.5L703.5,464.5L701.5,463.5L694.5,464.5L692.5,463.5L688.5,459.5ZM770.5,442.5L773.5,444.5L773.5,447.5L770.5,451.5L766.5,453.5L764.5,453.5L759.5,450.5L759.5,446.5L762.5,443.5L764.5,443.5L765.5,442.5ZM624.5,429.5L626.5,427.5L629.5,427.5L634.5,432.5L634.5,435.5L631.5,437.5L627.5,436.5L624.5,432.5ZM362.5,389.5L365.5,386.5L407.5,386.5L411.5,390.5L411.5,392.5L408.5,395.5L405.5,395.5L404.5,396.5L383.5,396.5L382.5,395.5L370.5,395.5L369.5,394.5L366.5,394.5L362.5,390.5ZM634.5,384.5L636.5,382.5L639.5,381.5L644.5,385.5L644.5,388.5L642.5,390.5L636.5,390.5L634.5,388.5ZM530.5,383.5L532.5,381.5L537.5,380.5L544.5,383.5L545.5,384.5L545.5,387.5L542.5,389.5L533.5,389.5L530.5,387.5Z"/>
<path fill="#a0e632" d="M345.5,551.5L345.5,661.5L352.5,661.5L355.5,664.5L355.5,672.5L435.5,672.5L435.5,667.5L426.5,659.5L422.5,653.5L414.5,648.5L403.5,648.5L400.5,645.5L399.5,641.5L394.5,631.5L391.5,629.5L381.5,629.5L379.5,628.5L375.5,624.5L375.5,620.5L376.5,619.5L376.5,617.5L380.5,613.5L382.5,613.5L384.5,614.5L388.5,619.5L392.5,621.5L402.5,621.5L403.5,622.5L438.5,622.5L441.5,619.5L441.5,617.5L443.5,614.5L445.5,613.5L454.5,613.5L457.5,611.5L457.5,609.5L458.5,608.5L458.5,603.5L457.5,601.5L453.5,598.5L446.5,590.5L437.5,590.5L422.5,574.5L413.5,574.5L409.5,570.5L409.5,569.5L393.5,554.5L390.5,550.5L362.5,550.5L361.5,551.5ZM359.5,603.5L360.5,603.5L364.5,608.5L364.5,612.5L362.5,614.5L357.5,613.5L355.5,610.5L356.5,605.5ZM411.5,461.5L409.5,464.5L409.5,474.5L412.5,478.5L417.5,478.5L419.5,474.5L419.5,466.5L418.5,464.5L414.5,461.5ZM345.5,373.5L345.5,428.5L354.5,428.5L355.5,429.5L357.5,429.5L363.5,434.5L368.5,436.5L371.5,436.5L372.5,437.5L388.5,437.5L389.5,436.5L407.5,437.5L411.5,434.5L413.5,427.5L416.5,424.5L420.5,422.5L439.5,421.5L440.5,422.5L444.5,422.5L446.5,423.5L456.5,433.5L457.5,442.5L461.5,448.5L461.5,455.5L456.5,460.5L456.5,472.5L463.5,478.5L464.5,488.5L465.5,489.5L466.5,495.5L469.5,498.5L474.5,500.5L478.5,503.5L481.5,511.5L482.5,521.5L487.5,530.5L490.5,534.5L498.5,538.5L511.5,547.5L515.5,549.5L517.5,549.5L520.5,551.5L522.5,551.5L525.5,553.5L529.5,558.5L529.5,560.5L530.5,561.5L530.5,581.5L531.5,582.5L531.5,587.5L528.5,592.5L528.5,597.5L532.5,605.5L532.5,610.5L527.5,614.5L518.5,615.5L516.5,617.5L516.5,628.5L514.5,632.5L514.5,653.5L512.5,657.5L512.5,662.5L515.5,668.5L514.5,672.5L563.5,672.5L563.5,667.5L562.5,665.5L557.5,663.5L545.5,664.5L540.5,660.5L538.5,656.5L537.5,649.5L535.5,645.5L535.5,639.5L539.5,632.5L542.5,630.5L544.5,630.5L548.5,634.5L549.5,637.5L554.5,643.5L558.5,644.5L559.5,643.5L561.5,643.5L563.5,641.5L563.5,638.5L561.5,634.5L561.5,623.5L559.5,621.5L551.5,621.5L547.5,623.5L543.5,623.5L539.5,620.5L539.5,614.5L543.5,610.5L548.5,608.5L565.5,591.5L567.5,590.5L570.5,591.5L577.5,600.5L579.5,604.5L577.5,609.5L577.5,616.5L578.5,618.5L586.5,625.5L587.5,628.5L589.5,630.5L598.5,630.5L601.5,628.5L606.5,628.5L613.5,636.5L619.5,639.5L619.5,644.5L617.5,647.5L618.5,650.5L629.5,654.5L641.5,666.5L641.5,672.5L761.5,672.5L760.5,653.5L762.5,651.5L764.5,651.5L772.5,655.5L791.5,655.5L806.5,663.5L809.5,663.5L812.5,666.5L812.5,672.5L839.5,672.5L839.5,645.5L836.5,645.5L835.5,646.5L830.5,646.5L828.5,645.5L818.5,633.5L812.5,630.5L808.5,626.5L808.5,624.5L807.5,623.5L807.5,618.5L810.5,615.5L815.5,613.5L817.5,608.5L820.5,605.5L824.5,605.5L827.5,608.5L826.5,620.5L829.5,622.5L831.5,622.5L836.5,627.5L839.5,628.5L839.5,478.5L792.5,478.5L791.5,479.5L779.5,479.5L778.5,480.5L777.5,485.5L773.5,488.5L766.5,488.5L761.5,483.5L761.5,479.5L763.5,477.5L765.5,477.5L766.5,476.5L776.5,476.5L777.5,472.5L781.5,468.5L790.5,468.5L792.5,467.5L795.5,463.5L799.5,461.5L802.5,461.5L803.5,462.5L839.5,462.5L839.5,452.5L811.5,452.5L810.5,453.5L793.5,453.5L792.5,454.5L780.5,454.5L779.5,453.5L774.5,453.5L768.5,456.5L761.5,456.5L756.5,454.5L754.5,452.5L754.5,446.5L758.5,442.5L764.5,439.5L776.5,439.5L777.5,438.5L795.5,438.5L796.5,439.5L805.5,439.5L809.5,437.5L814.5,437.5L815.5,436.5L819.5,436.5L820.5,437.5L839.5,437.5L839.5,396.5L831.5,397.5L821.5,392.5L816.5,392.5L815.5,393.5L803.5,393.5L798.5,391.5L763.5,391.5L762.5,392.5L661.5,392.5L660.5,391.5L647.5,391.5L646.5,392.5L636.5,392.5L631.5,388.5L630.5,385.5L634.5,380.5L638.5,378.5L641.5,378.5L646.5,381.5L653.5,381.5L654.5,380.5L662.5,381.5L663.5,380.5L670.5,379.5L677.5,374.5L679.5,374.5L680.5,373.5L682.5,374.5L703.5,374.5L705.5,372.5L705.5,365.5L509.5,365.5L509.5,369.5L503.5,375.5L497.5,375.5L496.5,374.5L485.5,374.5L484.5,373.5L481.5,373.5L478.5,370.5L478.5,365.5L356.5,365.5L356.5,368.5L352.5,372.5ZM690.5,558.5L693.5,555.5L698.5,555.5L700.5,557.5L700.5,559.5L698.5,561.5L693.5,561.5ZM704.5,500.5L707.5,504.5L707.5,513.5L705.5,517.5L705.5,521.5L703.5,526.5L701.5,528.5L697.5,529.5L693.5,527.5L691.5,524.5L691.5,522.5L690.5,521.5L690.5,514.5L693.5,508.5L701.5,500.5ZM717.5,492.5L721.5,490.5L726.5,491.5L730.5,495.5L730.5,501.5L726.5,505.5L720.5,505.5L718.5,504.5L714.5,499.5L714.5,497.5ZM670.5,452.5L671.5,451.5L671.5,449.5L675.5,446.5L678.5,446.5L682.5,448.5L683.5,450.5L686.5,452.5L693.5,451.5L694.5,450.5L704.5,450.5L705.5,451.5L713.5,450.5L714.5,451.5L716.5,451.5L720.5,454.5L729.5,456.5L731.5,459.5L735.5,462.5L736.5,461.5L740.5,461.5L741.5,460.5L744.5,461.5L746.5,463.5L746.5,467.5L743.5,470.5L740.5,471.5L729.5,483.5L727.5,484.5L723.5,484.5L718.5,480.5L709.5,476.5L702.5,471.5L694.5,471.5L692.5,470.5L683.5,461.5L673.5,459.5L670.5,455.5ZM621.5,428.5L624.5,425.5L629.5,425.5L636.5,431.5L638.5,435.5L637.5,437.5L634.5,439.5L629.5,439.5L625.5,437.5L622.5,434.5L621.5,432.5ZM358.5,387.5L363.5,383.5L369.5,383.5L370.5,384.5L379.5,384.5L380.5,383.5L406.5,383.5L411.5,385.5L414.5,388.5L414.5,392.5L410.5,396.5L408.5,396.5L407.5,397.5L398.5,397.5L397.5,398.5L377.5,397.5L376.5,396.5L369.5,396.5L368.5,395.5L362.5,394.5L359.5,391.5ZM526.5,384.5L527.5,382.5L532.5,378.5L537.5,378.5L545.5,381.5L549.5,385.5L549.5,386.5L544.5,390.5L541.5,390.5L540.5,391.5L532.5,391.5L526.5,386.5ZM440.5,379.5L441.5,378.5L444.5,378.5L447.5,382.5L444.5,384.5L440.5,380.5Z"/>
<path fill="#00dc00" d="M403.5,654.5L403.5,660.5L406.5,662.5L413.5,662.5L414.5,661.5L416.5,661.5L418.5,659.5L417.5,655.5L412.5,651.5L407.5,651.5ZM534.5,614.5L532.5,614.5L525.5,617.5L521.5,617.5L519.5,619.5L519.5,628.5L516.5,633.5L516.5,643.5L517.5,644.5L516.5,659.5L522.5,666.5L522.5,672.5L537.5,672.5L537.5,664.5L535.5,659.5L535.5,651.5L530.5,641.5L536.5,632.5L536.5,620.5L535.5,619.5ZM839.5,605.5L837.5,605.5L833.5,608.5L833.5,613.5L835.5,614.5L839.5,614.5ZM345.5,599.5L345.5,643.5L350.5,644.5L354.5,650.5L362.5,656.5L361.5,672.5L377.5,672.5L377.5,664.5L381.5,661.5L390.5,661.5L393.5,657.5L393.5,647.5L394.5,646.5L393.5,636.5L390.5,632.5L377.5,632.5L373.5,630.5L366.5,622.5L365.5,622.5L361.5,618.5L358.5,617.5L353.5,612.5L353.5,601.5L351.5,599.5ZM345.5,557.5L345.5,566.5L357.5,566.5L361.5,563.5L361.5,558.5L360.5,557.5L358.5,557.5L357.5,556.5ZM345.5,376.5L345.5,426.5L358.5,426.5L367.5,432.5L374.5,435.5L381.5,435.5L382.5,434.5L399.5,434.5L400.5,435.5L405.5,435.5L409.5,432.5L410.5,427.5L415.5,422.5L417.5,422.5L418.5,421.5L423.5,421.5L424.5,420.5L445.5,420.5L450.5,423.5L458.5,431.5L459.5,437.5L460.5,438.5L460.5,440.5L464.5,450.5L464.5,453.5L465.5,454.5L465.5,458.5L459.5,465.5L460.5,469.5L461.5,470.5L466.5,470.5L468.5,469.5L471.5,466.5L472.5,460.5L474.5,458.5L477.5,458.5L479.5,460.5L481.5,465.5L481.5,470.5L478.5,473.5L471.5,475.5L466.5,478.5L465.5,480.5L466.5,491.5L471.5,497.5L476.5,499.5L479.5,502.5L481.5,506.5L484.5,522.5L489.5,531.5L492.5,534.5L499.5,537.5L512.5,546.5L525.5,551.5L529.5,555.5L532.5,562.5L531.5,577.5L533.5,582.5L533.5,587.5L530.5,593.5L530.5,596.5L533.5,603.5L536.5,607.5L538.5,608.5L539.5,607.5L542.5,607.5L547.5,605.5L550.5,603.5L565.5,587.5L567.5,587.5L568.5,586.5L572.5,587.5L578.5,595.5L584.5,597.5L586.5,599.5L587.5,603.5L598.5,613.5L599.5,613.5L605.5,621.5L606.5,621.5L614.5,629.5L614.5,630.5L622.5,636.5L624.5,640.5L624.5,646.5L625.5,648.5L631.5,652.5L644.5,665.5L645.5,667.5L645.5,672.5L754.5,672.5L754.5,656.5L753.5,655.5L753.5,649.5L754.5,647.5L757.5,645.5L765.5,645.5L770.5,650.5L774.5,652.5L790.5,651.5L804.5,659.5L813.5,659.5L816.5,662.5L816.5,672.5L839.5,672.5L839.5,647.5L827.5,647.5L822.5,642.5L818.5,636.5L808.5,629.5L805.5,624.5L805.5,622.5L802.5,615.5L800.5,613.5L793.5,611.5L791.5,607.5L792.5,606.5L793.5,601.5L797.5,597.5L806.5,597.5L809.5,593.5L817.5,586.5L817.5,569.5L815.5,566.5L781.5,566.5L779.5,567.5L778.5,569.5L779.5,578.5L778.5,580.5L775.5,582.5L772.5,582.5L766.5,574.5L759.5,574.5L758.5,575.5L742.5,575.5L738.5,571.5L738.5,569.5L737.5,568.5L740.5,564.5L745.5,563.5L746.5,564.5L750.5,564.5L751.5,565.5L756.5,565.5L760.5,563.5L765.5,557.5L774.5,557.5L777.5,554.5L778.5,552.5L778.5,548.5L776.5,543.5L774.5,542.5L763.5,542.5L761.5,540.5L758.5,534.5L757.5,534.5L751.5,528.5L752.5,521.5L755.5,518.5L758.5,517.5L765.5,509.5L766.5,509.5L776.5,500.5L777.5,495.5L773.5,492.5L771.5,492.5L770.5,493.5L763.5,493.5L756.5,485.5L735.5,484.5L730.5,488.5L733.5,495.5L732.5,502.5L727.5,507.5L723.5,509.5L719.5,509.5L717.5,510.5L710.5,517.5L707.5,524.5L707.5,529.5L704.5,533.5L702.5,533.5L701.5,534.5L694.5,534.5L693.5,533.5L691.5,533.5L688.5,530.5L688.5,527.5L687.5,526.5L687.5,511.5L690.5,504.5L702.5,492.5L705.5,492.5L706.5,493.5L711.5,492.5L715.5,488.5L716.5,484.5L713.5,481.5L708.5,479.5L704.5,476.5L692.5,476.5L690.5,475.5L686.5,471.5L683.5,466.5L677.5,463.5L671.5,463.5L669.5,462.5L664.5,456.5L664.5,452.5L667.5,446.5L670.5,443.5L672.5,443.5L673.5,442.5L676.5,442.5L677.5,443.5L684.5,443.5L689.5,447.5L712.5,447.5L713.5,446.5L716.5,446.5L724.5,451.5L728.5,451.5L734.5,443.5L736.5,443.5L737.5,442.5L738.5,443.5L741.5,443.5L742.5,444.5L747.5,445.5L757.5,439.5L759.5,439.5L762.5,437.5L765.5,437.5L766.5,436.5L777.5,436.5L781.5,434.5L788.5,434.5L789.5,435.5L839.5,434.5L839.5,400.5L829.5,400.5L820.5,395.5L804.5,395.5L799.5,393.5L736.5,393.5L735.5,394.5L666.5,394.5L665.5,393.5L645.5,393.5L644.5,394.5L638.5,394.5L628.5,390.5L625.5,387.5L625.5,385.5L633.5,377.5L641.5,373.5L642.5,371.5L642.5,365.5L634.5,365.5L633.5,370.5L630.5,373.5L628.5,373.5L627.5,374.5L616.5,374.5L610.5,378.5L607.5,378.5L604.5,375.5L603.5,373.5L603.5,365.5L513.5,365.5L513.5,369.5L508.5,374.5L503.5,377.5L497.5,377.5L493.5,375.5L478.5,376.5L475.5,373.5L475.5,365.5L362.5,365.5L361.5,370.5L357.5,374.5L351.5,375.5L350.5,376.5ZM727.5,564.5L730.5,567.5L730.5,571.5L731.5,572.5L731.5,580.5L726.5,584.5L720.5,585.5L718.5,583.5L718.5,581.5L720.5,579.5L720.5,568.5L722.5,565.5ZM687.5,552.5L692.5,549.5L703.5,549.5L706.5,553.5L706.5,566.5L704.5,568.5L701.5,568.5L699.5,566.5L689.5,562.5L686.5,559.5L686.5,554.5ZM619.5,418.5L622.5,421.5L626.5,423.5L628.5,423.5L633.5,426.5L641.5,435.5L641.5,438.5L637.5,441.5L629.5,441.5L623.5,438.5L620.5,435.5L618.5,430.5L618.5,427.5L617.5,426.5L617.5,421.5ZM592.5,414.5L594.5,415.5L596.5,418.5L595.5,419.5L595.5,421.5L592.5,424.5L588.5,425.5L585.5,422.5L585.5,418.5L589.5,414.5ZM353.5,386.5L360.5,380.5L367.5,380.5L371.5,382.5L377.5,382.5L381.5,380.5L409.5,380.5L410.5,381.5L415.5,382.5L417.5,384.5L418.5,388.5L417.5,389.5L417.5,392.5L412.5,397.5L410.5,397.5L409.5,398.5L403.5,398.5L402.5,399.5L383.5,399.5L382.5,398.5L376.5,398.5L375.5,397.5L369.5,397.5L368.5,396.5L361.5,395.5L355.5,391.5ZM523.5,383.5L524.5,381.5L530.5,376.5L537.5,376.5L549.5,381.5L552.5,384.5L552.5,387.5L549.5,390.5L547.5,390.5L546.5,391.5L542.5,391.5L541.5,392.5L529.5,392.5L523.5,387.5ZM435.5,372.5L438.5,372.5L441.5,374.5L443.5,374.5L447.5,376.5L450.5,379.5L452.5,383.5L452.5,386.5L450.5,388.5L443.5,388.5L440.5,386.5L436.5,382.5L435.5,382.5L433.5,379.5L433.5,375.5Z"/>
<path fill="#00d28c" d="M521.5,643.5L520.5,645.5L520.5,649.5L519.5,650.5L519.5,656.5L522.5,660.5L528.5,662.5L531.5,658.5L531.5,656.5L532.5,655.5L532.5,650.5L528.5,646.5L526.5,646.5ZM388.5,636.5L386.5,635.5L379.5,636.5L377.5,638.5L377.5,643.5L379.5,645.5L384.5,645.5L387.5,641.5ZM525.5,619.5L522.5,622.5L523.5,629.5L524.5,630.5L530.5,630.5L531.5,629.5L531.5,619.5ZM345.5,604.5L345.5,637.5L350.5,638.5L357.5,646.5L360.5,646.5L362.5,644.5L362.5,637.5L361.5,636.5L362.5,626.5L361.5,624.5L352.5,616.5L350.5,606.5L348.5,604.5ZM751.5,488.5L746.5,488.5L745.5,487.5L743.5,487.5L742.5,488.5L737.5,489.5L736.5,491.5L737.5,496.5L732.5,506.5L728.5,510.5L721.5,514.5L716.5,519.5L715.5,519.5L712.5,523.5L712.5,525.5L714.5,529.5L714.5,539.5L713.5,540.5L714.5,546.5L715.5,548.5L718.5,549.5L722.5,553.5L723.5,556.5L726.5,558.5L731.5,558.5L732.5,557.5L734.5,557.5L735.5,558.5L742.5,558.5L744.5,557.5L745.5,553.5L754.5,545.5L755.5,539.5L753.5,536.5L747.5,533.5L745.5,531.5L745.5,521.5L743.5,518.5L744.5,513.5L753.5,505.5L755.5,500.5L755.5,491.5ZM368.5,374.5L369.5,378.5L374.5,380.5L375.5,379.5L377.5,379.5L379.5,376.5L377.5,373.5L375.5,373.5L374.5,372.5L372.5,372.5ZM345.5,391.5L345.5,424.5L359.5,424.5L360.5,425.5L365.5,426.5L374.5,431.5L404.5,432.5L406.5,430.5L407.5,426.5L412.5,421.5L415.5,421.5L416.5,420.5L421.5,420.5L422.5,419.5L426.5,419.5L427.5,418.5L447.5,418.5L453.5,421.5L460.5,429.5L461.5,436.5L462.5,437.5L466.5,451.5L469.5,454.5L477.5,454.5L482.5,460.5L483.5,466.5L484.5,467.5L484.5,471.5L481.5,474.5L474.5,476.5L468.5,479.5L467.5,481.5L467.5,489.5L468.5,490.5L468.5,492.5L470.5,494.5L475.5,496.5L480.5,501.5L483.5,509.5L484.5,518.5L489.5,529.5L494.5,534.5L501.5,537.5L511.5,544.5L517.5,547.5L527.5,550.5L530.5,553.5L533.5,559.5L533.5,579.5L535.5,583.5L535.5,587.5L533.5,591.5L533.5,598.5L534.5,600.5L537.5,603.5L544.5,603.5L546.5,602.5L550.5,598.5L551.5,595.5L554.5,593.5L564.5,582.5L568.5,580.5L573.5,580.5L581.5,589.5L583.5,590.5L589.5,590.5L593.5,594.5L593.5,600.5L594.5,602.5L597.5,604.5L599.5,607.5L603.5,611.5L604.5,611.5L623.5,631.5L629.5,643.5L630.5,647.5L641.5,659.5L642.5,659.5L651.5,667.5L651.5,672.5L696.5,672.5L697.5,668.5L695.5,663.5L688.5,657.5L689.5,649.5L687.5,647.5L683.5,646.5L680.5,643.5L680.5,640.5L683.5,637.5L688.5,635.5L689.5,633.5L697.5,626.5L698.5,622.5L702.5,619.5L724.5,620.5L728.5,622.5L731.5,626.5L730.5,635.5L732.5,637.5L750.5,636.5L754.5,633.5L754.5,632.5L763.5,622.5L765.5,621.5L776.5,621.5L779.5,623.5L779.5,625.5L780.5,626.5L779.5,627.5L779.5,634.5L787.5,642.5L790.5,647.5L798.5,652.5L803.5,652.5L809.5,655.5L815.5,655.5L819.5,658.5L820.5,660.5L819.5,672.5L839.5,672.5L839.5,649.5L826.5,649.5L824.5,648.5L820.5,642.5L804.5,627.5L800.5,618.5L798.5,616.5L790.5,616.5L788.5,615.5L786.5,612.5L785.5,608.5L781.5,606.5L774.5,598.5L757.5,598.5L755.5,600.5L754.5,603.5L751.5,606.5L749.5,606.5L747.5,605.5L733.5,590.5L729.5,588.5L717.5,588.5L709.5,581.5L708.5,581.5L705.5,578.5L703.5,574.5L696.5,567.5L687.5,563.5L684.5,560.5L684.5,558.5L683.5,557.5L683.5,552.5L679.5,545.5L679.5,542.5L682.5,535.5L682.5,522.5L683.5,521.5L682.5,519.5L682.5,510.5L681.5,509.5L681.5,505.5L680.5,504.5L680.5,496.5L682.5,493.5L693.5,494.5L700.5,487.5L707.5,486.5L708.5,484.5L706.5,481.5L703.5,479.5L689.5,479.5L685.5,477.5L681.5,477.5L676.5,479.5L667.5,479.5L664.5,476.5L664.5,473.5L665.5,472.5L665.5,465.5L658.5,459.5L656.5,455.5L654.5,454.5L649.5,454.5L648.5,455.5L644.5,454.5L641.5,451.5L640.5,447.5L637.5,444.5L629.5,444.5L623.5,441.5L617.5,436.5L614.5,430.5L605.5,431.5L603.5,429.5L600.5,423.5L598.5,423.5L594.5,426.5L589.5,428.5L582.5,425.5L580.5,422.5L583.5,416.5L588.5,411.5L592.5,410.5L593.5,411.5L598.5,412.5L604.5,407.5L616.5,406.5L622.5,411.5L624.5,419.5L626.5,421.5L631.5,423.5L638.5,430.5L639.5,430.5L647.5,439.5L653.5,443.5L655.5,443.5L656.5,444.5L662.5,444.5L669.5,438.5L675.5,438.5L676.5,439.5L678.5,439.5L679.5,438.5L686.5,438.5L692.5,443.5L694.5,443.5L695.5,444.5L698.5,444.5L699.5,443.5L719.5,443.5L723.5,445.5L726.5,445.5L728.5,442.5L733.5,438.5L743.5,438.5L744.5,439.5L748.5,439.5L749.5,438.5L757.5,437.5L764.5,434.5L776.5,434.5L782.5,431.5L791.5,431.5L800.5,427.5L810.5,431.5L839.5,431.5L839.5,404.5L837.5,405.5L830.5,405.5L821.5,399.5L819.5,399.5L818.5,398.5L813.5,398.5L812.5,397.5L807.5,397.5L806.5,396.5L802.5,396.5L801.5,395.5L636.5,395.5L631.5,393.5L623.5,393.5L620.5,391.5L618.5,386.5L618.5,383.5L614.5,380.5L607.5,380.5L602.5,376.5L602.5,374.5L601.5,373.5L601.5,365.5L530.5,365.5L530.5,371.5L535.5,373.5L538.5,373.5L544.5,377.5L551.5,379.5L555.5,383.5L555.5,385.5L556.5,386.5L555.5,389.5L553.5,391.5L543.5,392.5L542.5,393.5L534.5,393.5L533.5,394.5L523.5,392.5L520.5,389.5L518.5,382.5L512.5,376.5L509.5,376.5L504.5,379.5L499.5,379.5L494.5,377.5L484.5,377.5L479.5,380.5L475.5,380.5L472.5,377.5L472.5,374.5L471.5,373.5L471.5,365.5L439.5,365.5L440.5,369.5L443.5,372.5L448.5,374.5L457.5,384.5L457.5,388.5L452.5,392.5L443.5,392.5L436.5,389.5L435.5,390.5L422.5,390.5L415.5,398.5L413.5,398.5L412.5,399.5L406.5,399.5L405.5,400.5L400.5,400.5L399.5,401.5L387.5,401.5L386.5,400.5L381.5,400.5L380.5,399.5L376.5,399.5L375.5,398.5L363.5,397.5L362.5,396.5L356.5,395.5L351.5,392.5ZM533.5,489.5L535.5,491.5L535.5,494.5L533.5,496.5L527.5,498.5L523.5,495.5L523.5,492.5L526.5,489.5L528.5,489.5L529.5,488.5L530.5,489.5ZM515.5,405.5L517.5,409.5L517.5,416.5L515.5,420.5L512.5,423.5L509.5,424.5L506.5,421.5L506.5,411.5L511.5,405.5ZM393.5,365.5L393.5,373.5L396.5,375.5L401.5,374.5L402.5,372.5L402.5,365.5Z"/>
<path fill="#00c8c8" d="M825.5,654.5L825.5,659.5L827.5,661.5L830.5,661.5L833.5,663.5L835.5,667.5L835.5,672.5L839.5,672.5L839.5,651.5L829.5,651.5ZM784.5,623.5L783.5,630.5L785.5,634.5L789.5,636.5L794.5,641.5L795.5,644.5L798.5,647.5L805.5,647.5L814.5,652.5L818.5,650.5L818.5,644.5L816.5,641.5L809.5,634.5L805.5,632.5L801.5,628.5L798.5,621.5L796.5,619.5L790.5,619.5L789.5,620.5L787.5,620.5ZM748.5,491.5L746.5,491.5L744.5,493.5L744.5,499.5L736.5,505.5L736.5,506.5L722.5,520.5L720.5,524.5L722.5,531.5L727.5,534.5L730.5,539.5L733.5,541.5L735.5,541.5L738.5,538.5L738.5,528.5L737.5,527.5L737.5,525.5L738.5,524.5L738.5,514.5L739.5,512.5L751.5,501.5L751.5,499.5L752.5,498.5L752.5,494.5ZM345.5,396.5L345.5,422.5L359.5,422.5L360.5,423.5L364.5,423.5L365.5,424.5L370.5,424.5L376.5,421.5L382.5,420.5L385.5,423.5L386.5,426.5L390.5,429.5L400.5,428.5L404.5,424.5L404.5,423.5L409.5,419.5L423.5,418.5L428.5,416.5L448.5,416.5L453.5,414.5L457.5,409.5L457.5,400.5L456.5,398.5L454.5,397.5L445.5,397.5L444.5,398.5L435.5,398.5L434.5,399.5L433.5,398.5L422.5,397.5L418.5,400.5L414.5,400.5L413.5,401.5L403.5,401.5L397.5,404.5L391.5,404.5L390.5,403.5L383.5,402.5L375.5,399.5L362.5,398.5L361.5,397.5L354.5,397.5L353.5,396.5ZM476.5,384.5L474.5,386.5L474.5,389.5L476.5,393.5L476.5,398.5L475.5,399.5L475.5,401.5L477.5,405.5L482.5,411.5L483.5,418.5L481.5,420.5L475.5,421.5L468.5,424.5L463.5,430.5L463.5,435.5L464.5,436.5L464.5,439.5L465.5,440.5L467.5,448.5L470.5,451.5L475.5,451.5L476.5,452.5L478.5,452.5L482.5,456.5L485.5,463.5L486.5,472.5L481.5,476.5L471.5,479.5L468.5,483.5L468.5,488.5L472.5,493.5L476.5,494.5L481.5,499.5L483.5,504.5L483.5,508.5L484.5,509.5L484.5,513.5L485.5,514.5L486.5,521.5L490.5,529.5L493.5,532.5L500.5,535.5L515.5,545.5L517.5,545.5L520.5,547.5L523.5,547.5L524.5,548.5L528.5,548.5L532.5,551.5L534.5,556.5L534.5,559.5L535.5,560.5L535.5,579.5L537.5,583.5L537.5,588.5L535.5,592.5L535.5,596.5L537.5,599.5L539.5,600.5L543.5,600.5L547.5,596.5L548.5,590.5L563.5,574.5L568.5,571.5L573.5,573.5L577.5,576.5L577.5,577.5L584.5,585.5L592.5,588.5L595.5,591.5L597.5,597.5L609.5,608.5L610.5,608.5L627.5,626.5L627.5,632.5L628.5,633.5L628.5,635.5L631.5,639.5L635.5,649.5L646.5,660.5L657.5,664.5L660.5,667.5L660.5,672.5L691.5,672.5L691.5,667.5L690.5,665.5L685.5,662.5L678.5,654.5L675.5,653.5L672.5,650.5L673.5,640.5L671.5,637.5L671.5,634.5L675.5,630.5L678.5,629.5L680.5,627.5L681.5,623.5L683.5,621.5L688.5,619.5L688.5,618.5L693.5,613.5L699.5,613.5L703.5,615.5L714.5,615.5L718.5,613.5L721.5,607.5L726.5,604.5L728.5,605.5L731.5,609.5L731.5,611.5L730.5,612.5L730.5,617.5L731.5,619.5L735.5,622.5L738.5,628.5L740.5,630.5L742.5,630.5L743.5,631.5L749.5,631.5L752.5,629.5L754.5,626.5L754.5,624.5L752.5,622.5L748.5,621.5L745.5,618.5L745.5,609.5L734.5,597.5L733.5,597.5L729.5,593.5L724.5,591.5L719.5,591.5L706.5,583.5L703.5,580.5L702.5,577.5L696.5,569.5L684.5,562.5L682.5,559.5L680.5,552.5L673.5,543.5L667.5,540.5L662.5,535.5L660.5,535.5L659.5,536.5L653.5,536.5L651.5,535.5L648.5,531.5L648.5,528.5L650.5,526.5L655.5,524.5L659.5,518.5L661.5,517.5L671.5,517.5L674.5,513.5L674.5,492.5L673.5,491.5L673.5,487.5L671.5,485.5L664.5,485.5L663.5,486.5L658.5,486.5L657.5,487.5L650.5,487.5L649.5,486.5L647.5,487.5L638.5,487.5L637.5,488.5L633.5,487.5L632.5,486.5L632.5,482.5L637.5,476.5L655.5,477.5L658.5,474.5L658.5,471.5L657.5,470.5L655.5,470.5L651.5,468.5L649.5,466.5L648.5,463.5L645.5,461.5L641.5,461.5L636.5,463.5L629.5,462.5L625.5,458.5L625.5,457.5L610.5,443.5L608.5,438.5L604.5,437.5L601.5,435.5L598.5,429.5L588.5,430.5L580.5,427.5L571.5,428.5L570.5,429.5L561.5,429.5L559.5,425.5L559.5,420.5L561.5,418.5L565.5,418.5L566.5,419.5L577.5,418.5L579.5,417.5L587.5,408.5L593.5,404.5L605.5,405.5L606.5,404.5L610.5,404.5L611.5,403.5L616.5,403.5L623.5,409.5L625.5,417.5L629.5,421.5L633.5,423.5L646.5,435.5L652.5,439.5L659.5,440.5L666.5,435.5L668.5,435.5L669.5,434.5L675.5,434.5L676.5,435.5L678.5,435.5L679.5,434.5L685.5,434.5L694.5,439.5L703.5,439.5L704.5,438.5L706.5,438.5L707.5,439.5L724.5,439.5L734.5,434.5L755.5,435.5L763.5,432.5L775.5,432.5L781.5,429.5L787.5,428.5L797.5,423.5L806.5,423.5L807.5,422.5L810.5,422.5L813.5,420.5L823.5,421.5L825.5,419.5L826.5,413.5L823.5,406.5L820.5,403.5L814.5,400.5L812.5,400.5L808.5,398.5L805.5,398.5L804.5,397.5L800.5,397.5L799.5,396.5L635.5,396.5L634.5,395.5L625.5,395.5L624.5,396.5L621.5,396.5L618.5,394.5L614.5,384.5L610.5,382.5L607.5,382.5L602.5,379.5L599.5,373.5L598.5,365.5L586.5,365.5L587.5,367.5L588.5,387.5L585.5,391.5L569.5,391.5L568.5,390.5L564.5,391.5L562.5,398.5L560.5,400.5L558.5,400.5L553.5,394.5L551.5,394.5L550.5,393.5L543.5,393.5L542.5,394.5L527.5,395.5L524.5,397.5L520.5,407.5L520.5,412.5L521.5,413.5L521.5,419.5L520.5,421.5L514.5,427.5L508.5,429.5L503.5,425.5L502.5,423.5L502.5,418.5L503.5,417.5L503.5,413.5L506.5,406.5L511.5,401.5L512.5,401.5L514.5,397.5L514.5,392.5L515.5,390.5L510.5,381.5L501.5,381.5L500.5,380.5L489.5,378.5L484.5,380.5L480.5,383.5ZM575.5,552.5L578.5,549.5L583.5,549.5L587.5,552.5L588.5,555.5L584.5,559.5L577.5,559.5L575.5,557.5ZM519.5,494.5L520.5,493.5L520.5,491.5L525.5,486.5L529.5,486.5L530.5,487.5L535.5,488.5L538.5,491.5L538.5,493.5L535.5,497.5L527.5,500.5L523.5,499.5ZM443.5,365.5L443.5,369.5L448.5,372.5L450.5,372.5L455.5,375.5L457.5,375.5L461.5,373.5L464.5,373.5L466.5,372.5L466.5,370.5L467.5,369.5L467.5,365.5Z"/>
<path fill="#00a0ff" d="M801.5,636.5L800.5,641.5L802.5,643.5L812.5,645.5L811.5,640.5L807.5,636.5L805.5,635.5ZM792.5,622.5L789.5,623.5L787.5,625.5L787.5,629.5L789.5,631.5L793.5,631.5L795.5,629.5L795.5,624.5ZM402.5,416.5L398.5,413.5L395.5,414.5L393.5,416.5L392.5,422.5L393.5,423.5L398.5,423.5L400.5,422.5L402.5,419.5ZM405.5,404.5L405.5,406.5L406.5,406.5L410.5,410.5L411.5,414.5L414.5,416.5L423.5,416.5L430.5,413.5L446.5,413.5L451.5,409.5L451.5,406.5L448.5,404.5L432.5,404.5L431.5,405.5L419.5,405.5L418.5,404.5L414.5,404.5L413.5,403.5L406.5,403.5ZM345.5,419.5L352.5,419.5L353.5,420.5L358.5,420.5L359.5,421.5L369.5,421.5L372.5,419.5L374.5,419.5L378.5,417.5L384.5,410.5L385.5,406.5L382.5,403.5L378.5,401.5L371.5,400.5L370.5,399.5L352.5,399.5L351.5,400.5L345.5,400.5ZM619.5,400.5L624.5,407.5L624.5,409.5L626.5,413.5L626.5,416.5L630.5,420.5L635.5,423.5L641.5,429.5L649.5,435.5L654.5,437.5L657.5,437.5L669.5,431.5L686.5,431.5L694.5,435.5L702.5,435.5L703.5,434.5L707.5,434.5L708.5,435.5L725.5,435.5L734.5,431.5L742.5,431.5L743.5,432.5L745.5,432.5L746.5,431.5L748.5,432.5L758.5,432.5L765.5,429.5L774.5,430.5L782.5,426.5L789.5,424.5L792.5,422.5L798.5,421.5L799.5,420.5L804.5,420.5L808.5,418.5L811.5,415.5L818.5,413.5L818.5,409.5L817.5,407.5L809.5,400.5L807.5,400.5L803.5,398.5L763.5,398.5L762.5,397.5L732.5,397.5L731.5,396.5L708.5,396.5L707.5,397.5L703.5,397.5L702.5,396.5L675.5,396.5L674.5,397.5L626.5,397.5ZM488.5,381.5L480.5,388.5L480.5,402.5L486.5,413.5L488.5,415.5L490.5,420.5L489.5,422.5L486.5,424.5L477.5,424.5L472.5,426.5L466.5,431.5L465.5,435.5L466.5,436.5L467.5,443.5L469.5,447.5L471.5,449.5L475.5,449.5L480.5,451.5L485.5,457.5L486.5,462.5L488.5,466.5L488.5,473.5L483.5,477.5L473.5,480.5L470.5,483.5L470.5,488.5L474.5,491.5L477.5,491.5L481.5,495.5L484.5,503.5L484.5,508.5L485.5,509.5L486.5,518.5L490.5,527.5L493.5,531.5L502.5,535.5L510.5,541.5L518.5,545.5L521.5,545.5L522.5,546.5L527.5,546.5L529.5,545.5L533.5,539.5L537.5,535.5L539.5,535.5L540.5,536.5L540.5,539.5L538.5,542.5L538.5,544.5L536.5,548.5L536.5,558.5L537.5,559.5L537.5,579.5L539.5,583.5L538.5,595.5L540.5,597.5L544.5,595.5L545.5,589.5L547.5,585.5L550.5,583.5L563.5,569.5L570.5,557.5L572.5,549.5L576.5,545.5L586.5,547.5L591.5,551.5L594.5,552.5L599.5,557.5L601.5,564.5L604.5,570.5L604.5,577.5L603.5,578.5L602.5,592.5L605.5,596.5L606.5,599.5L620.5,614.5L629.5,619.5L633.5,623.5L633.5,631.5L634.5,632.5L634.5,635.5L635.5,636.5L637.5,646.5L642.5,651.5L643.5,651.5L649.5,658.5L654.5,660.5L659.5,660.5L661.5,661.5L665.5,666.5L665.5,672.5L673.5,672.5L673.5,667.5L674.5,666.5L674.5,662.5L675.5,660.5L664.5,647.5L664.5,641.5L665.5,640.5L666.5,635.5L669.5,629.5L673.5,626.5L673.5,621.5L672.5,620.5L673.5,615.5L678.5,611.5L681.5,611.5L682.5,612.5L687.5,612.5L691.5,610.5L712.5,611.5L723.5,599.5L724.5,597.5L723.5,595.5L716.5,592.5L708.5,586.5L705.5,585.5L701.5,581.5L700.5,577.5L698.5,574.5L691.5,567.5L686.5,565.5L681.5,560.5L678.5,553.5L672.5,546.5L660.5,540.5L652.5,540.5L650.5,539.5L642.5,531.5L641.5,528.5L639.5,526.5L629.5,526.5L625.5,522.5L625.5,513.5L629.5,508.5L632.5,507.5L633.5,508.5L636.5,508.5L641.5,510.5L654.5,510.5L657.5,508.5L657.5,504.5L653.5,501.5L646.5,502.5L640.5,497.5L640.5,495.5L638.5,493.5L632.5,493.5L625.5,490.5L621.5,487.5L617.5,487.5L616.5,486.5L615.5,487.5L612.5,487.5L608.5,493.5L604.5,496.5L599.5,496.5L596.5,494.5L594.5,490.5L593.5,485.5L591.5,482.5L591.5,466.5L594.5,461.5L594.5,457.5L595.5,456.5L595.5,452.5L594.5,451.5L594.5,441.5L595.5,440.5L595.5,436.5L593.5,433.5L587.5,432.5L583.5,430.5L573.5,430.5L572.5,431.5L566.5,432.5L553.5,439.5L548.5,439.5L543.5,433.5L543.5,431.5L546.5,428.5L550.5,427.5L553.5,425.5L555.5,416.5L558.5,412.5L561.5,412.5L564.5,415.5L566.5,415.5L567.5,416.5L575.5,416.5L576.5,415.5L578.5,415.5L582.5,411.5L584.5,407.5L585.5,402.5L581.5,397.5L579.5,397.5L578.5,396.5L568.5,396.5L565.5,399.5L561.5,406.5L558.5,406.5L555.5,402.5L553.5,397.5L550.5,395.5L548.5,395.5L547.5,394.5L542.5,394.5L541.5,395.5L530.5,396.5L526.5,399.5L523.5,407.5L523.5,412.5L525.5,417.5L525.5,423.5L524.5,425.5L516.5,432.5L502.5,432.5L499.5,429.5L497.5,422.5L501.5,414.5L501.5,412.5L504.5,405.5L511.5,396.5L511.5,392.5L507.5,385.5L504.5,383.5L498.5,382.5L497.5,381.5L493.5,381.5L492.5,380.5ZM516.5,494.5L519.5,488.5L523.5,484.5L528.5,484.5L531.5,486.5L536.5,487.5L540.5,491.5L539.5,495.5L536.5,498.5L529.5,501.5L523.5,501.5L521.5,500.5ZM594.5,370.5L592.5,374.5L592.5,393.5L594.5,397.5L602.5,402.5L608.5,402.5L615.5,398.5L615.5,393.5L614.5,392.5L613.5,387.5L611.5,385.5L603.5,382.5L599.5,378.5L597.5,373.5ZM447.5,365.5L447.5,367.5L449.5,367.5L449.5,365.5Z"/>
<path fill="#1e3cff" d="M568.5,401.5L564.5,407.5L565.5,412.5L569.5,414.5L574.5,414.5L575.5,413.5L577.5,413.5L580.5,410.5L580.5,407.5L581.5,406.5L580.5,405.5L580.5,403.5L576.5,400.5L570.5,400.5ZM345.5,415.5L349.5,415.5L352.5,417.5L358.5,418.5L359.5,419.5L366.5,419.5L375.5,415.5L379.5,411.5L380.5,409.5L380.5,405.5L377.5,402.5L371.5,401.5L370.5,400.5L358.5,400.5L348.5,405.5L345.5,405.5ZM624.5,401.5L624.5,404.5L626.5,408.5L627.5,415.5L629.5,418.5L637.5,423.5L643.5,429.5L652.5,434.5L658.5,434.5L660.5,432.5L670.5,428.5L684.5,428.5L695.5,432.5L702.5,432.5L703.5,431.5L706.5,431.5L707.5,432.5L709.5,432.5L710.5,431.5L725.5,432.5L732.5,429.5L759.5,429.5L763.5,427.5L775.5,427.5L782.5,423.5L784.5,423.5L797.5,418.5L800.5,418.5L804.5,416.5L810.5,408.5L810.5,404.5L807.5,401.5L802.5,400.5L801.5,399.5L760.5,399.5L759.5,398.5L738.5,398.5L737.5,397.5L673.5,397.5L672.5,398.5L655.5,398.5L654.5,399.5L652.5,399.5L651.5,398.5L630.5,398.5ZM471.5,430.5L468.5,433.5L468.5,440.5L470.5,445.5L472.5,447.5L480.5,449.5L487.5,456.5L489.5,461.5L490.5,468.5L491.5,469.5L490.5,473.5L486.5,477.5L482.5,478.5L474.5,482.5L472.5,484.5L472.5,486.5L473.5,487.5L476.5,487.5L480.5,489.5L484.5,495.5L484.5,497.5L485.5,498.5L485.5,507.5L486.5,508.5L486.5,513.5L487.5,514.5L488.5,521.5L491.5,527.5L495.5,531.5L504.5,535.5L512.5,541.5L519.5,544.5L526.5,544.5L530.5,540.5L534.5,533.5L537.5,530.5L539.5,529.5L543.5,532.5L544.5,534.5L544.5,539.5L540.5,546.5L540.5,549.5L539.5,550.5L539.5,557.5L540.5,558.5L540.5,571.5L539.5,572.5L539.5,577.5L542.5,582.5L546.5,582.5L549.5,580.5L559.5,570.5L568.5,552.5L568.5,550.5L570.5,546.5L574.5,542.5L578.5,542.5L579.5,543.5L587.5,545.5L595.5,549.5L600.5,553.5L604.5,562.5L608.5,567.5L608.5,570.5L609.5,571.5L608.5,573.5L608.5,577.5L611.5,583.5L611.5,585.5L609.5,587.5L607.5,593.5L608.5,594.5L608.5,597.5L610.5,600.5L612.5,601.5L620.5,609.5L620.5,610.5L627.5,614.5L634.5,615.5L635.5,614.5L638.5,614.5L646.5,611.5L650.5,614.5L650.5,617.5L651.5,618.5L651.5,625.5L649.5,627.5L641.5,630.5L640.5,635.5L639.5,636.5L639.5,641.5L640.5,642.5L640.5,644.5L644.5,647.5L654.5,647.5L658.5,644.5L661.5,637.5L663.5,635.5L663.5,633.5L665.5,629.5L665.5,626.5L666.5,625.5L666.5,616.5L667.5,614.5L674.5,608.5L680.5,605.5L684.5,605.5L690.5,608.5L703.5,608.5L704.5,607.5L709.5,606.5L711.5,603.5L716.5,599.5L717.5,596.5L711.5,590.5L708.5,588.5L704.5,587.5L700.5,583.5L699.5,579.5L694.5,571.5L689.5,567.5L683.5,564.5L674.5,551.5L669.5,547.5L661.5,544.5L648.5,544.5L643.5,541.5L628.5,541.5L622.5,544.5L617.5,544.5L615.5,542.5L616.5,530.5L611.5,522.5L611.5,518.5L610.5,517.5L611.5,511.5L613.5,509.5L619.5,509.5L620.5,508.5L622.5,508.5L627.5,504.5L632.5,502.5L634.5,500.5L634.5,498.5L621.5,491.5L617.5,491.5L615.5,492.5L606.5,502.5L596.5,502.5L592.5,499.5L591.5,490.5L590.5,489.5L590.5,487.5L588.5,485.5L588.5,483.5L587.5,482.5L587.5,476.5L586.5,475.5L586.5,468.5L587.5,467.5L587.5,464.5L591.5,458.5L591.5,438.5L589.5,435.5L581.5,432.5L574.5,432.5L560.5,438.5L548.5,448.5L546.5,448.5L544.5,446.5L544.5,442.5L538.5,435.5L537.5,431.5L540.5,427.5L548.5,424.5L551.5,421.5L552.5,417.5L555.5,412.5L555.5,405.5L552.5,399.5L549.5,396.5L541.5,395.5L540.5,396.5L534.5,396.5L528.5,399.5L525.5,406.5L525.5,412.5L528.5,419.5L528.5,427.5L527.5,429.5L518.5,437.5L502.5,437.5L501.5,436.5L499.5,436.5L492.5,429.5L490.5,429.5L489.5,428.5L476.5,428.5L473.5,430.5ZM513.5,493.5L515.5,489.5L522.5,482.5L527.5,482.5L532.5,485.5L539.5,487.5L542.5,491.5L541.5,495.5L537.5,499.5L530.5,502.5L522.5,502.5L521.5,501.5L519.5,501.5L514.5,496.5ZM493.5,382.5L492.5,383.5L490.5,383.5L483.5,390.5L482.5,392.5L482.5,398.5L487.5,408.5L492.5,413.5L497.5,413.5L500.5,409.5L500.5,407.5L502.5,403.5L507.5,396.5L507.5,391.5L503.5,385.5L499.5,383.5L495.5,383.5ZM596.5,381.5L596.5,383.5L595.5,384.5L595.5,391.5L596.5,392.5L596.5,394.5L600.5,398.5L604.5,400.5L609.5,399.5L612.5,395.5L612.5,391.5L610.5,387.5L605.5,384.5L603.5,384.5L598.5,381.5Z"/>
<path fill="#8200dc" d="M658.5,630.5L651.5,630.5L650.5,631.5L645.5,632.5L642.5,636.5L643.5,642.5L646.5,644.5L652.5,644.5L656.5,641.5L658.5,636.5ZM616.5,502.5L617.5,503.5L622.5,503.5L624.5,502.5L627.5,498.5L623.5,495.5L618.5,495.5L616.5,498.5ZM471.5,434.5L470.5,436.5L470.5,441.5L471.5,443.5L474.5,446.5L476.5,446.5L483.5,449.5L489.5,453.5L492.5,457.5L493.5,473.5L489.5,477.5L479.5,482.5L479.5,485.5L488.5,495.5L488.5,499.5L487.5,500.5L487.5,513.5L488.5,514.5L489.5,521.5L492.5,527.5L495.5,530.5L506.5,535.5L509.5,538.5L517.5,542.5L523.5,543.5L529.5,538.5L532.5,532.5L538.5,526.5L541.5,526.5L544.5,529.5L546.5,533.5L546.5,543.5L544.5,546.5L544.5,553.5L545.5,554.5L545.5,559.5L544.5,560.5L544.5,570.5L543.5,571.5L543.5,576.5L544.5,577.5L547.5,577.5L556.5,569.5L560.5,562.5L560.5,560.5L562.5,556.5L562.5,553.5L565.5,548.5L573.5,539.5L577.5,539.5L580.5,541.5L582.5,541.5L598.5,547.5L603.5,552.5L605.5,557.5L612.5,564.5L612.5,577.5L616.5,583.5L616.5,586.5L611.5,590.5L610.5,592.5L610.5,596.5L612.5,599.5L617.5,602.5L622.5,608.5L626.5,610.5L628.5,610.5L629.5,611.5L636.5,611.5L637.5,610.5L640.5,610.5L650.5,605.5L663.5,605.5L664.5,606.5L669.5,606.5L674.5,603.5L677.5,603.5L678.5,602.5L685.5,602.5L691.5,606.5L700.5,606.5L706.5,603.5L710.5,599.5L712.5,596.5L711.5,593.5L699.5,585.5L697.5,581.5L697.5,579.5L693.5,572.5L690.5,569.5L684.5,566.5L678.5,560.5L676.5,556.5L667.5,548.5L665.5,548.5L664.5,547.5L658.5,547.5L653.5,551.5L650.5,551.5L638.5,544.5L630.5,544.5L618.5,550.5L613.5,550.5L610.5,548.5L609.5,544.5L610.5,543.5L612.5,533.5L611.5,532.5L611.5,529.5L609.5,524.5L609.5,520.5L608.5,519.5L607.5,512.5L603.5,509.5L602.5,510.5L599.5,510.5L596.5,512.5L585.5,512.5L583.5,510.5L583.5,505.5L587.5,497.5L587.5,490.5L585.5,486.5L585.5,482.5L584.5,481.5L584.5,477.5L583.5,476.5L583.5,472.5L582.5,471.5L583.5,469.5L583.5,464.5L587.5,456.5L587.5,440.5L585.5,437.5L581.5,435.5L574.5,435.5L568.5,438.5L566.5,438.5L563.5,440.5L553.5,451.5L550.5,453.5L544.5,454.5L543.5,453.5L540.5,453.5L537.5,451.5L536.5,449.5L538.5,445.5L538.5,441.5L536.5,439.5L531.5,437.5L527.5,437.5L522.5,440.5L519.5,440.5L518.5,441.5L511.5,441.5L510.5,440.5L497.5,440.5L488.5,432.5L475.5,432.5ZM509.5,493.5L511.5,489.5L521.5,480.5L526.5,480.5L535.5,485.5L540.5,486.5L544.5,490.5L544.5,494.5L538.5,500.5L528.5,504.5L524.5,504.5L516.5,501.5L510.5,496.5ZM574.5,403.5L570.5,404.5L567.5,408.5L567.5,409.5L571.5,412.5L573.5,412.5L577.5,409.5L577.5,405.5ZM353.5,412.5L357.5,416.5L364.5,416.5L369.5,413.5L374.5,412.5L377.5,408.5L377.5,405.5L373.5,402.5L370.5,402.5L369.5,401.5L362.5,401.5L357.5,403.5L355.5,405.5L353.5,409.5ZM627.5,402.5L627.5,409.5L628.5,410.5L628.5,414.5L630.5,417.5L636.5,420.5L644.5,428.5L652.5,432.5L656.5,432.5L668.5,426.5L686.5,426.5L693.5,429.5L727.5,429.5L734.5,426.5L749.5,426.5L750.5,427.5L757.5,427.5L766.5,423.5L773.5,423.5L779.5,420.5L789.5,419.5L790.5,418.5L798.5,416.5L803.5,411.5L804.5,408.5L806.5,406.5L806.5,404.5L802.5,401.5L764.5,401.5L763.5,400.5L758.5,400.5L757.5,399.5L752.5,399.5L750.5,400.5L749.5,399.5L739.5,399.5L738.5,398.5L672.5,398.5L671.5,399.5L657.5,399.5L656.5,400.5L651.5,400.5L650.5,399.5L633.5,399.5ZM548.5,397.5L546.5,397.5L545.5,396.5L540.5,396.5L539.5,397.5L534.5,397.5L529.5,400.5L527.5,404.5L527.5,413.5L528.5,414.5L532.5,427.5L536.5,427.5L543.5,423.5L545.5,423.5L549.5,420.5L553.5,412.5L553.5,409.5L554.5,408.5L551.5,400.5ZM600.5,386.5L598.5,389.5L599.5,393.5L602.5,396.5L606.5,397.5L609.5,394.5L609.5,390.5L604.5,386.5ZM495.5,384.5L491.5,385.5L485.5,391.5L485.5,394.5L484.5,395.5L486.5,400.5L493.5,405.5L497.5,404.5L503.5,396.5L503.5,389.5L499.5,385.5L496.5,385.5Z"/>
<path fill="#a000c8" d="M647.5,635.5L646.5,636.5L646.5,639.5L648.5,641.5L651.5,641.5L653.5,639.5L653.5,637.5L651.5,635.5ZM616.5,558.5L616.5,570.5L615.5,571.5L615.5,576.5L620.5,584.5L620.5,586.5L612.5,593.5L612.5,595.5L626.5,607.5L628.5,607.5L629.5,608.5L638.5,608.5L642.5,606.5L648.5,601.5L650.5,593.5L653.5,590.5L659.5,587.5L662.5,588.5L671.5,598.5L676.5,600.5L684.5,599.5L692.5,604.5L699.5,604.5L703.5,602.5L708.5,596.5L708.5,594.5L705.5,591.5L702.5,590.5L697.5,585.5L696.5,581.5L691.5,572.5L688.5,569.5L681.5,565.5L678.5,561.5L668.5,551.5L666.5,550.5L659.5,550.5L654.5,556.5L650.5,556.5L647.5,553.5L636.5,547.5L630.5,547.5L618.5,554.5ZM497.5,446.5L497.5,450.5L496.5,451.5L496.5,460.5L495.5,461.5L495.5,464.5L497.5,469.5L497.5,473.5L491.5,478.5L483.5,482.5L483.5,485.5L487.5,489.5L491.5,491.5L503.5,491.5L507.5,489.5L510.5,484.5L515.5,480.5L519.5,478.5L525.5,478.5L533.5,483.5L543.5,486.5L546.5,490.5L546.5,495.5L541.5,500.5L533.5,504.5L530.5,504.5L529.5,505.5L522.5,505.5L508.5,499.5L505.5,499.5L504.5,500.5L497.5,500.5L496.5,501.5L492.5,501.5L490.5,502.5L488.5,506.5L489.5,518.5L492.5,525.5L497.5,530.5L499.5,530.5L505.5,533.5L510.5,537.5L518.5,541.5L523.5,541.5L528.5,536.5L533.5,527.5L536.5,524.5L541.5,522.5L545.5,526.5L548.5,533.5L549.5,540.5L552.5,543.5L564.5,544.5L573.5,535.5L577.5,535.5L580.5,538.5L586.5,541.5L590.5,541.5L591.5,542.5L599.5,542.5L600.5,543.5L603.5,543.5L607.5,540.5L608.5,538.5L607.5,522.5L606.5,521.5L606.5,518.5L603.5,515.5L600.5,515.5L599.5,516.5L593.5,516.5L592.5,515.5L585.5,516.5L582.5,518.5L581.5,521.5L576.5,527.5L574.5,527.5L570.5,522.5L571.5,517.5L577.5,512.5L578.5,507.5L583.5,498.5L583.5,486.5L582.5,485.5L582.5,479.5L578.5,471.5L578.5,461.5L577.5,460.5L577.5,457.5L574.5,454.5L572.5,453.5L568.5,453.5L567.5,452.5L557.5,452.5L549.5,457.5L538.5,457.5L537.5,456.5L532.5,455.5L528.5,449.5L523.5,444.5L521.5,444.5L520.5,443.5L502.5,443.5L501.5,444.5L499.5,444.5ZM473.5,436.5L472.5,441.5L474.5,444.5L479.5,446.5L483.5,446.5L484.5,447.5L487.5,447.5L488.5,446.5L489.5,442.5L486.5,436.5L484.5,435.5L475.5,435.5ZM361.5,405.5L361.5,406.5L364.5,408.5L369.5,408.5L370.5,409.5L373.5,408.5L374.5,406.5L370.5,403.5L363.5,403.5ZM629.5,412.5L633.5,417.5L638.5,419.5L643.5,425.5L652.5,430.5L655.5,430.5L667.5,424.5L687.5,424.5L688.5,425.5L695.5,426.5L696.5,427.5L700.5,427.5L701.5,426.5L718.5,426.5L719.5,427.5L725.5,427.5L734.5,423.5L741.5,423.5L742.5,424.5L758.5,424.5L764.5,421.5L776.5,412.5L780.5,413.5L784.5,416.5L791.5,416.5L796.5,414.5L799.5,411.5L801.5,407.5L801.5,404.5L800.5,403.5L765.5,403.5L760.5,401.5L746.5,401.5L745.5,400.5L739.5,400.5L738.5,399.5L672.5,399.5L671.5,400.5L658.5,400.5L657.5,401.5L649.5,401.5L648.5,400.5L634.5,400.5L630.5,402.5L629.5,404.5ZM547.5,398.5L545.5,398.5L544.5,397.5L534.5,398.5L529.5,402.5L529.5,404.5L528.5,405.5L528.5,411.5L533.5,423.5L536.5,424.5L537.5,423.5L543.5,422.5L545.5,421.5L550.5,415.5L552.5,410.5L552.5,406.5L550.5,401.5ZM498.5,387.5L492.5,387.5L487.5,392.5L487.5,396.5L488.5,398.5L492.5,400.5L495.5,400.5L498.5,398.5L500.5,395.5L500.5,389.5Z"/>
<path fill="#f00082" d="M620.5,559.5L619.5,577.5L625.5,584.5L625.5,586.5L624.5,588.5L618.5,592.5L616.5,595.5L628.5,605.5L630.5,605.5L631.5,606.5L636.5,606.5L641.5,604.5L644.5,601.5L647.5,592.5L660.5,581.5L662.5,581.5L664.5,583.5L667.5,589.5L676.5,597.5L685.5,597.5L694.5,603.5L699.5,602.5L704.5,597.5L704.5,594.5L695.5,586.5L693.5,579.5L689.5,572.5L686.5,569.5L682.5,567.5L670.5,555.5L665.5,552.5L661.5,552.5L656.5,559.5L651.5,560.5L645.5,555.5L639.5,552.5L637.5,552.5L636.5,551.5L630.5,551.5L624.5,554.5ZM602.5,520.5L599.5,520.5L594.5,518.5L587.5,518.5L583.5,522.5L580.5,528.5L580.5,533.5L581.5,535.5L587.5,539.5L591.5,539.5L593.5,538.5L598.5,533.5L602.5,531.5L602.5,529.5L603.5,528.5L603.5,521.5ZM501.5,447.5L500.5,449.5L499.5,465.5L505.5,472.5L506.5,476.5L504.5,478.5L496.5,478.5L495.5,479.5L493.5,479.5L487.5,482.5L487.5,485.5L491.5,487.5L499.5,488.5L500.5,487.5L502.5,487.5L505.5,484.5L506.5,479.5L508.5,477.5L519.5,475.5L520.5,476.5L524.5,476.5L536.5,483.5L543.5,484.5L546.5,486.5L549.5,490.5L549.5,495.5L545.5,500.5L537.5,504.5L535.5,504.5L528.5,507.5L519.5,506.5L516.5,504.5L514.5,504.5L510.5,502.5L501.5,502.5L500.5,503.5L493.5,504.5L490.5,507.5L490.5,518.5L493.5,525.5L496.5,528.5L508.5,533.5L511.5,536.5L517.5,539.5L522.5,539.5L528.5,533.5L531.5,526.5L537.5,520.5L542.5,519.5L546.5,523.5L548.5,527.5L551.5,538.5L555.5,541.5L563.5,541.5L565.5,540.5L569.5,535.5L571.5,530.5L570.5,529.5L570.5,527.5L567.5,523.5L566.5,517.5L567.5,515.5L573.5,510.5L575.5,505.5L577.5,503.5L580.5,497.5L580.5,480.5L577.5,475.5L569.5,467.5L570.5,458.5L568.5,456.5L559.5,455.5L549.5,460.5L530.5,460.5L528.5,458.5L524.5,450.5L520.5,446.5L518.5,446.5L517.5,445.5L509.5,445.5L508.5,446.5L503.5,446.5ZM475.5,439.5L475.5,442.5L479.5,444.5L483.5,443.5L484.5,441.5L483.5,439.5L480.5,437.5L478.5,437.5ZM784.5,407.5L784.5,409.5L787.5,413.5L792.5,413.5L794.5,412.5L796.5,409.5L796.5,406.5L794.5,405.5L787.5,405.5ZM630.5,408.5L631.5,409.5L631.5,412.5L634.5,415.5L641.5,417.5L643.5,419.5L644.5,422.5L650.5,427.5L656.5,427.5L666.5,422.5L680.5,422.5L681.5,421.5L688.5,422.5L692.5,424.5L702.5,424.5L703.5,423.5L707.5,423.5L708.5,424.5L725.5,424.5L734.5,419.5L757.5,421.5L766.5,415.5L770.5,410.5L770.5,407.5L763.5,405.5L760.5,403.5L748.5,403.5L747.5,402.5L739.5,401.5L738.5,400.5L673.5,400.5L672.5,401.5L660.5,401.5L655.5,403.5L652.5,403.5L647.5,401.5L636.5,401.5L632.5,403.5ZM546.5,399.5L544.5,399.5L543.5,398.5L538.5,398.5L537.5,399.5L534.5,399.5L531.5,401.5L529.5,406.5L529.5,409.5L530.5,410.5L530.5,413.5L533.5,419.5L535.5,421.5L541.5,421.5L545.5,419.5L550.5,411.5L550.5,404.5ZM497.5,390.5L493.5,389.5L490.5,392.5L490.5,396.5L494.5,397.5L497.5,394.5Z"/>
<path fill="#ff6060" d="M625.5,560.5L625.5,562.5L624.5,563.5L624.5,566.5L625.5,567.5L624.5,569.5L624.5,577.5L626.5,579.5L628.5,579.5L634.5,583.5L634.5,585.5L631.5,588.5L625.5,591.5L624.5,593.5L624.5,598.5L626.5,601.5L629.5,603.5L632.5,603.5L633.5,604.5L638.5,603.5L642.5,599.5L644.5,591.5L650.5,585.5L651.5,585.5L654.5,582.5L656.5,578.5L662.5,573.5L665.5,573.5L667.5,575.5L667.5,582.5L668.5,583.5L668.5,585.5L677.5,595.5L687.5,595.5L693.5,600.5L697.5,600.5L699.5,599.5L700.5,594.5L691.5,586.5L689.5,582.5L688.5,574.5L686.5,571.5L677.5,565.5L667.5,556.5L662.5,555.5L659.5,561.5L656.5,564.5L654.5,564.5L653.5,565.5L652.5,564.5L650.5,564.5L643.5,557.5L638.5,555.5L632.5,555.5L628.5,557.5ZM592.5,520.5L587.5,521.5L585.5,524.5L585.5,526.5L584.5,527.5L584.5,532.5L586.5,535.5L590.5,535.5L596.5,527.5L596.5,523.5ZM503.5,451.5L503.5,454.5L504.5,455.5L504.5,465.5L511.5,471.5L519.5,471.5L537.5,482.5L543.5,482.5L548.5,484.5L553.5,489.5L553.5,498.5L549.5,502.5L547.5,502.5L543.5,504.5L540.5,504.5L527.5,510.5L525.5,510.5L509.5,504.5L502.5,504.5L501.5,505.5L495.5,506.5L493.5,507.5L491.5,510.5L491.5,517.5L494.5,524.5L497.5,527.5L504.5,529.5L516.5,536.5L521.5,536.5L526.5,532.5L528.5,528.5L529.5,522.5L532.5,519.5L537.5,516.5L544.5,516.5L548.5,521.5L548.5,523.5L552.5,530.5L553.5,536.5L557.5,539.5L561.5,539.5L563.5,538.5L567.5,533.5L567.5,528.5L561.5,519.5L561.5,514.5L571.5,505.5L577.5,496.5L577.5,490.5L578.5,489.5L578.5,481.5L577.5,479.5L573.5,475.5L565.5,471.5L562.5,467.5L562.5,460.5L557.5,460.5L554.5,462.5L552.5,462.5L551.5,463.5L546.5,463.5L545.5,464.5L543.5,463.5L536.5,463.5L531.5,465.5L527.5,468.5L522.5,468.5L520.5,465.5L521.5,459.5L522.5,458.5L521.5,451.5L516.5,447.5L512.5,447.5L511.5,448.5L507.5,448.5ZM633.5,406.5L633.5,410.5L635.5,412.5L645.5,413.5L648.5,416.5L649.5,421.5L651.5,423.5L656.5,423.5L666.5,419.5L686.5,419.5L692.5,422.5L697.5,422.5L704.5,419.5L706.5,419.5L707.5,420.5L724.5,421.5L733.5,415.5L743.5,414.5L746.5,409.5L746.5,405.5L745.5,404.5L737.5,401.5L675.5,401.5L670.5,403.5L659.5,403.5L656.5,405.5L651.5,405.5L645.5,402.5L638.5,402.5L634.5,404.5ZM538.5,399.5L532.5,402.5L531.5,404.5L531.5,411.5L535.5,418.5L537.5,419.5L541.5,419.5L545.5,416.5L548.5,411.5L548.5,404.5L545.5,400.5Z"/>
<path fill="#fa3c3c" d="M640.5,591.5L638.5,589.5L630.5,591.5L627.5,594.5L628.5,599.5L631.5,601.5L636.5,601.5L640.5,596.5ZM673.5,567.5L673.5,576.5L672.5,577.5L671.5,584.5L678.5,592.5L682.5,592.5L684.5,591.5L684.5,589.5L682.5,586.5L682.5,579.5L684.5,576.5L684.5,572.5L681.5,569.5L677.5,567.5ZM632.5,562.5L633.5,563.5L633.5,565.5L635.5,566.5L641.5,566.5L643.5,565.5L643.5,561.5L641.5,559.5L639.5,559.5L638.5,558.5L634.5,559.5ZM561.5,532.5L560.5,532.5L558.5,535.5L560.5,535.5L561.5,534.5ZM539.5,509.5L539.5,510.5L542.5,510.5L542.5,509.5ZM493.5,511.5L492.5,516.5L496.5,524.5L500.5,526.5L504.5,526.5L505.5,527.5L512.5,527.5L513.5,526.5L521.5,526.5L522.5,527.5L522.5,514.5L521.5,512.5L518.5,510.5L513.5,508.5L510.5,508.5L509.5,507.5L502.5,507.5L501.5,508.5L497.5,508.5ZM564.5,477.5L562.5,480.5L562.5,490.5L563.5,492.5L569.5,495.5L572.5,495.5L575.5,491.5L576.5,483.5L572.5,478.5L570.5,477.5ZM528.5,472.5L528.5,473.5L533.5,478.5L537.5,480.5L543.5,480.5L546.5,478.5L545.5,471.5L541.5,468.5L536.5,467.5L535.5,468.5L533.5,468.5ZM511.5,452.5L511.5,453.5L513.5,454.5L515.5,454.5L516.5,453.5L515.5,451.5L512.5,451.5ZM637.5,406.5L638.5,408.5L643.5,408.5L645.5,407.5L643.5,404.5L640.5,404.5ZM674.5,405.5L678.5,407.5L685.5,415.5L691.5,419.5L696.5,419.5L698.5,418.5L701.5,414.5L710.5,414.5L712.5,411.5L717.5,407.5L719.5,407.5L723.5,411.5L724.5,414.5L728.5,414.5L729.5,413.5L734.5,412.5L738.5,410.5L741.5,407.5L738.5,403.5L735.5,403.5L734.5,402.5L725.5,402.5L724.5,403.5L711.5,403.5L710.5,402.5L687.5,403.5L686.5,402.5L679.5,402.5L678.5,403.5L676.5,403.5ZM541.5,400.5L535.5,401.5L532.5,405.5L533.5,412.5L539.5,417.5L540.5,417.5L544.5,413.5L546.5,409.5L546.5,404.5L545.5,402.5Z"/>
</g>
<g clip-path="url(#ct)" fill="none" stroke="#787878" stroke-width="1" shape-rendering="crispEdges"><path d="M401.5,41V364M464.5,41V364M526.5,41V364M589.5,41V364M652.5,41V364M714.5,41V364M777.5,41V364" stroke-dasharray="2 7" stroke-dashoffset="1"/><path d="M346,53.5H839M346,115.5H839M346,178.5H839M346,240.5H839M346,303.5H839" stroke-dasharray="2 7" stroke-dashoffset="2"/></g>
<g clip-path="url(#cb)" fill="none" stroke="#787878" stroke-width="1" shape-rendering="crispEdges"><path d="M401.5,366V672M464.5,366V672M526.5,366V672M589.5,366V672M652.5,366V672M714.5,366V672M777.5,366V672" stroke-dasharray="2 7" stroke-dashoffset="1"/><path d="M346,378.5H839M346,440.5H839M346,503.5H839M346,565.5H839M346,628.5H839" stroke-dasharray="2 7" stroke-dashoffset="2"/></g>
<path clip-path="url(#ct)" d="M440.9,38.6L441.2,46.8L442.8,50.5L445.3,53.3L448.1,55.8L450.3,58.3L452.8,59.6L456.6,60.5L459.7,58.9L464.1,57.1L467.2,55.5L471.0,56.4L476.6,58.0L480.7,61.3L482.9,64.2L484.2,66.1L484.5,62.4L487.3,59.6L491.1,56.8L492.0,51.8L492.3,50.2L495.4,47.4L496.7,46.4L500.5,45.2L506.1,44.9L508.6,43.3L513.0,41.1L514.9,38.6M519.3,38.6L518.3,41.8L514.6,44.2L516.8,47.1L514.9,50.5L514.3,55.5L516.8,58.9L520.2,57.4L519.3,51.8L517.4,47.1L520.5,46.8L524.9,44.2L525.5,42.7L526.2,38.6M528.4,38.6L528.1,43.0L528.4,43.9L533.1,43.9L536.8,45.5L538.1,48.0L539.3,49.9L545.6,49.2L551.3,49.2L556.9,52.4L561.9,51.4L563.2,49.6L570.7,48.6L577.6,48.6L575.1,49.6L571.9,50.5L573.2,52.4L575.7,53.6L579.5,53.9L583.2,56.1L584.5,59.2L583.9,61.8L589.5,62.4L590.8,63.6L595.1,65.5L598.3,69.2L599.2,72.4L601.1,73.0L604.5,75.5L607.1,78.0L608.0,78.3L611.4,78.3L615.2,78.6L619.9,78.3L624.6,78.6L627.1,79.6L630.3,80.8L634.0,82.1L637.8,84.6L640.9,87.4L641.9,89.6L644.7,90.5L645.9,95.5L647.8,101.8L650.3,104.2L652.8,105.2L652.2,109.2L649.7,112.4L645.3,115.5L643.4,119.2L640.3,123.6L644.7,123.9L648.4,126.8L654.7,127.1L659.1,125.5L661.6,124.6L664.7,119.9L668.5,119.2L673.5,121.1L677.3,122.4L681.7,124.9L684.2,126.1L686.1,129.2L687.9,131.8L689.8,131.1L693.6,130.5L698.0,131.4L703.6,133.0L707.4,133.6L711.8,133.3L717.4,134.9L724.3,138.6L728.7,143.0L732.5,145.5L736.8,147.4L743.1,147.7L744.7,149.9L745.0,151.8L746.6,156.1L747.5,159.9L747.2,165.8L745.6,171.1L741.9,175.8L737.5,181.1L733.4,183.9L730.6,188.0L727.4,193.6L724.3,196.8L721.5,200.5L721.2,208.0L721.8,214.2L720.5,218.6L719.9,225.5L717.4,229.9L716.5,237.4L713.6,242.4L709.9,246.8L708.6,251.1L708.6,253.0L703.6,256.1L702.4,258.9L694.8,259.2L687.9,259.2L685.4,261.4L681.0,264.2L675.4,265.5L671.0,268.6L665.4,272.4L662.2,274.9L661.0,279.2L661.0,284.9L661.6,288.0L660.7,293.0L656.6,296.4L652.8,299.9L650.9,304.2L647.8,308.6L644.7,312.4L639.0,316.8L635.9,321.8L630.9,326.4L628.4,330.5L624.0,333.0L621.2,333.9L613.3,333.6L607.7,330.8L602.7,330.8L599.5,328.0L598.9,331.1L604.5,334.2L607.1,336.8L606.4,340.5L610.2,343.0L610.2,346.1L605.2,353.0L597.7,356.8L589.5,358.6L580.1,359.2L576.3,358.0L575.1,361.1L577.0,364.2L575.1,367.4M503.0,367.4L503.6,365.5L505.5,361.8L506.4,359.2L504.9,353.0L503.9,348.0L507.4,345.5L509.2,340.5L513.0,334.2L514.9,328.0L516.5,321.8L517.4,315.5L518.0,303.0L517.4,296.8L519.3,290.5L521.2,284.2L522.4,278.0L523.7,271.8L523.7,265.5L523.0,259.9L524.9,258.6L525.5,253.0L525.9,246.8L525.9,240.5L524.9,234.2L524.6,230.5L521.2,228.0L518.0,225.5L513.6,221.8L509.2,219.2L503.6,216.8L499.2,214.2L494.2,211.1L489.8,207.4L487.3,203.0L487.9,199.2L484.2,193.6L482.0,190.5L478.8,184.2L475.4,178.0L472.6,171.8L470.1,166.1L466.0,159.2L460.3,154.9L457.2,151.8L456.9,147.4L455.9,144.2L458.5,140.5L462.2,137.4L464.1,136.1L465.0,132.4L464.7,129.9L461.6,131.1L457.8,129.2L459.1,125.5L458.5,121.8L461.3,118.6L463.5,115.5L463.8,111.8L466.6,109.2L471.3,106.4L471.6,104.2L476.6,99.2L479.8,95.5L482.3,91.1L480.7,87.4L480.4,81.1L480.1,76.8L478.5,72.4L477.3,70.5L475.4,68.0L474.8,65.5L474.8,63.6L472.9,62.4L469.7,59.6L466.9,59.6L465.4,61.8L463.5,63.6L461.6,65.5L463.8,68.9L460.3,70.2L458.5,69.9L456.6,67.4L453.4,66.1L450.3,64.2L445.9,65.2L444.7,63.0L440.9,63.0L441.2,61.1L440.9,58.6L437.8,56.8L434.9,55.5L434.0,53.3L431.8,55.5L427.4,51.8L428.0,47.4L427.7,46.1L425.2,43.6L422.1,40.5L420.2,38.6M647.2,116.8L650.3,113.9L654.7,113.6L659.1,116.8L662.2,120.2L660.4,124.2L655.3,126.4L649.1,126.1L647.2,121.8L647.2,116.8M577.6,52.7L580.1,48.6L583.9,48.0L583.2,52.4L577.6,52.7M527.1,211.4L531.2,212.4L535.0,217.7L533.1,218.9L528.7,215.5L527.1,211.4M644.7,304.2L648.4,305.5L644.7,311.1L639.3,315.8L638.4,313.6L642.8,309.2L644.7,304.2M635.9,316.8L634.6,320.5L630.3,324.9L629.6,323.0L633.4,318.0L635.9,316.8M480.7,61.3L481.7,65.8L479.8,68.0L477.3,70.5M448.1,55.8L445.9,58.6L446.2,61.8L445.9,65.2M441.2,47.2L434.6,46.4L428.4,46.1M518.5,41.4L512.7,45.8L511.1,46.1L508.6,50.2L508.0,54.2L509.2,58.6L511.8,63.0L511.4,69.2L514.3,71.8L522.4,71.4L526.8,72.1L530.6,77.4L542.8,76.8L540.3,82.4L540.6,90.5L543.7,98.3L546.6,108.0M546.6,108.0L545.0,104.9L540.0,104.6L538.1,103.3L527.7,104.9L527.7,108.8L531.8,109.2L530.6,111.8L526.5,111.8L526.5,116.8L530.6,122.4L527.1,141.8M527.1,141.8L524.9,139.6L522.4,139.2L526.5,132.7L515.8,128.9L507.4,129.9L499.2,118.9L493.6,116.1M493.6,116.1L491.7,115.2L487.3,113.0L480.4,113.0L478.5,110.3L471.3,106.4M493.6,116.1L494.2,121.4L492.0,125.2L485.4,131.8L477.6,134.2L474.4,136.8L472.3,144.2L470.1,146.8L466.6,143.3L461.3,143.3L463.2,139.9L462.2,136.8M527.1,141.8L520.8,143.0L508.9,147.7L506.4,153.3L507.0,156.1L503.6,158.6L501.7,162.7L508.0,171.8L513.3,178.0L523.0,176.4L523.7,184.2L529.6,183.9M529.6,183.9L535.3,193.6L533.1,201.1L534.0,204.2L530.9,208.0L532.1,210.8L530.6,213.3L533.4,216.8L533.1,218.6L529.0,223.6L529.9,224.9M529.9,224.9L524.3,230.2M529.9,224.9L532.4,228.6L533.4,234.2L536.2,239.2L534.6,243.0L536.2,246.4L538.1,249.9L540.3,258.3M540.3,258.3L544.4,258.0L550.0,252.1L556.9,253.6L562.2,258.3L564.7,253.0L571.9,253.0L572.9,254.6M572.9,254.6L578.5,238.3L595.1,236.1L601.1,241.4M601.1,241.4L603.0,234.2L605.2,229.2L599.5,223.3L599.8,217.4L588.2,217.1L587.9,209.9L586.4,201.8L578.2,199.9L571.9,196.8L561.9,193.3L556.3,188.6L555.6,176.1L548.1,177.4L537.5,184.2L529.6,183.9M601.1,241.4L603.0,253.6L610.2,254.6L616.1,255.5L618.3,265.2L625.2,265.8L623.4,275.5M623.4,275.5L622.7,281.1L615.5,286.4L612.1,287.7L598.3,286.1L604.2,273.6L597.0,270.5L583.2,264.2L572.9,254.6M623.4,275.5L628.1,275.8L629.3,279.6L628.4,285.2L620.8,289.6L616.1,292.1L612.7,295.5L604.5,304.2M604.5,304.2L603.0,309.2L600.8,318.6L599.5,327.4M604.5,304.2L614.6,308.0L617.1,308.3L623.4,312.1L628.7,316.1L632.8,319.9L630.9,326.4M540.3,258.3L545.6,259.2L543.7,265.5L536.8,268.6L535.9,273.0L536.8,279.2L537.5,283.6L532.4,288.6L529.0,293.0L526.8,298.6L527.4,304.9L523.7,310.5L524.6,315.5L526.2,321.8L528.1,323.6L528.1,329.2L524.3,335.5L524.3,341.1L519.9,344.2L519.3,349.9L521.5,356.8L518.0,358.6L516.1,363.0L516.5,367.4M546.6,108.0L550.0,110.8L554.7,109.6L556.3,108.3L563.8,105.2L564.4,103.3L568.2,101.8L564.4,99.9L563.2,95.5L563.2,89.9L572.3,92.4L571.3,90.2L577.9,89.6L584.8,83.0M584.8,83.0L580.7,78.3L582.6,73.6L587.6,71.8L585.1,68.3L590.8,63.6M584.8,83.0L588.9,83.0L589.8,87.4L592.3,90.8L590.4,93.0L589.8,99.2L591.1,103.6L595.8,107.4L598.9,107.4L606.4,103.3L611.4,103.3M608.0,78.3L606.4,82.4L603.3,86.8L601.7,90.5L606.4,94.6L611.4,103.3M611.4,103.3L615.2,103.9L615.2,99.9L623.4,100.8M627.1,79.6L624.3,84.2L627.1,93.0L623.4,100.8M623.4,100.8L634.0,101.8L636.2,99.6L641.9,89.6M398,120.5L399.5,119.5L401.5,119.5M675.5,243.5L678,245L680,245.5L678.5,248L681,249.5L679,251M681,231L683,232.5L682,235L683.5,236M619.5,84.5L621,86L620,88.5L619.5,84.5" fill="none" stroke="#000" stroke-width="1" stroke-linejoin="round" shape-rendering="crispEdges"/><path clip-path="url(#ct)" d="M391,115L395,115L396,117L396.5,122L394,123.5L393,122L392.5,119L391,117Z" fill="#000" stroke="#000" stroke-width="0.6"/>
<path clip-path="url(#cb)" d="M440.9,363.6L441.2,371.8L442.8,375.5L445.3,378.3L448.1,380.8L450.3,383.3L452.8,384.6L456.6,385.5L459.7,383.9L464.1,382.1L467.2,380.5L471.0,381.4L476.6,383.0L480.7,386.3L482.9,389.2L484.2,391.1L484.5,387.4L487.3,384.6L491.1,381.8L492.0,376.8L492.3,375.2L495.4,372.4L496.7,371.4L500.5,370.2L506.1,369.9L508.6,368.3L513.0,366.1L514.9,363.6M519.3,363.6L518.3,366.8L514.6,369.2L516.8,372.1L514.9,375.5L514.3,380.5L516.8,383.9L520.2,382.4L519.3,376.8L517.4,372.1L520.5,371.8L524.9,369.2L525.5,367.7L526.2,363.6M528.4,363.6L528.1,368.0L528.4,368.9L533.1,368.9L536.8,370.5L538.1,373.0L539.3,374.9L545.6,374.2L551.3,374.2L556.9,377.4L561.9,376.4L563.2,374.6L570.7,373.6L577.6,373.6L575.1,374.6L571.9,375.5L573.2,377.4L575.7,378.6L579.5,378.9L583.2,381.1L584.5,384.2L583.9,386.8L589.5,387.4L590.8,388.6L595.1,390.5L598.3,394.2L599.2,397.4L601.1,398.0L604.5,400.5L607.1,403.0L608.0,403.3L611.4,403.3L615.2,403.6L619.9,403.3L624.6,403.6L627.1,404.6L630.3,405.8L634.0,407.1L637.8,409.6L640.9,412.4L641.9,414.6L644.7,415.5L645.9,420.5L647.8,426.8L650.3,429.2L652.8,430.2L652.2,434.2L649.7,437.4L645.3,440.5L643.4,444.2L640.3,448.6L644.7,448.9L648.4,451.8L654.7,452.1L659.1,450.5L661.6,449.6L664.7,444.9L668.5,444.2L673.5,446.1L677.3,447.4L681.7,449.9L684.2,451.1L686.1,454.2L687.9,456.8L689.8,456.1L693.6,455.5L698.0,456.4L703.6,458.0L707.4,458.6L711.8,458.3L717.4,459.9L724.3,463.6L728.7,468.0L732.5,470.5L736.8,472.4L743.1,472.7L744.7,474.9L745.0,476.8L746.6,481.1L747.5,484.9L747.2,490.8L745.6,496.1L741.9,500.8L737.5,506.1L733.4,508.9L730.6,513.0L727.4,518.6L724.3,521.8L721.5,525.5L721.2,533.0L721.8,539.2L720.5,543.6L719.9,550.5L717.4,554.9L716.5,562.4L713.6,567.4L709.9,571.8L708.6,576.1L708.6,578.0L703.6,581.1L702.4,583.9L694.8,584.2L687.9,584.2L685.4,586.4L681.0,589.2L675.4,590.5L671.0,593.6L665.4,597.4L662.2,599.9L661.0,604.2L661.0,609.9L661.6,613.0L660.7,618.0L656.6,621.4L652.8,624.9L650.9,629.2L647.8,633.6L644.7,637.4L639.0,641.8L635.9,646.8L630.9,651.4L628.4,655.5L624.0,658.0L621.2,658.9L613.3,658.6L607.7,655.8L602.7,655.8L599.5,653.0L598.9,656.1L604.5,659.2L607.1,661.8L606.4,665.5L610.2,668.0L610.2,671.1L605.2,678.0L597.7,681.8L589.5,683.6L580.1,684.2L576.3,683.0L575.1,686.1L577.0,689.2L575.1,692.4M503.0,692.4L503.6,690.5L505.5,686.8L506.4,684.2L504.9,678.0L503.9,673.0L507.4,670.5L509.2,665.5L513.0,659.2L514.9,653.0L516.5,646.8L517.4,640.5L518.0,628.0L517.4,621.8L519.3,615.5L521.2,609.2L522.4,603.0L523.7,596.8L523.7,590.5L523.0,584.9L524.9,583.6L525.5,578.0L525.9,571.8L525.9,565.5L524.9,559.2L524.6,555.5L521.2,553.0L518.0,550.5L513.6,546.8L509.2,544.2L503.6,541.8L499.2,539.2L494.2,536.1L489.8,532.4L487.3,528.0L487.9,524.2L484.2,518.6L482.0,515.5L478.8,509.2L475.4,503.0L472.6,496.8L470.1,491.1L466.0,484.2L460.3,479.9L457.2,476.8L456.9,472.4L455.9,469.2L458.5,465.5L462.2,462.4L464.1,461.1L465.0,457.4L464.7,454.9L461.6,456.1L457.8,454.2L459.1,450.5L458.5,446.8L461.3,443.6L463.5,440.5L463.8,436.8L466.6,434.2L471.3,431.4L471.6,429.2L476.6,424.2L479.8,420.5L482.3,416.1L480.7,412.4L480.4,406.1L480.1,401.8L478.5,397.4L477.3,395.5L475.4,393.0L474.8,390.5L474.8,388.6L472.9,387.4L469.7,384.6L466.9,384.6L465.4,386.8L463.5,388.6L461.6,390.5L463.8,393.9L460.3,395.2L458.5,394.9L456.6,392.4L453.4,391.1L450.3,389.2L445.9,390.2L444.7,388.0L440.9,388.0L441.2,386.1L440.9,383.6L437.8,381.8L434.9,380.5L434.0,378.3L431.8,380.5L427.4,376.8L428.0,372.4L427.7,371.1L425.2,368.6L422.1,365.5L420.2,363.6M647.2,441.8L650.3,438.9L654.7,438.6L659.1,441.8L662.2,445.2L660.4,449.2L655.3,451.4L649.1,451.1L647.2,446.8L647.2,441.8M577.6,377.7L580.1,373.6L583.9,373.0L583.2,377.4L577.6,377.7M527.1,536.4L531.2,537.4L535.0,542.7L533.1,543.9L528.7,540.5L527.1,536.4M644.7,629.2L648.4,630.5L644.7,636.1L639.3,640.8L638.4,638.6L642.8,634.2L644.7,629.2M635.9,641.8L634.6,645.5L630.3,649.9L629.6,648.0L633.4,643.0L635.9,641.8M480.7,386.3L481.7,390.8L479.8,393.0L477.3,395.5M448.1,380.8L445.9,383.6L446.2,386.8L445.9,390.2M441.2,372.2L434.6,371.4L428.4,371.1M518.5,366.4L512.7,370.8L511.1,371.1L508.6,375.2L508.0,379.2L509.2,383.6L511.8,388.0L511.4,394.2L514.3,396.8L522.4,396.4L526.8,397.1L530.6,402.4L542.8,401.8L540.3,407.4L540.6,415.5L543.7,423.3L546.6,433.0M546.6,433.0L545.0,429.9L540.0,429.6L538.1,428.3L527.7,429.9L527.7,433.8L531.8,434.2L530.6,436.8L526.5,436.8L526.5,441.8L530.6,447.4L527.1,466.8M527.1,466.8L524.9,464.6L522.4,464.2L526.5,457.7L515.8,453.9L507.4,454.9L499.2,443.9L493.6,441.1M493.6,441.1L491.7,440.2L487.3,438.0L480.4,438.0L478.5,435.3L471.3,431.4M493.6,441.1L494.2,446.4L492.0,450.2L485.4,456.8L477.6,459.2L474.4,461.8L472.3,469.2L470.1,471.8L466.6,468.3L461.3,468.3L463.2,464.9L462.2,461.8M527.1,466.8L520.8,468.0L508.9,472.7L506.4,478.3L507.0,481.1L503.6,483.6L501.7,487.7L508.0,496.8L513.3,503.0L523.0,501.4L523.7,509.2L529.6,508.9M529.6,508.9L535.3,518.6L533.1,526.1L534.0,529.2L530.9,533.0L532.1,535.8L530.6,538.3L533.4,541.8L533.1,543.6L529.0,548.6L529.9,549.9M529.9,549.9L524.3,555.2M529.9,549.9L532.4,553.6L533.4,559.2L536.2,564.2L534.6,568.0L536.2,571.4L538.1,574.9L540.3,583.3M540.3,583.3L544.4,583.0L550.0,577.1L556.9,578.6L562.2,583.3L564.7,578.0L571.9,578.0L572.9,579.6M572.9,579.6L578.5,563.3L595.1,561.1L601.1,566.4M601.1,566.4L603.0,559.2L605.2,554.2L599.5,548.3L599.8,542.4L588.2,542.1L587.9,534.9L586.4,526.8L578.2,524.9L571.9,521.8L561.9,518.3L556.3,513.6L555.6,501.1L548.1,502.4L537.5,509.2L529.6,508.9M601.1,566.4L603.0,578.6L610.2,579.6L616.1,580.5L618.3,590.2L625.2,590.8L623.4,600.5M623.4,600.5L622.7,606.1L615.5,611.4L612.1,612.7L598.3,611.1L604.2,598.6L597.0,595.5L583.2,589.2L572.9,579.6M623.4,600.5L628.1,600.8L629.3,604.6L628.4,610.2L620.8,614.6L616.1,617.1L612.7,620.5L604.5,629.2M604.5,629.2L603.0,634.2L600.8,643.6L599.5,652.4M604.5,629.2L614.6,633.0L617.1,633.3L623.4,637.1L628.7,641.1L632.8,644.9L630.9,651.4M540.3,583.3L545.6,584.2L543.7,590.5L536.8,593.6L535.9,598.0L536.8,604.2L537.5,608.6L532.4,613.6L529.0,618.0L526.8,623.6L527.4,629.9L523.7,635.5L524.6,640.5L526.2,646.8L528.1,648.6L528.1,654.2L524.3,660.5L524.3,666.1L519.9,669.2L519.3,674.9L521.5,681.8L518.0,683.6L516.1,688.0L516.5,692.4M546.6,433.0L550.0,435.8L554.7,434.6L556.3,433.3L563.8,430.2L564.4,428.3L568.2,426.8L564.4,424.9L563.2,420.5L563.2,414.9L572.3,417.4L571.3,415.2L577.9,414.6L584.8,408.0M584.8,408.0L580.7,403.3L582.6,398.6L587.6,396.8L585.1,393.3L590.8,388.6M584.8,408.0L588.9,408.0L589.8,412.4L592.3,415.8L590.4,418.0L589.8,424.2L591.1,428.6L595.8,432.4L598.9,432.4L606.4,428.3L611.4,428.3M608.0,403.3L606.4,407.4L603.3,411.8L601.7,415.5L606.4,419.6L611.4,428.3M611.4,428.3L615.2,428.9L615.2,424.9L623.4,425.8M627.1,404.6L624.3,409.2L627.1,418.0L623.4,425.8M623.4,425.8L634.0,426.8L636.2,424.6L641.9,414.6M398,445.5L399.5,444.5L401.5,444.5M675.5,568.5L678,570L680,570.5L678.5,573L681,574.5L679,576M681,556L683,557.5L682,560L683.5,561M619.5,409.5L621,411L620,413.5L619.5,409.5" fill="none" stroke="#000" stroke-width="1" stroke-linejoin="round" shape-rendering="crispEdges"/><path clip-path="url(#cb)" d="M391,440L395,440L396,442L396.5,447L394,448.5L393,447L392.5,444L391,442Z" fill="#000" stroke="#000" stroke-width="0.6"/>
<g fill="none" stroke="#000" stroke-width="2" shape-rendering="crispEdges"><rect x="345" y="40" width="495" height="325"/><rect x="345" y="365" width="495" height="320"/></g>
<g shape-rendering="crispEdges">
<polygon points="31.5,350.5 31.5,375.5 5.5,363" fill="#f0e6e0" stroke="#000" stroke-width="1"/>
<rect x="31.5" y="350.5" width="26" height="25.0" fill="#e6dc32" stroke="#000" stroke-width="1"/>
<rect x="57.5" y="350.5" width="26" height="25.0" fill="#a0e632" stroke="#000" stroke-width="1"/>
<rect x="83.5" y="350.5" width="26" height="25.0" fill="#00dc00" stroke="#000" stroke-width="1"/>
<rect x="109.5" y="350.5" width="26" height="25.0" fill="#00d28c" stroke="#000" stroke-width="1"/>
<rect x="135.5" y="350.5" width="26" height="25.0" fill="#00c8c8" stroke="#000" stroke-width="1"/>
<rect x="161.5" y="350.5" width="26" height="25.0" fill="#00a0ff" stroke="#000" stroke-width="1"/>
<rect x="187.5" y="350.5" width="26" height="25.0" fill="#1e3cff" stroke="#000" stroke-width="1"/>
<rect x="213.5" y="350.5" width="26" height="25.0" fill="#8200dc" stroke="#000" stroke-width="1"/>
<rect x="239.5" y="350.5" width="26" height="25.0" fill="#a000c8" stroke="#000" stroke-width="1"/>
<rect x="265.5" y="350.5" width="26" height="25.0" fill="#f00082" stroke="#000" stroke-width="1"/>
<rect x="291.5" y="350.5" width="26" height="25.0" fill="#ff6060" stroke="#000" stroke-width="1"/>
<polygon points="317.5,350.5 317.5,375.5 344,363" fill="#fa3c3c" stroke="#000" stroke-width="1"/>
</g>
</svg>
<div class="t big" id="t1" style="left:358.27px;top:5.00px;font-size:28.2px;transform:scaleX(1.2435)">Precipitation</div>
<div class="t big" id="t2" style="left:621.52px;top:4.00px;font-size:28.2px;transform:scaleX(1.2935)">Forecast</div>
<div class="t med" id="l1" style="left:88.33px;top:49.00px;font-size:17.8px;transform:scaleX(0.9198)">Precipitation (mm)</div>
<div class="t med" id="l2" style="left:92.93px;top:74.80px;font-size:17.8px;transform:scaleX(0.9033)">during the period:</div>
<div class="t med" id="l3" style="left:60.42px;top:155.00px;font-size:17.8px;transform:scaleX(0.9523)">Thu, 05 JAN 2012 at 00Z</div>
<div class="t sm" id="l4" style="left:145.10px;top:185.00px;font-size:13.2px;transform:scaleX(1.2393)"><span class="d">-</span>to<span class="d">-</span></div>
<div class="t med" id="l5" style="left:60.42px;top:215.00px;font-size:17.8px;transform:scaleX(0.9523)">Thu, 12 JAN 2012 at 12Z</div>
<div class="t sm" id="l6" style="left:136.70px;top:401.40px;font-size:13.2px;transform:scaleX(1.0395)">millimeters</div>
<div class="t med" id="l7" style="left:62.22px;top:480.00px;font-size:17.8px;transform:scaleX(0.9867)">Fri, 13 JAN 2012 at 00Z</div>
<div class="t sm" id="l8" style="left:145.10px;top:510.00px;font-size:13.2px;transform:scaleX(1.2393)"><span class="d">-</span>to<span class="d">-</span></div>
<div class="t med" id="l9" style="left:60.22px;top:539.00px;font-size:17.8px;transform:scaleX(0.9723)">Sat, 21 JAN 2012 at 00Z</div>
<div class="t tick" style="left:11.0px;top:379.5px;width:40px">2</div>
<div class="t tick" style="left:37.0px;top:379.5px;width:40px">5</div>
<div class="t tick" style="left:63.0px;top:379.5px;width:40px">10</div>
<div class="t tick" style="left:89.0px;top:379.5px;width:40px">20</div>
<div class="t tick" style="left:115.0px;top:379.5px;width:40px">35</div>
<div class="t tick" style="left:141.0px;top:379.5px;width:40px">50</div>
<div class="t tick" style="left:167.0px;top:379.5px;width:40px">65</div>
<div class="t tick" style="left:193.0px;top:379.5px;width:40px">80</div>
<div class="t tick" style="left:219.0px;top:379.5px;width:40px">100</div>
<div class="t tick" style="left:245.0px;top:379.5px;width:40px">125</div>
<div class="t tick" style="left:271.0px;top:379.5px;width:40px">150</div>
<div class="t tick" style="left:297.0px;top:379.5px;width:40px">200</div>
</body></html>
